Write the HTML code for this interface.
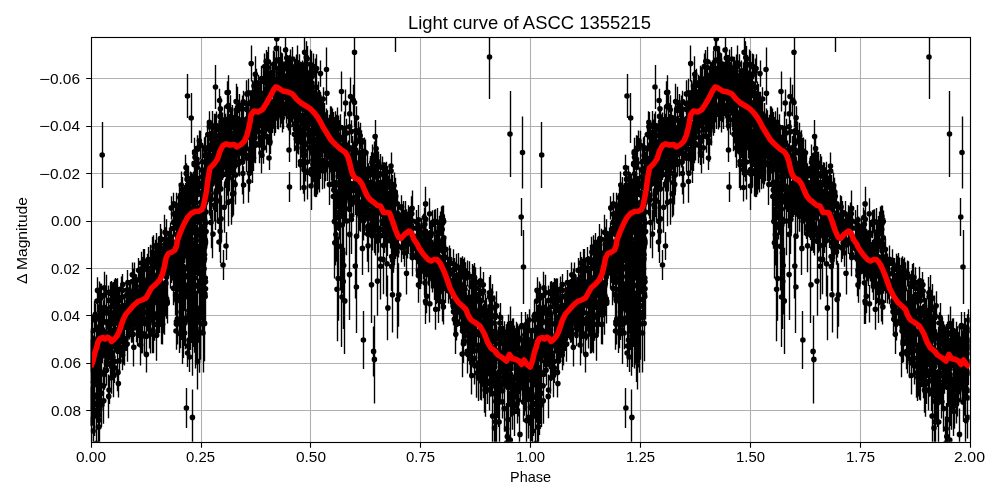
<!DOCTYPE html>
<html lang="en"><head><meta charset="utf-8"><title>Light curve of ASCC 1355215</title>
<style>
html,body{margin:0;padding:0;background:#fff;}
body{width:1000px;height:500px;overflow:hidden;font-family:"Liberation Sans",sans-serif;}
svg{display:block;}
text{font-family:"Liberation Sans",sans-serif;fill:#000;}
</style></head><body>
<svg width="1000" height="500" viewBox="0 0 1000 500">
<rect width="1000" height="500" fill="#fff"/>
<clipPath id="ax"><rect x="90.65" y="37.33" width="879.04" height="404.39"/></clipPath>
<!-- grid -->
<path d="M91.5 37.5V442.5M201.5 37.5V442.5M310.5 37.5V442.5M420.5 37.5V442.5M530.5 37.5V442.5M640.5 37.5V442.5M750.5 37.5V442.5M860.5 37.5V442.5M970.5 37.5V442.5M91.5 78.5H970.5M91.5 126.5H970.5M91.5 173.5H970.5M91.5 221.5H970.5M91.5 268.5H970.5M91.5 315.5H970.5M91.5 363.5H970.5M91.5 410.5H970.5" fill="none" stroke="#b0b0b0" stroke-width="1.11"/>
<g clip-path="url(#ax)">
<!-- error bars -->
<path d="M90.5 381.2v36.4M91.5 332.6v28M90.5 349.5v22.8M91.5 402.4v38.9M90.5 388.4v37.7M90.5 334.7v20.1M90.5 330.9v23.7M91.5 356.2v22.7M91.5 388.6v38.3M91.5 398.4v42.2M90.5 340.5v20.6M91.5 334.4v28.2M91.5 401.8v42.7M91.5 361.4v21.9M91.5 377.2v35.9M92.5 335.1v24.1M92.5 377.7v31.4M91.5 344.9v20.3M91.5 372v34.2M92.5 333.6v28.7M92.5 357.8v23.6M92.5 355.3v21.5M92.5 327.9v28.1M91.5 370v20.9M93.5 362.3v23.5M92.5 316v29.2M92.5 329.8v29.5M92.5 384.7v39.1M92.5 329.8v24M92.5 357v29.2M93.5 366.1v28.1M92.5 351.5v24.7M93.5 347.9v20.6M93.5 335.6v27.3M92.5 362.2v28.8M92.5 351.1v20.3M92.5 366.9v22.6M93.5 405.6v50.8M93.5 378.8v36.8M94.5 301.2v29.6M94.5 364.6v32.6M94.5 383.5v41.8M94.5 368.6v32.4M93.5 347.3v27.2M94.5 395.6v40.5M94.5 340v29.4M93.5 339.9v26.6M94.5 342.4v26.6M94.5 327.4v27.5M95.5 309.7v20.8M94.5 361.2v24.9M94.5 341.2v24.3M95.5 356.5v21.1M94.5 333.9v26.7M96.5 364.6v28.3M96.5 387.4v48.3M96.5 335.6v28.4M95.5 337.8v28.4M96.5 315.9v27.2M96.5 335.5v23.9M96.5 363v27M95.5 303.7v21.2M96.5 344.8v21.8M96.5 389.3v42.2M95.5 349.2v20.7M96.5 414.3v57.8M97.5 290v22.3M97.5 326v26.7M97.5 338v25.2M97.5 347.9v28.5M97.5 382.9v39.8M97.5 326v29.7M97.5 277.2v26.4M98.5 305v21.7M98.5 323.2v29.2M97.5 344.8v29.9M98.5 354.7v25.9M97.5 372.2v44M98.5 386.7v51.5M97.5 364.3v35M97.5 359.6v37.4M98.5 332.3v29.6M98.5 362.1v35.2M97.5 344.4v25.6M98.5 351.6v30.7M97.5 329.9v22.2M98.5 396.7v60.8M99.5 329.7v24M99.5 343.8v25.5M99.5 330v23.4M99.5 335.7v28.4M98.5 315v24.2M99.5 369.1v39M99.5 337.8v23.7M99.5 327.1v23.8M98.5 304.2v26.9M99.5 353.7v30.3M99.5 387.6v53.9M99.5 305.2v22M99.5 394.2v51.6M98.5 395.7v62.6M99.5 318.3v29.6M99.5 334.5v22.6M99.5 306.1v27.7M99.5 335.6v24.4M99.5 322.3v26.4M99.5 335.6v22.8M99.5 335.2v21.7M99.5 318.6v21.6M100.5 320.6v26.2M99.5 335.9v21.6M100.5 367.3v34.1M99.5 334.9v22.1M100.5 283.6v23.2M99.5 281.6v31.3M99.5 383.9v51.2M100.5 305v20.8M101.5 379.6v44.5M101.5 357.5v31.8M101.5 283.7v28.5M100.5 310.5v29.4M100.5 321.3v28.2M100.5 355.1v33.8M101.5 340.1v28.2M101.5 330.5v24.5M101.5 325.7v26.4M101.5 373v40.5M101.5 317.8v24.5M101.5 314.9v20.8M101.5 332v27.4M101.5 305.9v25.1M101.5 383.2v43.7M103.5 335v22.6M102.5 342.3v20.8M103.5 300.3v26.5M102.5 331.4v25.9M102.5 336.2v25.8M103.5 308.4v28.2M104.5 293.2v28.2M103.5 367.3v36.8M103.5 316.5v29.1M103.5 377.9v45.8M104.5 284.6v21.4M104.5 359.3v30.4M103.5 338.5v20.1M104.5 297.3v24.6M104.5 327.4v20.3M105.5 339.8v24M104.5 271.8v32.3M106.5 295.1v27.1M106.5 344.2v25M106.5 308.7v26.1M106.5 348.7v30.5M106.5 344.8v23M106.5 329.3v28.9M106.5 274.8v35.2M106.5 276.2v32.6M106.5 321.7v22.8M106.5 354.8v30.8M107.5 342.5v28.9M106.5 311.7v20.3M106.5 350.4v28.7M106.5 299.2v27.1M108.5 285.5v29.9M108.5 341.7v20.4M108.5 321.3v23.3M108.5 312.4v24.4M108.5 338.7v22.5M108.5 316.6v20.9M109.5 327.8v28M109.5 317.5v21M108.5 330.5v28.2M109.5 323.3v28.9M108.5 374.6v43.6M110.5 281.7v23.1M110.5 342v24.4M110.5 346.6v21.9M110.5 303.1v25.1M110.5 318v29.5M110.5 347.3v31.9M110.5 330.8v22.1M110.5 301v21.9M110.5 314.5v20.6M111.5 295.6v23M111.5 339.8v26M110.5 317.2v25.4M111.5 361.7v32.1M111.5 330.1v29.6M111.5 346.2v22.2M110.5 329.2v28.8M110.5 327.8v25.2M110.5 333v28M111.5 307.9v22.6M111.5 352.5v28.6M111.5 336.8v21.4M111.5 319.9v29.6M111.5 281.1v20.9M111.5 341.6v21.1M111.5 329.2v21.4M111.5 324v28.6M111.5 342.4v25.6M111.5 331.3v29.9M112.5 349.2v28.1M113.5 312.2v23.2M113.5 282.1v29.4M112.5 282.4v25.5M112.5 343.9v26.9M113.5 288.7v25.7M112.5 333.6v21.2M114.5 311.2v25.1M114.5 279.4v28.6M114.5 352.3v30.8M113.5 353.8v43.4M114.5 346.8v29.4M114.5 332v23.6M116.5 298.9v23.8M116.5 279v23.4M115.5 292.8v27.1M115.5 322.5v29.6M115.5 277.9v29.1M117.5 286.8v28.9M117.5 307.8v25M117.5 327.9v25.1M117.5 316.7v25.6M117.5 278.2v22.1M117.5 332.2v29M117.5 283v20M117.5 328v20.6M117.5 334.7v27.2M117.5 353.6v37.6M117.5 287.3v23.6M117.5 278.6v29.2M118.5 323.7v28.9M118.5 320.7v25M117.5 337.6v27.4M117.5 280.5v29.5M119.5 347.3v27M119.5 290.6v20.2M118.5 321.1v24.6M119.5 303.2v29.9M118.5 295.4v22.4M119.5 324.5v28.4M118.5 302.5v29M119.5 321.5v26.5M119.5 320.2v26.7M120.5 336v22M119.5 321.5v26.7M120.5 338.4v25.4M119.5 305.8v23.6M120.5 318.1v29.2M119.5 318.9v22.6M121.5 315.8v26.8M121.5 276.6v24.6M120.5 332.9v29.1M120.5 308.1v26.2M121.5 300v23.6M122.5 293.4v25.8M122.5 282.9v28.2M122.5 323.2v26.2M122.5 316.9v20.2M122.5 315.3v22.3M122.5 300.5v21.9M122.5 279.8v20.9M122.5 334.4v35.1M122.5 339.9v30.4M122.5 326.9v29.4M122.5 297.9v25.2M122.5 300v25.1M122.5 320.7v29.5M122.5 323.2v30M122.5 307.8v24.4M123.5 311v22.3M122.5 320.7v28.5M122.5 274.1v21.1M123.5 329.7v34.7M123.5 303v26.5M123.5 329v26.3M123.5 331.6v30.7M124.5 293.7v23.9M124.5 301.4v27.7M124.5 331.5v33.9M124.5 297.2v21.8M124.5 310.1v29.9M124.5 312.1v28M126.5 326.7v24.4M126.5 294.2v26.6M126.5 292.5v26.9M125.5 305.4v24.7M126.5 284.6v22.4M127.5 306.2v21M126.5 311v28.6M127.5 292.2v28.9M127.5 326.5v35.2M127.5 279.5v28.3M127.5 309.1v20M127.5 278.2v23.2M128.5 315.3v22.3M128.5 299v25.6M127.5 270v25.1M127.5 292.8v23.3M127.5 290.1v22.9M128.5 311.9v26.2M129.5 283.5v21.6M128.5 292.5v22.6M129.5 316.8v21.2M128.5 305.2v27.8M129.5 287.7v22.7M129.5 303.6v23.4M130.5 280.1v29.5M129.5 307.9v23.6M130.5 292.3v24.5M129.5 315.4v24.1M130.5 308.2v29M131.5 309.5v22.3M131.5 316.2v26.6M130.5 281.7v20.2M131.5 299.8v24.2M131.5 301.9v22M132.5 262.5v24.6M132.5 285.3v24.1M132.5 316.7v25.7M132.5 268.9v25.3M133.5 319.2v30M133.5 304.3v20.7M133.5 288v28.9M133.5 303.3v29.4M133.5 290.2v20.3M132.5 281.2v20.1M133.5 280.6v25M133.5 328v38.5M134.5 304v20.9M134.5 277.8v22.3M133.5 268.5v29.2M133.5 293.8v24.6M134.5 281.8v28.2M134.5 302.1v21.4M135.5 278.9v29M134.5 270.3v29.5M135.5 295.6v27.3M134.5 296.6v27.1M134.5 271.8v22.1M134.5 262.5v27.8M134.5 296.1v22.9M136.5 281.6v24.7M136.5 277.1v27.5M136.5 288.5v29.4M136.5 297.8v24.3M136.5 311.4v22.8M136.5 312.2v25.8M136.5 289.8v24.1M136.5 286.1v23.3M136.5 313.5v28.8M136.5 302.9v22.7M137.5 290.2v27.6M137.5 311.4v23.6M136.5 292.6v26.4M137.5 309.3v37M138.5 258v24.7M138.5 311.4v26.6M138.5 289.5v26.5M138.5 290.2v27.5M137.5 278.4v29M138.5 300.6v21.7M139.5 315.3v28.6M138.5 288.9v22.3M139.5 294.6v24.7M139.5 292.5v28.9M139.5 277.9v28M139.5 295.1v26M140.5 299.6v23M139.5 267.6v23.8M141.5 275.6v26.9M140.5 309.8v23.6M141.5 255.5v26.3M140.5 277.7v26M140.5 285.3v24.8M141.5 302.4v20.1M141.5 282.8v22.1M141.5 304.4v20.4M140.5 274.4v23.6M141.5 273.2v28.5M141.5 266.7v20.2M140.5 324.5v40.9M141.5 251.7v22.7M141.5 317.9v35.5M142.5 307.3v23.9M141.5 298.2v20.4M141.5 296.2v27.3M141.5 316.9v34.6M141.5 296.4v20.2M143.5 297.6v25M142.5 259.4v25M142.5 280.1v26.6M142.5 310.6v25.7M142.5 273.9v24.4M142.5 318.9v34.4M142.5 257v26.3M142.5 280.7v27M143.5 266.3v27.5M142.5 306.7v30.5M142.5 292.1v23.9M144.5 249v29.6M143.5 249v24.9M144.5 292.5v26.3M144.5 254.4v29.4M144.5 301.9v21.5M144.5 285.7v28.4M144.5 313v41.5M144.5 274.1v22.4M145.5 279v20.5M144.5 279.7v28.5M145.5 277.5v21.7M146.5 283.9v25.4M146.5 270.4v23.5M146.5 290.3v27.3M146.5 306.8v25.6M146.5 318.4v35.5M147.5 284.6v29.8M147.5 306.4v24.5M147.5 253.8v28.5M146.5 307.9v32.5M148.5 295.4v20.8M148.5 246.9v25.3M148.5 256.1v29.8M148.5 285.1v24.2M148.5 309.7v28.2M149.5 271.5v23.3M148.5 299.3v29.1M148.5 290.5v20.8M148.5 284.4v29.2M149.5 287.4v27.6M149.5 309.5v39M149.5 271.7v20.1M150.5 269.2v23.9M149.5 279.5v20.3M149.5 286.1v22.6M149.5 270.6v21.4M149.5 281.4v20.7M149.5 276.8v23M149.5 291.8v28.7M150.5 275.1v21.9M150.5 287.9v24.4M150.5 302.1v27.6M150.5 314.4v39M151.5 291.8v22.6M151.5 250.5v23.9M150.5 244.7v29.2M150.5 273.1v25.7M151.5 289.7v22.6M150.5 272.8v21.7M152.5 291.4v30.1M152.5 297.2v24.7M151.5 284.7v21.7M152.5 291.1v28.9M152.5 268.8v24.8M152.5 292v24.1M152.5 280.6v24M152.5 275.3v22.5M152.5 313.2v40M151.5 256.3v24.2M151.5 281.4v24.3M152.5 293.7v24.4M151.5 275.8v26.6M151.5 292.5v30.6M152.5 236.7v30.5M152.5 311.6v41.4M153.5 310.6v41.1M153.5 273.7v27.1M153.5 276.6v20.6M153.5 298.4v29.4M153.5 281.9v20.7M153.5 287.8v22.6M153.5 316.2v37.1M153.5 235.2v23.1M153.5 297.6v32.9M153.5 269.3v26.1M153.5 289.8v26.5M153.5 280.3v28.2M153.5 300.1v36.5M153.5 250.9v26.6M154.5 297.4v36.1M155.5 239.7v27.6M154.5 268.4v29M154.5 280.5v22.2M154.5 307.7v33M154.5 269.3v20.5M154.5 299.3v35.2M156.5 251.7v22.2M156.5 272.2v23.2M156.5 260.6v29.6M156.5 239.9v27.1M156.5 244.6v29.1M156.5 233.1v24.1M156.5 243v29.7M157.5 297v36.5M156.5 284.1v21.2M156.5 256.7v21.2M156.5 266.5v20.8M156.5 276.8v27.1M156.5 241.3v27.4M156.5 276.5v21.9M156.5 281.8v28.3M156.5 287v29.8M156.5 309.8v50.9M158.5 248.8v29.1M158.5 247.8v23.4M157.5 302.2v30.7M157.5 250.5v20.5M158.5 239.1v26.8M158.5 244.6v26.9M158.5 255.2v22.4M159.5 272.3v24.9M158.5 256.2v27.3M158.5 296.5v37.2M159.5 236.6v29.4M158.5 299.7v30.6M158.5 283.8v20.2M159.5 296.3v36.7M159.5 239v20M158.5 279.2v20.8M158.5 248.8v22.7M160.5 295.1v31.4M160.5 282.7v24.3M160.5 234.1v21.1M160.5 295.2v31.2M160.5 282.6v27.7M159.5 276.2v29.5M160.5 273.6v24.5M159.5 258.9v20.6M160.5 246.2v24.2M159.5 283.3v24M160.5 274.7v24.9M160.5 224.1v28.8M161.5 275.4v27M160.5 246v27M161.5 304.9v39.3M161.5 253.8v26.8M161.5 289.8v34.7M161.5 282.9v30M161.5 228.8v20.9M162.5 285.7v30M162.5 277.5v27.3M162.5 275.8v30.5M162.5 257.6v28.3M162.5 246.2v23M162.5 291.8v40.9M163.5 295.7v37.9M162.5 304v40.5M164.5 280.8v34.4M163.5 247.5v24.8M164.5 239.4v28.9M163.5 241.4v23.2M165.5 271.1v29.8M165.5 280.6v35.4M165.5 280.5v30.9M164.5 214.8v34.9M164.5 290.3v44.4M165.5 266.6v34.1M165.5 268.9v27.4M165.5 259.6v24.2M165.5 227.3v24.3M166.5 239.6v27.8M165.5 281.6v32.7M166.5 233v24.3M167.5 258.3v26.5M167.5 243.7v22.8M167.5 239.4v22.3M166.5 263.6v27.1M166.5 219.2v28.4M167.5 252.2v29M167.5 284.3v37.8M166.5 279.2v39.5M166.5 256.1v26.3M166.5 246.4v21.8M167.5 278.6v45M168.5 230.9v20M168.5 237.9v22.8M168.5 250.7v23.5M167.5 250.8v28M167.5 246.1v22.2M168.5 252.2v20.8M169.5 237.5v28.8M169.5 231v28.7M170.5 224.9v28.9M170.5 255.8v23.2M170.5 241.2v22.3M169.5 227.6v22.2M169.5 241.2v24.2M170.5 248.7v23M170.5 255.7v29.9M171.5 239.2v22.4M170.5 257.2v31.3M170.5 233.4v27.7M171.5 246.9v29.7M170.5 222.5v28.2M170.5 256.6v27.3M171.5 246.9v27.6M171.5 226.1v28.7M171.5 256.1v27M171.5 254.1v26.3M171.5 255.5v20.1M171.5 196.3v23.3M173.5 262.5v29.7M173.5 192.8v22M173.5 218.5v20.1M173.5 241.3v24M173.5 200.4v27.3M173.5 263.7v28M173.5 237.2v28.1M173.5 207v29.4M173.5 271.2v34M173.5 249.8v21.8M173.5 212v20.9M173.5 253.5v29.3M173.5 247.2v21.7M173.5 239.9v21.1M173.5 249.3v29.6M173.5 250.7v27.6M173.5 260v24.8M174.5 259.5v26.4M173.5 228.7v28.7M173.5 256.3v21.6M175.5 257.9v34M175.5 273.2v42M175.5 256.4v27.4M175.5 240.1v24.6M174.5 210.8v25.2M174.5 210.7v25.2M176.5 272.9v44.5M175.5 208.3v22M176.5 234.2v20.7M176.5 234.8v27.5M176.5 264.1v33.2M176.5 254.4v30.3M175.5 240.4v27.7M176.5 263.3v38.4M175.5 277.4v35.7M175.5 259.2v35.7M176.5 223v23.8M177.5 269.8v39.4M176.5 298.5v46.7M176.5 241v26M176.5 243.9v21.5M176.5 278.9v43.9M176.5 212.8v22.7M176.5 235v23.4M177.5 220.1v28.7M177.5 242v29.7M176.5 204.3v28.5M176.5 192.8v26.6M176.5 279.1v40.3M177.5 246.2v20.9M177.5 239.6v29.5M176.5 298.1v51.6M177.5 230.7v20.3M177.5 207.6v25.3M177.5 225.9v23.2M177.5 208.2v23.5M177.5 244.9v22.2M177.5 246.6v22.2M177.5 242.7v20.8M177.5 210.5v25.9M177.5 276.1v39.4M177.5 232.7v29.9M177.5 250.1v24.3M177.5 262.6v31.1M177.5 293.6v50.8M179.5 295.7v53.9M179.5 214.1v26.2M179.5 243.8v34.3M179.5 273.9v48.2M179.5 295.6v56M179.5 250.7v29M179.5 219.3v21.5M179.5 233.9v20.8M179.5 214.7v23.6M178.5 193.2v24.2M179.5 237.5v22.6M179.5 228.4v29M179.5 218.4v22M179.5 222.8v23.4M179.5 221v22.8M179.5 237.8v26.7M179.5 242.1v32.2M179.5 233.8v21M178.5 253.3v36.7M179.5 230.3v29.9M179.5 243.1v25.2M179.5 253.3v33.5M178.5 229.1v25.9M179.5 291.8v61.1M179.5 212.8v23M179.5 212.5v29.2M179.5 183.1v29.1M179.5 201.1v20.9M179.5 195.1v27.5M179.5 231.1v23.7M179.5 237.5v24.2M179.5 239.6v31.5M179.5 239.8v27.7M179.5 249.1v31.9M180.5 234.9v27.2M181.5 200.9v21.7M181.5 284v55.9M181.5 171.6v26.7M180.5 249v27.3M180.5 193.4v24.2M180.5 268v45.2M181.5 268v44.4M180.5 207.5v24.7M180.5 207.2v23.3M180.5 191.6v21.8M180.5 218.1v26.7M180.5 199.7v24.8M181.5 205.6v22.2M181.5 245.3v33.9M180.5 239.2v23.6M180.5 274.5v46.3M180.5 255.4v32.1M180.5 290.3v58M181.5 186v21.8M181.5 228.9v22M181.5 200.9v26M182.5 203.1v28.6M181.5 256.8v36.1M181.5 200.8v22.6M181.5 204.2v22M181.5 226.7v24.7M182.5 214.2v25.1M181.5 222.5v25.7M181.5 257.3v32.9M181.5 260.7v37M182.5 241.2v24.8M181.5 276.1v48.1M183.5 188v27M183.5 250.3v32.4M182.5 177v25M182.5 224.6v26.4M183.5 194.9v23.5M182.5 224.8v22.8M183.5 267.2v41.9M182.5 238.7v25.1M182.5 270.6v51.9M182.5 243.4v35.5M182.5 283.1v51.2M182.5 283.3v50.9M183.5 291.3v66.7M182.5 296v68M183.5 206.4v29.3M183.5 260.6v46.4M183.5 265.8v42M184.5 193.2v23.9M184.5 264v47M183.5 209.1v29.8M183.5 188.4v22M184.5 220v27.7M183.5 205.1v26M183.5 234.5v34.8M184.5 228.1v20.1M183.5 251.2v35.7M183.5 229.5v31.2M185.5 287.7v61.6M185.5 191.8v25.7M184.5 235.1v28.2M185.5 193.1v23M185.5 183.1v22.7M184.5 185v21.1M184.5 210.2v23.7M184.5 218.4v26.5M185.5 188.9v22.5M185.5 267.5v45.2M186.5 181.1v23M186.5 194.8v25.5M186.5 213.7v26.2M185.5 211.8v30M186.5 163.2v20.7M185.5 210.2v26.9M185.5 212v22.6M185.5 154.8v25.7M186.5 239.6v31.8M187.5 168.4v22M187.5 255.9v41.4M186.5 222v22.5M187.5 187.6v22M187.5 228.7v30.1M187.5 233v36.7M187.5 217.7v23.4M187.5 217.3v22M187.5 176.1v20.3M187.5 240.2v32.6M187.5 270.7v51.8M187.5 228.2v23.6M188.5 165.8v26.3M187.5 259.5v51.7M188.5 280.8v60M188.5 203.4v23.6M188.5 187.6v28.9M188.5 241.3v33.8M188.5 206.7v23.8M188.5 251.4v47.7M188.5 287.2v60.6M188.5 215.3v22.7M189.5 284.2v60.6M189.5 200.7v22.5M189.5 190.5v27M188.5 232.8v28.7M188.5 194.4v24.7M189.5 229.9v31M189.5 228v28.5M188.5 267.8v50M189.5 236.4v31.6M188.5 264.5v45.7M190.5 225.8v25.4M190.5 171.5v25.6M189.5 180.6v22.6M190.5 205v20.7M189.5 217v29.9M189.5 181.4v21.2M190.5 204.6v29.2M189.5 236.6v40.5M189.5 197.2v21.4M189.5 200.8v24.3M189.5 237.1v33.4M190.5 227.7v26.5M190.5 262.2v46.9M190.5 223.4v34.7M190.5 259.5v52.9M189.5 255v40.1M190.5 275.3v58.5M190.5 286.5v63.5M190.5 222.7v34.2M190.5 198.8v20.3M191.5 207.1v28.9M191.5 172.3v29.5M190.5 243.2v42.1M190.5 236.6v42M191.5 283.5v59.6M190.5 273.8v58.1M192.5 173.7v23.1M192.5 277.2v56.8M192.5 210.4v20.7M192.5 215.5v26.5M192.5 219.4v26.7M192.5 181.8v25.7M191.5 233.3v32.8M192.5 256v42.2M192.5 291.4v67M192.5 229.2v38.3M192.5 248.7v38.3M193.5 247.5v40.9M192.5 212v22.9M192.5 206.1v22.3M192.5 230.9v31.8M192.5 187.5v29.3M192.5 188.8v20.1M192.5 211.2v28.3M192.5 247v37.5M192.5 238.7v44.3M192.5 256v52.5M192.5 267.1v59.3M192.5 254.7v46M192.5 249.4v43.1M192.5 292.9v74.2M192.5 291.4v61.7M192.5 295.8v79.9M194.5 277.3v60.5M194.5 288.3v64.4M194.5 266.7v52.9M193.5 280.1v66.9M194.5 149.2v28.2M194.5 139v27.8M194.5 198.6v28.4M194.5 242.3v39M194.5 137.8v28.1M193.5 175.6v26.9M193.5 188.3v22.5M194.5 153.8v21.7M194.5 250.1v44.4M194.5 249.8v47.2M193.5 277.7v65.3M194.5 171.6v24.6M195.5 188.7v27.7M195.5 170.8v28.8M195.5 187.5v21.7M194.5 248.3v39.1M194.5 231.4v29.3M194.5 144.6v25.3M194.5 165.8v29.6M195.5 237.4v32.6M194.5 254.9v46.2M195.5 236.1v43.7M194.5 228.1v30.9M194.5 272.8v52.4M195.5 171.1v28.2M195.5 266.5v60.3M195.5 196.8v23M195.5 204.5v27.5M195.5 175v20M195.5 231v36.1M195.5 171.9v25.9M195.5 160.2v27.1M195.5 204.1v27.9M195.5 199.4v26.4M195.5 260.7v49.4M195.5 240.6v46.1M196.5 224.9v28.3M195.5 237v43.1M195.5 295.6v72.8M196.5 292.3v72.1M197.5 146v26.5M197.5 199.1v21.1M196.5 163.7v29.1M197.5 172.4v28.4M197.5 286.7v69.7M197.5 220v25.6M197.5 278.7v67.1M197.5 241.9v38.3M197.5 249.3v45.7M197.5 206.1v25M197.5 231.2v30.5M197.5 149.4v27.7M196.5 178.3v27M196.5 234.1v33.8M197.5 242.4v38.1M197.5 278.3v59.3M197.5 135.2v26.4M197.5 298.5v83.4M197.5 285.5v63.6M197.5 155.6v23.4M197.5 135.8v26.7M197.5 203.8v27.7M197.5 209.9v24.1M197.5 183v20.6M197.5 233.7v38.4M197.5 262v47.9M197.5 235v41.6M199.5 233.7v33.7M199.5 206v29.2M198.5 176.4v20.6M199.5 215.7v30.3M199.5 259.3v49.6M199.5 243.6v39.4M199.5 202.4v27.2M199.5 169.9v26.3M199.5 219.8v30M199.5 130.6v20.4M199.5 217.6v31.6M199.5 248.9v47M199.5 248v39.4M199.5 249.8v47.4M199.5 258.1v53.1M199.5 296.9v70.7M199.5 291.5v81.2M200.5 242.4v40.5M200.5 262.6v54M200.5 195.6v26.3M200.5 227.5v27.9M200.5 192.3v28.6M200.5 201.3v22.8M200.5 256.5v48.6M200.5 262v58.7M200.5 232.9v31.6M200.5 282.6v68.8M200.5 287.2v61.6M200.5 130.8v28.6M200.5 259.9v49.1M201.5 260.8v53M201.5 238.7v45.4M200.5 287.7v72M201.5 194v25.1M200.5 217.5v22.4M201.5 189.6v27.9M200.5 190.3v24.1M201.5 159v21.8M202.5 169.6v28.3M202.5 181.5v28.2M201.5 193.4v20.4M202.5 162.7v28.5M202.5 223.4v26.6M201.5 225.5v28.7M202.5 193.6v26.9M201.5 208.2v23.5M201.5 181.7v24.7M202.5 150v24M202.5 238.7v44.9M201.5 231.7v38.6M202.5 194.3v24.2M201.5 231.2v41.1M202.5 261.3v55M202.5 239.2v43.8M202.5 228.1v28.9M202.5 277.5v56.7M203.5 205.3v20.6M203.5 228.6v37.7M203.5 213.2v34.6M203.5 168v27.2M203.5 270.7v57.2M203.5 234.3v38M203.5 259.8v59.8M203.5 282.2v60.5M203.5 293.4v79.2M204.5 232.5v44.5M204.5 144.6v21.7M204.5 229.7v36.4M204.5 237.7v42.1M203.5 263.9v52.5M203.5 217.6v34.8M204.5 165.6v22.9M204.5 137.3v23.6M204.5 211.3v29.6M204.5 211v33.2M204.5 230.4v42.1M204.5 197.1v22.5M204.5 170.8v24M204.5 191v29.6M203.5 219.9v36.3M204.5 240.9v39.7M204.5 224.7v43.3M204.5 260v60.2M204.5 221.6v33.3M203.5 233.6v40.1M204.5 246.1v45.3M204.5 285.5v75.8M204.5 220.6v35.1M204.5 175.9v24.1M204.5 216.2v33M204.5 217.2v29.4M204.5 203.9v29.1M204.5 180.9v24.3M204.5 188.7v21.4M205.5 140.4v28.3M204.5 204.3v32M204.5 263.1v61.7M205.5 267.3v58.5M204.5 226.8v41.5M205.5 223.5v40.7M206.5 187.1v25.7M205.5 192.4v20.5M205.5 185.9v27.9M205.5 209.8v25.9M205.5 161v20.3M206.5 196.3v31.4M206.5 215.7v31.9M205.5 182.1v25.6M205.5 136.1v23.1M205.5 161.9v27.5M205.5 251.9v59.9M205.5 224.2v37.3M205.5 258v61.5M205.5 253.1v49.9M205.5 220.2v39.4M205.5 223v36.5M206.5 148.2v20.5M206.5 149.3v25.7M206.5 166.2v26.5M206.5 181v25.5M206.5 164.8v21.2M208.5 137.7v21.4M207.5 151.9v24.6M207.5 123.1v22.8M207.5 159v24.1M207.5 167.7v26.8M207.5 151.2v26.3M209.5 182.7v32.8M208.5 164.8v23.2M208.5 176.1v21.1M210.5 151.4v22.4M209.5 156.3v23.7M209.5 115v23.5M209.5 151.9v28.5M209.5 112.1v29.1M210.5 151.4v21.1M210.5 162v22.5M209.5 148.5v20.3M209.5 111.2v22.3M210.5 134.3v30M210.5 181.5v37.3M210.5 149.3v20.1M210.5 162.3v28.6M210.5 180v30.5M211.5 123.7v27.7M210.5 130.9v28.3M210.5 132.8v24.6M211.5 196.5v51.8M212.5 123.9v21.3M212.5 169.8v28.2M212.5 111v29.6M212.5 162.4v29.3M212.5 150.8v20M212.5 160.7v26.2M211.5 163.5v29.1M212.5 159.2v25.9M212.5 167.7v30.1M212.5 141.5v27.3M212.5 151.9v24.3M212.5 158.6v23.4M212.5 130v27.2M212.5 152.3v28.9M212.5 156.3v22.1M212.5 149.2v26.5M212.5 130.8v23.8M212.5 152.4v20.8M212.5 210v48.2M214.5 119.5v28.4M214.5 155.7v22.3M214.5 188.5v33M213.5 134.5v29.7M214.5 137v23.3M213.5 153.6v26.8M214.5 142.4v25.4M214.5 114.6v26.7M215.5 123.6v27.7M214.5 113.7v25M215.5 137.3v23.9M215.5 163.8v25.4M215.5 155.2v27.9M214.5 125.7v24.8M215.5 134.9v22M215.5 185.4v44.5M215.5 153.9v26.4M216.5 111.4v28.5M215.5 158.5v24.2M215.5 181.4v35.5M215.5 153.9v20M215.5 113.8v28M216.5 123.8v23.9M216.5 116.7v26.7M215.5 174.4v37.4M215.5 116.5v24.7M216.5 173.3v38.8M216.5 129.7v23.9M216.5 166.6v26.8M216.5 152.3v27M216.5 148.6v25.1M216.5 144.5v20.5M217.5 181.7v38.5M217.5 148v26.1M217.5 159.4v28.8M217.5 149.9v25.1M217.5 160.2v26.8M217.5 151.3v21.5M218.5 167v26.1M219.5 166.2v35.6M219.5 166.7v30.8M218.5 138v25.3M219.5 160v28.9M218.5 131.2v29.3M219.5 149.1v27.9M219.5 144.9v25.7M219.5 192.3v58.1M219.5 160.8v24.6M220.5 143.2v27.6M220.5 139.8v26.6M219.5 140v26.6M219.5 117.2v26.3M219.5 105.7v21.3M219.5 157.5v30.1M219.5 152.4v24.7M220.5 135.2v25.7M219.5 149.3v21.2M219.5 120.8v28.6M220.5 145.6v23M219.5 152.9v20.8M219.5 88.8v23.4M220.5 199.9v63M220.5 96.2v25.1M220.5 123.4v24M220.5 122.9v22.3M220.5 115v21.1M220.5 168.7v40.3M220.5 132.8v23.1M221.5 108.4v26.9M220.5 132.5v25.7M221.5 195.4v46.7M221.5 151.9v27.5M221.5 151.7v30.1M221.5 118.8v21.4M221.5 140.1v24M221.5 126.1v27.5M221.5 115.4v25.6M221.5 155.1v33.4M221.5 141.1v23.3M221.5 124.1v28.1M222.5 154.6v23.4M221.5 161.1v29.3M223.5 136.1v23.8M222.5 123.7v21.6M223.5 149.4v23.9M223.5 137.2v29.5M222.5 154.6v25.3M222.5 112.5v22.7M223.5 146.3v27.1M224.5 120.2v29M224.5 130.6v20.8M224.5 181.9v50.8M224.5 139.2v29.9M224.5 140.2v27.8M224.5 117v28.4M225.5 142.6v27.7M225.5 131.2v25.8M224.5 145.2v24.6M224.5 105.4v28.9M225.5 113.9v28.1M226.5 140.7v23.1M226.5 119.1v27.5M226.5 116.7v29.7M225.5 150.9v22.9M225.5 113.8v30M226.5 157.6v33.9M226.5 164.2v42.2M227.5 134.4v26.9M227.5 92.2v28.6M227.5 165.5v30.3M227.5 123.1v28.1M227.5 109.5v21.7M227.5 156.2v32.7M227.5 137.4v22.4M227.5 81.3v22.4M226.5 161.2v41.6M228.5 145.4v23.1M228.5 94.4v22.5M227.5 136.4v24.1M227.5 140.8v27.3M227.5 158.8v31.1M228.5 131.3v29.5M228.5 124.4v20M228.5 144.1v23.3M228.5 117v26.1M228.5 75.3v34.1M228.5 178.3v47.9M229.5 163v28.4M228.5 106.7v26.9M229.5 155.4v27.4M229.5 136.7v26.1M228.5 118.3v22M229.5 141.4v22.9M229.5 117.7v25.6M229.5 157.3v33.1M229.5 123.5v25.6M230.5 137.7v25M229.5 134.8v29.7M229.5 113.9v29.3M229.5 150.3v31.2M230.5 130.6v29.7M230.5 107.1v27.7M230.5 95.3v28.9M230.5 150.8v25.3M230.5 107.7v29.1M230.5 131.9v27.5M231.5 137.6v27M231.5 120.1v27.4M232.5 135v23.4M231.5 112.6v26.4M231.5 150.7v24.2M231.5 132.5v22M231.5 146.2v26.9M231.5 108.4v29.1M232.5 137v20.8M231.5 177.1v47.7M232.5 141.6v27.1M232.5 146.5v29.2M232.5 146.4v23.3M232.5 105.1v24.9M232.5 135.9v28M233.5 129.5v29.6M232.5 170.7v46.6M233.5 129.7v26.7M233.5 127.2v26.6M233.5 122.6v29.2M234.5 120.4v25.3M234.5 127.5v27.8M233.5 159.7v45.7M233.5 171.2v44.4M235.5 137.1v20.6M234.5 126.9v21.5M235.5 109.6v21.8M235.5 153.8v22.5M234.5 148.1v21M234.5 135.2v23.8M234.5 116.8v22.6M235.5 132.1v28.8M234.5 108.1v25M234.5 148.1v26.5M235.5 164.4v40M235.5 105.4v26.6M235.5 120.2v28.1M235.5 132.9v28.8M236.5 139.5v21.2M236.5 137.9v21.9M236.5 121.8v27.6M236.5 131.1v25.8M236.5 119.3v23.9M236.5 129.5v29.3M236.5 143v25.6M236.5 83.8v35.6M235.5 157.9v34.1M237.5 91.7v33.2M237.5 86.8v31.1M237.5 98.4v24.1M238.5 152.8v22.7M238.5 126.8v26.8M239.5 127.6v20.8M238.5 115.9v22.5M239.5 115.8v22.9M239.5 135.2v22.3M238.5 124.5v22.5M238.5 125v23.1M239.5 123.6v21.4M239.5 131.2v26.4M239.5 118.7v26.2M239.5 146.6v29.9M239.5 94v23M239.5 141v23.7M240.5 122.5v21.7M241.5 116.7v29.9M241.5 109.8v26.3M242.5 95.6v26.2M241.5 131.2v29M242.5 129.9v27.7M242.5 134.8v27.1M242.5 139.7v27.7M241.5 117.9v28.9M241.5 105v29.5M243.5 90.7v22.5M242.5 135.4v20.1M243.5 111.7v25.8M242.5 120.6v28.4M243.5 108.2v23.1M243.5 115.1v28.7M242.5 145.7v32.9M242.5 152.5v42M244.5 128.5v25.8M244.5 129.5v25.5M243.5 121.3v24.2M243.5 126v20.3M243.5 110.8v26.8M243.5 143.1v20.7M243.5 166.3v37.5M245.5 136v23.2M246.5 89.9v28.2M246.5 112.8v24.7M246.5 96.1v26.1M247.5 105.3v26.5M246.5 80.3v27.2M246.5 124.8v25.8M246.5 144.3v27.6M247.5 124.4v21.6M248.5 105.9v24.5M247.5 107.7v26.2M247.5 116.4v27.8M247.5 119.5v21.1M249.5 134.9v28.8M248.5 97.8v29.5M249.5 139.8v29.7M248.5 108.3v21M249.5 116.3v29.6M249.5 113.9v21.1M248.5 78.8v27.9M248.5 116.8v20.6M248.5 160.3v42.4M249.5 113.6v20.3M249.5 143.3v29.7M250.5 90.4v23.7M249.5 154.7v37M251.5 123.9v28.3M251.5 118v30.4M251.5 92.9v22.3M250.5 100.8v29.5M250.5 135.2v37.7M251.5 90.3v23.6M250.5 120.5v31.9M251.5 118.1v23.1M251.5 110.6v26M251.5 99.4v26.9M251.5 120.8v26.5M252.5 80.2v28.1M251.5 134.3v38.9M252.5 90.8v25.1M252.5 87v27M252.5 105.4v23.2M252.5 97.5v22.1M252.5 127.1v28.6M252.5 84.6v20.7M252.5 87v29.6M252.5 131.6v39M252.5 137.8v45.2M254.5 113v29.5M254.5 83v20.8M253.5 112.8v25.6M253.5 121.1v31.3M254.5 73v26.1M254.5 127v31.4M254.5 92.8v24.1M254.5 103.2v22M253.5 90v25.5M255.5 127.7v35.6M255.5 95.6v20.1M255.5 103.3v22.9M255.5 56.3v35.9M255.5 126.6v33.9M256.5 98.6v25M255.5 76.2v29.8M255.5 117.3v27.4M256.5 105.2v27M255.5 108.9v29.1M256.5 81.5v24.5M255.5 69.9v25.9M256.5 68.8v29M256.5 81v29.7M256.5 70v25.4M256.5 116.1v24.5M257.5 80.8v22.4M256.5 94.5v23.5M256.5 111.1v29.4M256.5 99.6v20.9M256.5 108.8v26.3M258.5 74.7v21.2M258.5 119.1v25.5M258.5 99.8v21.1M257.5 95.5v28.5M258.5 104.2v23.1M258.5 99.9v23.2M257.5 97.4v21.6M259.5 103.4v25.3M259.5 126.5v36.7M259.5 105.8v26.1M258.5 101.5v23.8M259.5 110.6v23.3M260.5 83v29.2M259.5 121v32.8M259.5 109.1v20.1M259.5 84.4v21.2M261.5 83.7v22.6M261.5 103.8v20.6M260.5 89.6v21.4M260.5 92.2v26.5M261.5 110v25.8M261.5 65.7v25.5M261.5 137.2v36.1M262.5 106.9v25.4M261.5 89.4v23.3M261.5 113.2v25.6M262.5 111.1v27.2M262.5 123.8v34.2M261.5 67.1v28.3M263.5 67.5v25.9M263.5 98.3v26.3M263.5 81.4v25.7M263.5 109.8v20.6M263.5 89.1v22.2M263.5 131.8v31.9M263.5 80.2v26.1M263.5 106.5v21.1M263.5 104.2v20.8M263.5 93.3v27.1M263.5 81.7v27.1M263.5 97.1v29.7M264.5 91.7v24.4M264.5 91.3v23.9M264.5 93.4v26.5M263.5 118.4v35M264.5 103.6v27.3M264.5 53.4v26.3M264.5 95.5v27.8M264.5 93.2v27.6M264.5 114v32.3M265.5 69.3v20.7M266.5 120v32.8M266.5 96v25.6M265.5 89.2v25.1M266.5 76.2v24.9M265.5 87.3v22M265.5 107.3v31M265.5 108.7v25.6M266.5 75.2v29.7M266.5 70.3v23.8M266.5 72v22.8M266.5 98.8v27.6M266.5 69.6v29.6M266.5 90.9v29.3M266.5 99.6v29.4M266.5 103.4v30M266.5 103v28.8M266.5 115.6v25.9M266.5 62.3v31.6M266.5 50.1v22.4M268.5 106.8v25M268.5 97v29.1M268.5 96.2v28.1M268.5 84.5v24.7M268.5 97.7v23.8M268.5 72.8v28.4M268.5 104v21.8M267.5 101.6v27M267.5 51.9v31.3M268.5 46.7v30.2M269.5 70.3v28.2M269.5 79.3v25.1M269.5 110.7v28.2M269.5 122.7v39.4M269.5 82.6v22.5M269.5 107.3v28.7M269.5 119.8v41.9M270.5 94.7v21.4M270.5 67.3v29.2M270.5 88.4v27.4M270.5 74.4v26.5M270.5 94.4v23.4M270.5 77.3v23M270.5 73.6v20.9M270.5 70.6v22.8M270.5 61.4v28M270.5 91.1v20.7M270.5 115.5v30.5M270.5 102v33.2M270.5 99.6v22M270.5 68.5v26.6M270.5 81.7v22.7M270.5 89.5v27.1M270.5 92.9v24M270.5 73.7v20.1M271.5 107.9v29.4M271.5 108v37.5M272.5 99.8v21.9M271.5 80v26.9M271.5 71.6v20.3M272.5 103.8v29.3M272.5 105.8v26.2M273.5 61.8v26.8M273.5 92.7v28.8M273.5 60.3v23.5M273.5 93.2v31.8M273.5 70.3v22.9M273.5 70.6v25M274.5 69.1v28.1M273.5 50.6v27.6M274.5 74.8v21.3M273.5 66.2v25.6M274.5 90.6v22.2M274.5 99.9v35.8M273.5 50.6v27.6M274.5 51.5v33.1M275.5 88.7v29.9M275.5 80.1v26.7M275.5 97.6v35.5M275.5 80.9v27.8M275.5 78.9v26.2M275.5 93.3v29.3M276.5 78.5v26.3M276.5 90.5v30.2M276.5 70.8v27.6M276.5 76.7v24.2M276.5 42.6v35.1M277.5 97.1v32M278.5 49.4v23.2M278.5 94.2v28.9M278.5 64.9v27M278.5 54.2v29M278.5 69.5v21.1M278.5 77.8v25M279.5 70.7v21.3M278.5 101.7v24.9M279.5 72.6v23.9M278.5 96v33.4M279.5 82.2v23.9M278.5 45.7v28.2M279.5 59.4v27.8M280.5 101.8v25.7M279.5 86.5v20.9M280.5 46.5v26.6M279.5 61.5v22.8M280.5 68.8v22M279.5 80v21.1M281.5 52.5v21.7M281.5 60v27.7M280.5 91.2v29.6M282.5 53.3v26.8M281.5 100.5v23.3M281.5 55.6v23.9M282.5 75.9v21.9M281.5 87.9v22.1M281.5 85v24.4M282.5 59v21.4M281.5 89.8v20.2M282.5 84.8v21.6M281.5 78.7v25.4M283.5 92.7v21.9M282.5 94.5v27.8M282.5 103.6v29M282.5 79.2v20.3M282.5 78.4v28.7M283.5 97.9v31M284.5 61.4v28.7M283.5 65.1v22.6M284.5 62.4v29.2M285.5 78.2v22.2M285.5 84.3v20.8M286.5 96v27.7M286.5 65.5v24.4M286.5 80.8v24.4M286.5 66v25.4M286.5 56.5v24.4M286.5 79.8v29M286.5 68.5v29.2M287.5 84v26.4M286.5 85.2v25.4M287.5 68.6v20.1M287.5 94.4v23.2M286.5 53.6v21.9M286.5 70.5v20.7M286.5 46.9v22.2M287.5 54.9v21.9M288.5 102.6v27.8M288.5 98.3v25M288.5 90.1v29.5M288.5 62.8v29.7M288.5 58.7v23.6M288.5 66.1v28.5M288.5 87.7v23.1M288.5 69.4v29M288.5 96.2v23.7M289.5 111.4v28.7M288.5 91.7v24.6M289.5 54.9v23.9M290.5 71v25.9M290.5 49.5v30.9M290.5 85v22M290.5 104.7v30.1M290.5 75.8v26.6M291.5 62.1v29M291.5 98.7v20.5M291.5 82.9v23.7M292.5 98.9v28.3M291.5 60.2v22.8M292.5 95.2v30.6M292.5 79.4v25.2M292.5 94v20M292.5 65.2v25.7M292.5 47v24.1M293.5 64.2v23.9M294.5 59.5v25.9M294.5 56.8v25.2M294.5 92.1v24M294.5 117.1v34.1M293.5 98.7v20.3M295.5 58.8v25.4M295.5 77.6v27.2M294.5 56.7v25M295.5 75.2v26M295.5 86.4v27.1M295.5 102.4v29.4M295.5 114.5v29M294.5 108.1v31.7M296.5 105.4v33.1M296.5 72.8v26.1M296.5 100.3v20.4M296.5 120.8v36.4M296.5 111.6v33.7M295.5 101.7v31M296.5 84.6v27.8M296.5 117.1v32.1M295.5 78.7v25.5M297.5 56.2v20.3M297.5 75.8v27.6M296.5 89.4v28.4M296.5 72.8v24.4M296.5 54.4v33.3M296.5 127.8v40.3M297.5 116v37.6M297.5 77.7v20.8M297.5 90.1v29.5M297.5 88.7v29.9M297.5 85.3v20.7M297.5 45.4v35.1M298.5 116.1v29M298.5 123.2v31.2M299.5 77.2v28.6M298.5 67.8v26.4M298.5 110.3v33.7M298.5 104.9v26.9M299.5 54.3v20.1M299.5 81.7v22.2M300.5 115.6v33M300.5 73.2v28.6M300.5 109.4v21.7M299.5 91.8v25.4M300.5 91.7v24M300.5 116.7v37.2M300.5 73.7v29.3M300.5 135.2v52.8M300.5 139.2v51.1M300.5 64v22.9M300.5 125.9v31.5M300.5 121.9v40M300.5 125.6v31.3M300.5 65.7v26.7M300.5 91v29.2M302.5 60.5v20.5M302.5 132.3v37.9M302.5 93.9v23.3M302.5 104.7v21.4M302.5 119.6v38.4M301.5 75.9v28.9M301.5 63.5v24.1M302.5 116.5v33.1M302.5 108.4v30M302.5 77.1v25M302.5 88.6v20.7M302.5 70.6v24.8M301.5 87.2v24.1M303.5 130.2v36.9M302.5 126.3v34.8M303.5 136v39.2M302.5 95.2v27.1M302.5 105.5v27.3M303.5 89v22.6M302.5 123.2v40.1M302.5 87.4v20.6M303.5 114.7v30.4M304.5 135.6v41M303.5 62.2v28.8M304.5 65.5v23.8M304.5 130.2v41.3M304.5 132.6v44.3M304.5 67v27.2M304.5 94.3v25.1M304.5 76.8v28.6M304.5 81.7v29.7M304.5 115.5v26.8M303.5 145.6v48.2M305.5 143.3v38.3M305.5 80.7v22.2M304.5 120.2v28.4M305.5 97.8v25.5M305.5 58.6v27.8M306.5 79.4v25.6M305.5 125.8v37.1M305.5 84.3v26M305.5 108.1v24.4M306.5 41.2v32.4M307.5 64.5v29M307.5 63.4v23.7M307.5 76.4v26.4M307.5 81.1v23.7M307.5 60.8v24.9M307.5 86.2v22.8M307.5 139.1v45.8M307.5 99.4v28.3M307.5 92.9v25M307.5 78.9v21.4M307.5 110.6v28.8M307.5 61.8v26.2M307.5 113.9v24.1M307.5 58.9v27.8M307.5 46v25.4M307.5 145.1v54.3M308.5 90.2v27.8M308.5 105v26.3M308.5 111.5v26.4M308.5 77.2v21.5M308.5 100v23.5M309.5 82.2v22M309.5 110.6v20.5M309.5 116.6v27.4M309.5 89.2v25M309.5 132v31.6M309.5 88.6v22.4M309.5 79.8v26M309.5 125.2v33.2M309.5 67.9v23.7M310.5 49.5v29.4M310.5 99.9v25.2M309.5 85.1v21.9M309.5 123.6v28.3M309.5 81.1v22.7M311.5 82.6v26M311.5 71.3v26.1M311.5 132.8v37.7M311.5 77.9v23.8M311.5 88.5v28.1M311.5 120.8v26.3M311.5 153v42.3M311.5 92.3v23.9M311.5 147.3v44.6M311.5 149.7v43.7M311.5 96.7v23.4M311.5 108.8v29.4M312.5 71.9v27.9M311.5 109.1v29.1M311.5 71.4v23.5M311.5 51v29.8M312.5 62.8v25.1M312.5 101.2v21.4M312.5 143.1v42.1M312.5 77.6v28.7M313.5 53.4v25.9M312.5 101.8v25.9M313.5 128.6v32.5M312.5 137.9v32.3M312.5 123.4v25.6M313.5 138.4v43.5M314.5 93.9v27.7M314.5 105.4v23.8M313.5 54.2v25M313.5 93.3v28.7M314.5 102.3v26.6M313.5 108.4v24.2M314.5 132.2v34.6M314.5 149.6v46.9M314.5 126.3v26.6M314.5 112.4v21.4M314.5 106.3v26.1M314.5 117.4v27.1M314.5 127v28.6M314.5 99.3v29.5M315.5 96.9v24.3M314.5 139.8v34.6M315.5 81.5v23M315.5 101.5v27.4M315.5 93.7v22.4M315.5 84.4v21.7M316.5 98v20.1M315.5 58.5v25.2M316.5 137.5v33.9M315.5 97.5v24.4M315.5 87.8v29M315.5 104.4v23.9M315.5 148.2v47.9M315.5 143.8v53.5M316.5 137.7v40.9M316.5 123.9v30.5M316.5 124.4v31.7M316.5 75.8v23.2M316.5 54.2v28.6M316.5 149.4v47.7M316.5 108.1v22.5M316.5 100.4v20.3M316.5 131.4v30.4M316.5 121.3v24.8M316.5 140.6v37M316.5 141.6v34.7M316.5 133.7v30.6M317.5 93.9v21.1M316.5 112.6v28.9M318.5 118.5v23.3M317.5 143.3v44.2M318.5 120.1v20.6M318.5 82.5v29.9M317.5 101.4v29.7M318.5 101.9v26.6M318.5 81.4v29M317.5 133.3v26.4M317.5 150.5v44M318.5 149.6v39.8M319.5 111.9v23.3M319.5 90v27.8M318.5 100.4v20.6M318.5 97.8v23.4M318.5 84v24.6M318.5 115.1v28.8M318.5 125.1v22.2M319.5 138.8v33.2M318.5 94.7v24.9M318.5 108.4v21.2M318.5 122v22.6M318.5 113.2v28.6M320.5 127v30.7M320.5 97.2v20.5M319.5 104.8v21.3M320.5 115.9v29.1M320.5 118.9v27.9M320.5 115.6v20.4M320.5 143v33.8M320.5 91.8v22.4M320.5 60.5v26.3M319.5 143.4v49.2M320.5 113.7v29.7M320.5 109v21.8M320.5 144.6v34.3M320.5 92.9v23.7M320.5 134v30.3M320.5 118.6v28.9M320.5 91.8v24.7M320.5 125.7v24.3M320.5 131.7v31.7M320.5 102.8v21.1M320.5 131v32.9M321.5 126v28.3M322.5 134.2v33.6M322.5 103.7v20.7M321.5 105.8v23.8M322.5 151.9v37.3M323.5 99.8v28.5M323.5 111.3v21.5M322.5 148.3v35.1M322.5 125.4v20.1M323.5 128.7v22.5M323.5 87.3v23.4M322.5 124.9v24.4M324.5 112v29.6M324.5 113.6v25.1M324.5 115.9v29.9M324.5 121.7v28.2M324.5 153.5v35M324.5 134.5v26.9M324.5 146.6v28.1M324.5 147v33.4M324.5 146.9v37.6M324.5 102.9v26.5M325.5 147.1v34.1M326.5 140.1v32M325.5 122.9v27.5M326.5 142v27.9M326.5 143.3v24.4M325.5 122.2v23.9M325.5 124.1v26.2M327.5 115.1v24.3M326.5 108.5v26.2M326.5 136.7v21.7M326.5 81.7v23.1M327.5 146.3v34.6M327.5 125.5v24.2M327.5 110.3v26.2M328.5 126v24.2M329.5 134.5v29.5M328.5 137.1v22.5M329.5 142.7v28.3M329.5 123.9v21M329.5 119.4v21.8M329.5 137.7v27.7M329.5 114.8v29.2M329.5 147.7v34.1M329.5 128.6v22.4M329.5 135.1v29.6M329.5 130.3v24.4M329.5 163.8v41.1M331.5 107.8v25.8M331.5 154.4v26.1M330.5 108.6v22.6M331.5 148.7v24.9M330.5 120.1v20.4M330.5 106.3v27.4M331.5 129.5v21.5M330.5 134.9v23.8M332.5 132.2v22M332.5 126.5v28.3M332.5 152.6v35.8M332.5 124.6v20.5M331.5 131.7v26.4M332.5 154.4v32.4M331.5 106.4v24.7M332.5 108.5v21.6M333.5 144.8v21.2M332.5 133.8v28.1M333.5 170.5v51.9M333.5 152.3v23.5M333.5 169.3v41.6M333.5 112v25.7M334.5 146.2v27.6M333.5 164.7v41M334.5 146.6v26.6M334.5 162.9v38.5M333.5 122.8v24.6M333.5 127v21.3M334.5 129.7v29.8M334.5 194.5v54.3M335.5 111.3v23.9M335.5 117.1v23.4M335.5 137.7v21.1M335.5 146.1v22.7M335.5 122.5v28M334.5 206.9v71.6M335.5 203.8v61.7M336.5 130.1v25.7M335.5 191.8v52.3M335.5 187.2v50.6M336.5 177v43.3M335.5 183.9v39.7M336.5 136.9v24.4M335.5 138.7v25.1M336.5 152.9v32.5M336.5 171.7v40.3M336.5 169.2v31.5M336.5 187.9v51.7M336.5 166.4v32.9M336.5 149.4v31.9M336.5 114.8v29M335.5 180.1v42.2M336.5 186.2v75.5M336.5 200.4v53.9M336.5 120.4v29.6M336.5 139.5v27.7M336.5 146.4v30.3M336.5 178.6v36.9M337.5 131v21.2M336.5 178.9v47.6M336.5 173.9v43.9M337.5 237v104.3M338.5 142.9v21.6M338.5 123.2v22.9M338.5 131.5v28M337.5 145.9v28.4M338.5 131.9v23.9M338.5 161.3v30.2M338.5 115.4v27.5M337.5 118v20.6M337.5 107.4v30M338.5 236.2v84.6M339.5 194.5v45.1M339.5 179v41M338.5 182.4v48.6M338.5 128.8v29.5M338.5 179.5v48M338.5 134v21.6M339.5 152.7v26.4M338.5 126.9v25.6M340.5 187.5v47.4M340.5 116.3v22.2M340.5 114.2v25.9M340.5 142.2v21.7M340.5 139.4v24.1M340.5 154.3v23.2M340.5 180.2v47.5M340.5 173.4v36.9M340.5 167.7v32.7M341.5 168.5v40.3M340.5 156.1v29.7M341.5 147.8v29.5M341.5 155.6v27M340.5 126.9v25.3M341.5 170.3v35.7M341.5 171.8v31.1M340.5 201.8v88.8M342.5 200.1v49.8M342.5 187.7v42.6M341.5 174.1v42.4M342.5 139.5v20.9M342.5 164.4v31.4M342.5 170.6v31.8M341.5 247.2v99.7M343.5 147.7v28.3M342.5 157.5v21.9M343.5 175.9v44M342.5 125v24.6M342.5 213.2v80M343.5 233.9v95.2M343.5 155.2v30.6M343.5 143.2v20.5M343.5 157.2v33.4M343.5 147v29.7M344.5 164.3v27M343.5 147.6v26.6M343.5 131.1v27.4M343.5 216.7v97.7M345.5 177.9v43.1M344.5 162.2v27.6M344.5 157v32.8M344.5 179.4v44.6M344.5 143.9v20.9M344.5 140.7v29.6M344.5 111.6v33.2M344.5 247.8v106.1M345.5 171v38.4M345.5 144.6v23.6M345.5 160.4v30.5M345.5 133.7v21.8M345.5 89.6v26.8M346.5 157.7v31.4M346.5 137.7v26.5M346.5 118.7v28.6M346.5 159.9v20.9M346.5 153.1v22.4M346.5 171.3v29.9M346.5 154.5v24.1M346.5 186.6v68.7M347.5 161v23.8M348.5 174.4v37.5M348.5 140.6v21.1M349.5 189.3v39M349.5 143.5v25.3M349.5 143.3v29.7M349.5 101.5v24.5M349.5 229.1v91M349.5 205.3v58.3M349.5 133.6v28.5M349.5 176.9v29M349.5 180.8v31.7M349.5 146.5v23.9M350.5 181.6v30.8M350.5 176.9v26.3M350.5 174.1v34.7M349.5 110.3v32.9M351.5 120.3v22.6M350.5 153.3v24.4M350.5 164.7v22.3M350.5 174.4v26.2M351.5 181.1v34.3M351.5 187.2v33.4M351.5 186v30.3M351.5 156.6v20.3M351.5 198.5v34.5M351.5 149v27.6M351.5 185.1v68.9M352.5 135.9v24.8M353.5 184.8v32.2M353.5 188v27.6M353.5 149.5v20.2M353.5 170.1v27.4M353.5 176.4v27.9M353.5 157.3v21.2M353.5 84.7v31.5M354.5 138.2v25.6M354.5 132.8v28.5M354.5 144.2v25.9M353.5 142.3v25.6M354.5 156.4v23.5M355.5 188v27.1M355.5 149.9v28.7M355.5 136.5v27.3M355.5 158.6v21.5M355.5 161.1v26.9M355.5 152.8v22.7M355.5 138.6v29.3M355.5 132.8v21.8M355.5 168.1v21.1M355.5 149.1v28.3M355.5 233.6v65M356.5 128.7v25M356.5 167.5v29.1M356.5 156.3v26M356.5 148.9v27.8M356.5 181.3v31.2M355.5 120.2v20.7M356.5 240.9v92.2M356.5 201v70.6M356.5 175.9v20.8M357.5 163.5v24M356.5 188.8v27.9M357.5 187.4v28.3M356.5 169.6v24.1M356.5 178.8v25.5M356.5 157.3v24.9M356.5 106.3v22.7M358.5 185.2v21.2M358.5 155.5v20.6M358.5 171.2v29.7M358.5 160.1v20.5M358.5 121.5v22.2M358.5 187.4v31.5M357.5 162.3v20.1M358.5 183.1v54.5M359.5 180.2v25.7M359.5 166.4v28.5M358.5 172.8v20.9M360.5 199.5v30.3M359.5 127.3v23.7M360.5 200.8v31M359.5 172v22.6M359.5 193.4v26.2M359.5 163.1v26.4M359.5 142.5v20.9M359.5 196.8v34M359.5 150.4v27.1M360.5 122.8v26.1M359.5 167.2v21.6M361.5 188.8v28.4M361.5 163.5v25.7M360.5 152.2v29.9M361.5 132.2v21.1M360.5 158.1v25M361.5 165.5v22.5M360.5 160.2v26.5M361.5 144.8v22.1M360.5 160.3v23.3M361.5 187.8v29.2M362.5 163.9v23.7M362.5 140.2v23.4M362.5 151.3v25.2M361.5 130.3v20.6M362.5 150.8v21.6M362.5 185.1v60.6M362.5 177.6v26.6M362.5 177.1v24.1M362.5 144.7v25.3M362.5 166.1v22.1M362.5 193.9v32.4M362.5 221.9v53.1M363.5 193.7v46.9M364.5 188.4v28M364.5 137.5v27.6M363.5 186.6v22.6M363.5 175.8v27.7M363.5 160v28.4M364.5 159.7v28.8M363.5 201.5v39M364.5 154.5v28.7M364.5 171.6v21.3M365.5 183.7v27.9M364.5 168.2v24.3M365.5 193.8v21.5M365.5 168.5v21.9M364.5 164.4v26.9M364.5 180.3v55M365.5 197.5v23.9M365.5 177.1v26.5M365.5 180.5v27.9M365.5 171.7v28.4M365.5 160.1v29.4M365.5 139.5v26.3M367.5 204.6v27.1M367.5 174.8v27.2M367.5 155v29.7M367.5 210.9v31.6M367.5 172.7v23.6M367.5 206.5v55.2M367.5 184v55.1M367.5 199.1v24.8M368.5 177.2v25.2M367.5 171.3v21.4M368.5 187.4v26.2M367.5 192.7v23.9M368.5 202.9v31.3M368.5 205.1v25.6M367.5 209.7v39.9M368.5 219.4v52.8M368.5 175.5v27.8M368.5 198.5v23M368.5 197v26M368.5 163.2v25.7M368.5 170.2v28.7M368.5 204.3v23.9M368.5 192.5v20.4M368.5 181.9v29.2M368.5 211.8v28.3M370.5 171.1v29.6M370.5 190.9v24M370.5 200.8v22.5M370.5 179.5v28.7M370.5 178.4v24M370.5 156.1v25M371.5 209v31.1M370.5 168.2v29.2M370.5 190.4v24M370.5 160.2v28.2M371.5 181v24.2M371.5 246.5v76.6M372.5 215.2v27.2M371.5 220.7v30.2M372.5 148.8v27.5M371.5 152.2v20.3M372.5 180.6v29.6M371.5 214.4v35.8M371.5 192.2v20.3M372.5 192.4v27.5M372.5 218.4v32.1M371.5 212.3v27.4M372.5 144.4v29.6M372.5 180.2v25.6M372.5 159.4v26.8M372.5 203v23.8M373.5 161.9v23.3M372.5 205v21.6M372.5 187.8v29.9M372.5 210.2v32.7M373.5 170v26.5M373.5 196.9v23.5M373.5 194.7v24M372.5 174.9v23.8M373.5 211.5v23.6M372.5 190.2v26.2M372.5 198.6v29.2M372.5 170.8v22.6M372.5 174.4v24.4M374.5 204.3v25.7M374.5 188.3v28.1M374.5 216.8v36.2M374.5 209.6v27.7M374.5 188.7v26M374.5 151.8v29.5M374.5 210.5v29.3M374.5 210.5v27.7M374.5 204.1v27.9M374.5 163.8v26.5M374.5 141.5v27.1M375.5 120v33.3M375.5 203.6v51.8M376.5 178.8v24.1M376.5 184.3v27M376.5 145.7v23.4M376.5 185v21.3M376.5 155.1v27.6M376.5 201.5v23.3M376.5 134.2v28.8M377.5 195.6v27.8M376.5 201.9v21.3M376.5 171.6v25.5M377.5 189.2v26.1M377.5 213.6v30.5M377.5 148.1v26M376.5 188.6v21.4M376.5 175.7v24.5M376.5 203v20.7M377.5 226.5v29.3M377.5 161.5v23.2M376.5 183.5v29.1M377.5 200.1v25.7M377.5 246.5v69.3M378.5 212.7v31.3M377.5 188.9v20.1M378.5 179.6v27.2M378.5 224.6v28.1M377.5 151.4v27.1M378.5 151.4v27.8M378.5 164.7v21.8M378.5 177.5v21.4M378.5 186.1v29.2M378.5 218.2v25.2M378.5 197v23.7M378.5 174v25.4M378.5 151.8v22.8M378.5 182.4v22.5M380.5 220.8v30.4M380.5 201.9v22.4M380.5 188.4v27.3M380.5 168.9v27.4M380.5 200.8v21.9M380.5 232.9v66.7M381.5 181.4v27.9M380.5 219.6v31.7M380.5 178.8v26.7M380.5 159.6v29.1M380.5 154v26.1M380.5 224.7v68.6M382.5 207v28M382.5 188.9v24.8M382.5 203.5v22.3M382.5 202.2v22.9M382.5 208.8v28.3M382.5 168.2v29.8M382.5 183.1v25.9M382.5 182.5v23.7M382.5 170.9v28.2M382.5 196.8v29.2M382.5 183.3v27M382.5 192.8v22.9M382.5 183.1v28.6M383.5 186.9v29.9M382.5 210.7v26.3M382.5 177.9v26.7M382.5 156.4v22.4M383.5 224.5v69.7M384.5 162.3v22.8M383.5 162.3v22.1M383.5 217.5v24.6M383.5 214.8v28.5M383.5 212.8v20.4M383.5 188.6v24.9M383.5 210.4v22.5M383.5 231.1v28.6M384.5 197.9v27.5M385.5 182.7v29.1M384.5 219.4v33.5M385.5 215.9v27.7M384.5 183.3v20M385.5 211v25.4M385.5 162.7v26.4M385.5 215.5v20.7M385.5 166.8v28.6M385.5 213.2v22.5M386.5 167.2v27.3M386.5 197.4v26.8M386.5 192.3v26.3M386.5 203.6v28.4M386.5 203.5v25M386.5 222.5v24.3M386.5 211.9v23.7M386.5 204v29.9M386.5 161.8v20.8M387.5 166v24M387.5 225.2v30.9M387.5 176.5v21.3M386.5 198.9v23.8M387.5 217.3v28.7M387.5 222.3v25.8M387.5 185.5v26.7M387.5 197.2v28.3M386.5 168v27.5M386.5 178.8v28.4M387.5 183.6v29.2M386.5 231v65.4M387.5 189v25.6M387.5 217.1v23.9M387.5 203.8v23.5M387.5 171.4v28.1M387.5 275.5v64.7M389.5 167.1v29M388.5 210v24M389.5 200.1v22M389.5 180.7v29.4M390.5 218.2v29.7M389.5 213v27.3M390.5 184.6v27.2M390.5 190.2v29.2M389.5 195.2v23.3M389.5 220.1v23.4M389.5 171.9v22.6M390.5 204.4v21.8M389.5 183.8v28.3M391.5 171.5v24.8M391.5 177v22.6M391.5 179.4v27.5M390.5 191.8v24.2M391.5 191.3v26.8M391.5 152.5v27.1M391.5 159.7v22.9M391.5 231.7v49.8M391.5 242.1v48.9M392.5 190.3v20.5M392.5 194.6v23.3M392.5 223.5v22.8M391.5 217.8v28.1M392.5 210.8v20.5M391.5 195.3v21.3M392.5 175v29.5M392.5 222.3v28.7M392.5 234.1v52.4M392.5 256.8v75.8M393.5 234.3v26.6M393.5 219.9v23.1M393.5 229.7v23.6M393.5 204.7v22.8M392.5 219.2v25.6M393.5 204.8v26.9M393.5 219v21.7M393.5 214.6v58.2M393.5 183.2v29.5M394.5 218.1v26.9M394.5 172.6v25.7M394.5 233.6v31.7M393.5 224.5v22.6M394.5 187v27.4M395.5 180.6v28.2M394.5 212.5v24.1M394.5 228.1v20.2M394.5 206.1v29.2M395.5 177.8v29.6M395.5 177.8v28.5M394.5 207.8v23.8M395.5 229.7v29.2M394.5 212.7v21.4M395.5 229.3v22.2M395.5 207.6v20.6M395.5 233.2v24.5M395.5 213.2v22.8M395.5 183.5v25.3M396.5 234.4v22.1M397.5 222.5v23.5M397.5 225v21.8M396.5 221.9v27.1M397.5 239.2v25.5M396.5 216.6v25.2M397.5 193.4v20.6M397.5 219.4v24.3M397.5 235.1v24.6M397.5 202.5v25.2M397.5 223.8v23.4M397.5 214.9v21.8M397.5 235v20.5M397.5 215.5v29M397.5 200.4v25.2M397.5 260.7v77.8M398.5 220v23.3M398.5 234.5v23.1M398.5 224v22.9M398.5 203.8v25.6M398.5 210.6v25.1M398.5 263.2v63.5M400.5 213.1v24.8M401.5 196.3v21.1M400.5 216.3v21.4M400.5 212.5v27.8M402.5 213.3v26M401.5 218.6v28.5M401.5 206.3v26.3M401.5 233v29.3M401.5 202v28.6M401.5 195.2v25.2M403.5 227.1v24M403.5 223.5v25.1M403.5 227.2v20.1M403.5 201.1v23M403.5 236.9v22.2M403.5 232.5v21.3M404.5 212.9v20.5M404.5 218.1v29.5M404.5 223.8v22.9M404.5 239v27.7M405.5 222.7v20.4M404.5 228.1v22.3M405.5 210.4v27.2M405.5 201v25.8M406.5 209.3v23.4M406.5 252.3v42.1M406.5 227v28.5M407.5 230.9v27.7M406.5 219.7v22.7M408.5 205.3v23.9M408.5 226.2v27.8M408.5 212v29.4M408.5 210v29.3M409.5 207.1v27.5M409.5 207v22.5M409.5 222.4v21.3M410.5 214.9v27.9M410.5 220.3v22.5M411.5 212.7v27.3M410.5 231.9v20.6M411.5 211.3v28.3M411.5 224.9v20.2M411.5 214.2v29.1M411.5 223.8v29.4M411.5 202.6v20M412.5 230.2v25M412.5 220.9v28.3M412.5 241v27.3M412.5 218.1v20.4M412.5 190.6v35.5M411.5 196.2v35M412.5 238.9v37.3M413.5 224v25.1M412.5 224.5v23.6M413.5 230.2v29.4M412.5 206.5v28.9M415.5 233.7v22.4M416.5 210.1v23.3M415.5 234v22M416.5 214.1v28.1M416.5 228.5v20.4M416.5 236v25.6M416.5 245.4v24M416.5 236.1v22.5M416.5 228.9v21.3M416.5 236.3v21.6M416.5 229.8v28.3M416.5 225.2v27M418.5 211.7v26.7M418.5 205v29.6M417.5 240.3v23.9M417.5 226.5v24.9M418.5 267.1v35.6M418.5 260v25.1M418.5 213.4v26.1M418.5 231.8v27.5M418.5 225.3v26.8M418.5 255.8v29M418.5 216.6v24.6M418.5 254.9v41.4M420.5 232.8v28.4M420.5 233.5v29.1M419.5 239.1v21.4M419.5 246.7v25.4M419.5 241v26.5M419.5 224.4v21.8M419.5 228v21.9M420.5 254.8v34.2M419.5 253.9v35.4M421.5 254v30M420.5 244.7v27.6M421.5 251v26.4M421.5 224.2v20.7M421.5 230.2v27.3M421.5 218.3v28.8M421.5 221.5v26M421.5 248.3v20.7M421.5 230.3v27.6M423.5 222.3v23.6M423.5 213.8v25.9M423.5 258.6v21M423.5 239v21.3M423.5 229.4v24.9M424.5 207.4v20.2M423.5 252.9v25.3M423.5 248.8v28.8M424.5 239.2v29.7M424.5 257.5v28M423.5 230.9v23.9M424.5 237.1v23.4M424.5 210.3v28.1M425.5 228v20.8M424.5 270.2v25.2M425.5 206.1v26.4M425.5 227.7v24.4M425.5 242.4v22.5M425.5 243.8v20.5M425.5 238.5v24.1M425.5 220v29.9M424.5 255.7v22.1M425.5 219v24.1M425.5 221.4v28.8M425.5 241.6v22.7M426.5 236.5v24.4M426.5 232.6v27.5M425.5 231.8v26.3M426.5 239.8v26.8M425.5 186.8v34.2M425.5 278.4v45.5M425.5 282v42.1M426.5 263.4v22.4M426.5 232.8v22.3M426.5 279.2v34.1M428.5 237.8v25.9M427.5 248.7v21.4M428.5 260.7v20.8M428.5 236.6v22.6M428.5 251.7v25.3M428.5 239.7v29.7M428.5 255.7v30M429.5 257.3v28.6M429.5 238.1v26M428.5 243.2v26.6M429.5 230.2v29.2M429.5 238.9v22.9M430.5 231.2v28.4M430.5 237.6v29.7M430.5 237.9v26.1M429.5 246.2v29.9M430.5 220.5v25M429.5 198.3v30.8M429.5 285.1v37.3M431.5 251.9v28.6M431.5 242v27.7M430.5 223.7v22.6M431.5 219.9v26.6M431.5 262.7v25.7M432.5 210.2v28M431.5 247.5v26.7M432.5 248.9v26.2M432.5 265.8v22.8M432.5 239.7v28.3M432.5 254.5v29.1M432.5 264.8v20.9M432.5 266.6v25.8M432.5 262.1v23M432.5 240.3v29.6M433.5 259v20.6M433.5 259v26.7M434.5 209.7v23M434.5 249.5v26.6M434.5 246.9v29.7M434.5 271.2v28.8M434.5 229.1v29.4M434.5 242.1v22.8M434.5 234.2v20.2M434.5 248.8v22.1M434.5 263.8v21.2M435.5 236.8v25.7M435.5 251.1v24.1M435.5 259.2v21.2M435.5 235.6v25.7M435.5 258.7v28M435.5 234.9v21.6M435.5 209.2v24.9M435.5 288.9v40.8M436.5 236.8v29.7M436.5 240.4v24.6M436.5 270.2v34M436.5 229.5v21.9M436.5 233.8v26.3M437.5 269.7v32.4M437.5 243.3v25.1M436.5 254v26M437.5 224.2v26.9M437.5 208.1v28.2M437.5 265.2v20.9M437.5 242.9v28.5M438.5 250.5v24.1M437.5 223.6v20.6M439.5 263.8v23.8M439.5 271.8v23.7M438.5 230v23.7M439.5 273.7v37.6M438.5 277.5v45.6M439.5 221.4v23.4M439.5 276.4v28.8M439.5 216.1v23.3M439.5 251.5v25.8M439.5 234.1v21.7M439.5 258.8v21.4M439.5 244.5v24.6M440.5 262.9v29.2M440.5 262.8v27.8M440.5 261.7v21.7M441.5 255v23.6M440.5 211.4v21.9M441.5 206.5v29.7M440.5 273.5v26M440.5 255.9v21.2M440.5 256.5v22M442.5 229.6v23.5M442.5 261.3v24.1M442.5 215.8v27.2M442.5 205.6v21.4M442.5 257.7v24.5M442.5 243.3v28.5M442.5 259.4v28.1M441.5 257.4v27.7M442.5 261.1v27.4M442.5 235.1v24.9M442.5 227.4v26.6M442.5 250.8v21.5M442.5 282.4v39M442.5 254.3v25.2M443.5 263.8v29.9M442.5 236.4v22.4M443.5 258.2v22.5M443.5 231.4v24.7M442.5 238.9v24.1M442.5 209.4v27.8M443.5 205.6v28.5M442.5 285.4v33.4M443.5 225.6v24.4M443.5 266.4v21.7M443.5 267.5v20.4M444.5 237.2v24.6M443.5 233.8v25.9M443.5 272v21.8M443.5 210.4v22.5M443.5 289.4v35M445.5 243.4v27.7M445.5 259.7v21.1M445.5 254.2v26.6M445.5 273.7v29.4M445.5 238.8v21.2M447.5 251.7v26.3M446.5 265.7v25.1M448.5 268.2v28.5M447.5 253.5v29M448.5 267v25.9M448.5 273.9v25.7M448.5 278.6v24.9M449.5 260.7v26.3M449.5 267.9v23.8M448.5 277.3v21.1M449.5 275.8v23.4M449.5 276.7v22.5M450.5 280.8v23.5M450.5 248.2v29.8M450.5 262.8v22.1M449.5 245.6v27.4M452.5 277.3v28.8M453.5 290.7v22M452.5 269.3v24.3M453.5 298.4v26.8M453.5 268.8v28.2M453.5 290.9v29.9M453.5 249.3v28.8M453.5 287.5v26.3M454.5 292.6v23.5M454.5 305.6v27M453.5 296.4v22.3M454.5 274.2v21.7M453.5 257.7v23M454.5 272.1v29.1M453.5 297.3v20M454.5 278.3v22.1M454.5 272v29.7M454.5 293.1v27.2M454.5 279.8v22.8M454.5 282.3v21.3M454.5 258v22.7M454.5 281.7v23.9M455.5 292.8v20.8M456.5 308.3v32.1M456.5 290.6v28.8M455.5 286.9v28M455.5 273.1v27.4M456.5 253.8v24.9M455.5 295.9v27.7M455.5 286.9v27.2M456.5 292.5v23.7M455.5 280.9v24.1M456.5 288.5v24.5M456.5 304.5v33.7M455.5 314.6v39.5M456.5 274.8v25.2M457.5 298.4v28.2M457.5 273.8v23.6M456.5 286.3v29.7M457.5 276.5v20.4M458.5 263.4v24.1M458.5 255.7v23M457.5 284.6v20.7M458.5 253.1v28.3M459.5 298.5v25.9M458.5 261.2v26.7M458.5 289v23M459.5 267v23M459.5 291.5v23.3M460.5 257.4v22.2M460.5 285.7v29.9M459.5 285.8v23.2M460.5 270.5v26.6M459.5 297.1v28.8M459.5 274.7v20.3M459.5 274.1v27.7M459.5 294.3v21.6M459.5 281.4v24.1M461.5 302.5v28.4M461.5 257.7v28M461.5 276v24M461.5 285.9v23.8M461.5 298.4v24.6M462.5 311.6v31.2M462.5 282.4v25.1M462.5 288.5v24.2M462.5 256.2v22.4M462.5 315.6v30.5M462.5 313v21.9M462.5 330.9v46.4M463.5 258.9v26.1M463.5 288.5v27.7M463.5 312.6v30.9M462.5 306.7v20.3M463.5 291.1v21.5M463.5 308.5v23.6M463.5 284.6v22.4M463.5 325.7v31M463.5 324.2v38.9M463.5 265.8v22.3M463.5 324v38.2M463.5 282.6v23.5M463.5 280.3v23M463.5 291.5v23.8M465.5 278.9v20.6M464.5 311.5v27.2M464.5 295.2v27M465.5 298.4v22.4M464.5 257.4v25.8M464.5 273.7v26.5M465.5 263.4v29M466.5 308.5v20.8M466.5 292.2v29.2M465.5 302.4v21.9M465.5 262.3v26.2M465.5 315.5v30.3M467.5 333.4v35.9M467.5 295.1v29.7M467.5 303.6v26.8M467.5 260.6v26M467.5 334.9v38.7M468.5 309.6v27.7M468.5 323.1v26M467.5 317.6v21.7M468.5 289.8v26.7M469.5 319.5v29.1M469.5 306v21M468.5 325.8v29.6M469.5 317.9v29.6M468.5 314.6v24.9M468.5 324v33M469.5 291.5v22.7M468.5 298.2v29.3M469.5 316v29.4M469.5 310.7v27.5M468.5 292.4v27.5M468.5 303.3v20.4M469.5 261.3v31.3M469.5 320.8v25.9M469.5 326.5v23.9M470.5 323.8v24.3M469.5 296.6v25.8M469.5 301.1v23.1M469.5 325.3v25.8M469.5 308.1v28M469.5 289.2v25.6M470.5 339.7v38.6M471.5 276.4v20.2M470.5 302.4v22.8M470.5 324.1v31.4M470.5 314.9v23.9M471.5 293.5v29.7M471.5 290.5v20.1M471.5 321.6v29.5M472.5 270.4v23.7M472.5 264.1v25M472.5 319v27.6M471.5 356.3v38.2M471.5 329.7v32.5M471.5 344.5v36.9M472.5 324.9v28.8M472.5 281.9v29.6M472.5 317v29.8M472.5 332.1v32.9M472.5 330.6v35.3M472.5 337.5v28M472.5 326.7v22.1M472.5 324.2v24.7M472.5 301.9v23.8M472.5 314.1v26.8M474.5 284v29.6M473.5 305v23.4M473.5 301.8v24.4M474.5 304.5v22M474.5 299.5v27M473.5 290.1v29.6M473.5 265.6v27.6M474.5 332.9v34.9M474.5 308v23M475.5 292.1v20.1M474.5 273.1v26.4M474.5 308.5v20.2M474.5 328.6v31.8M475.5 297.5v26.4M474.5 346.8v37.6M474.5 263.1v28.4M474.5 323.5v22.2M474.5 308.7v27.9M475.5 322.3v23.6M474.5 313.3v23.4M474.5 341.6v33.4M475.5 298.8v24.4M476.5 309.6v28.1M475.5 300.4v23.6M475.5 285.2v29.1M476.5 303v29.5M476.5 300.9v23.5M475.5 318.5v23.9M475.5 267.3v30.3M476.5 298.2v28.4M476.5 280.9v27.2M476.5 322.4v24.4M476.5 314.8v20.5M476.5 334.7v30.7M476.5 276.7v23.2M476.5 348.5v49.3M478.5 349.2v37.5M478.5 297.9v25.6M478.5 284.6v28.2M478.5 344.7v36.6M478.5 354.6v35.8M478.5 359.6v36.9M478.5 336.8v24.9M478.5 353.6v47.5M478.5 334.1v22.7M478.5 353.3v37M479.5 308.6v25.2M479.5 309.1v26.8M479.5 287.7v26M478.5 353.9v41.9M480.5 306v23M480.5 273v21M480.5 272.8v24.4M480.5 286.9v27.1M480.5 331.2v29.3M480.5 346.9v31.4M480.5 317v22.9M480.5 293.6v29.6M480.5 337.5v31.5M480.5 341.9v30.8M480.5 358.8v41M480.5 318.8v26M480.5 346.9v37M480.5 266.7v28.1M481.5 301v25M480.5 278.5v26.5M481.5 320.1v28.7M481.5 324v22.8M482.5 283.2v20.2M481.5 316.5v22.7M482.5 282.6v20.9M481.5 321.7v20.8M481.5 362.1v38.4M482.5 347.7v39.6M481.5 314.7v21.1M483.5 326.6v29.6M483.5 324.4v26.4M483.5 333.4v22.4M483.5 358.5v39.8M483.5 328.5v26.4M483.5 271.9v25.8M483.5 335v21.6M483.5 332.6v28.7M483.5 336.8v25.4M483.5 352.8v33.1M483.5 307.6v29.4M484.5 311.1v28.3M483.5 322.9v20.7M483.5 279.6v22.9M483.5 342v24.4M484.5 365.9v38.8M484.5 351.5v29.9M484.5 318.5v22.3M484.5 300.3v21.4M485.5 293.6v25.4M484.5 313.6v21.4M485.5 343.7v23.5M484.5 309.4v24M484.5 367.4v45.3M484.5 301.5v29M484.5 303.7v21.1M484.5 335.8v24.8M484.5 323.5v26.8M486.5 352v27.6M485.5 333v21M485.5 331.7v26.6M486.5 297.9v27.6M485.5 366.1v50.7M486.5 298.3v23.6M486.5 327.6v27.2M487.5 317.8v20.9M487.5 339.4v26M486.5 341.1v26.8M487.5 349.6v23.4M486.5 355v33.9M487.5 362.9v41M487.5 326.9v26.6M488.5 313.5v23.4M488.5 310v26.8M488.5 325v23.5M488.5 315.8v21.2M488.5 345.6v24.4M488.5 347.2v29.1M488.5 304.3v28.3M487.5 349.6v23.8M488.5 312.9v22.9M488.5 336.8v25.3M488.5 318.4v21.4M487.5 319.6v23.3M488.5 319.4v29.1M487.5 329.6v27.3M487.5 346.9v31.1M489.5 312v28.3M489.5 286.8v20.3M489.5 303.1v27.9M489.5 369v41.5M488.5 306.9v29.3M489.5 298.6v28.1M489.5 356.1v34.6M488.5 339.5v22.1M489.5 314.9v26.4M489.5 339.4v23M489.5 325.3v28.4M489.5 324.4v23.4M489.5 356.1v29.8M489.5 277.1v31.4M490.5 365.3v31.5M490.5 319v29.1M490.5 322v20.9M489.5 341.4v26.2M490.5 353.4v22.4M490.5 346.6v20.8M490.5 275.1v34.4M491.5 320.6v26.8M491.5 303.2v27.9M491.5 328.8v27.5M491.5 352.2v25.1M490.5 304.3v27M491.5 288.5v23.4M491.5 323.2v20.6M492.5 332.8v29.3M492.5 321.2v28.1M492.5 336v27.9M492.5 325.4v29.6M492.5 357.9v29M491.5 366.1v28M491.5 345.9v23M492.5 387.6v57M492.5 293.7v28.2M492.5 345.5v25.2M492.5 317.7v28.5M492.5 349.8v26.8M492.5 345.1v24.2M492.5 355.4v27M492.5 351v24.4M492.5 359.8v23.8M492.5 376.2v34.7M492.5 336.2v27.5M492.5 325.3v23.6M492.5 283.9v28.5M494.5 319.6v29.3M494.5 348.5v20.8M494.5 328.5v22.5M494.5 340.1v21.7M494.5 310.3v25.4M494.5 366.6v31.6M494.5 400.9v54.3M495.5 359.6v29.1M494.5 351.9v30M495.5 317.5v27.9M494.5 371.2v29.4M494.5 341.3v21.3M494.5 295.5v23.3M495.5 360.3v32.8M495.5 337.7v24.5M495.5 303.8v25M494.5 350.5v25M494.5 338.2v27.1M495.5 373.2v39.9M495.5 301.5v27.6M495.5 364.4v34.6M496.5 324.4v26.1M495.5 344.8v21.5M495.5 368.2v32.9M495.5 338.8v24.7M495.5 394v55.7M496.5 379.8v41M495.5 397.8v48.3M495.5 372.8v42.5M495.5 378.7v45.5M496.5 393.2v57.6M496.5 291.3v28.8M496.5 373.8v46.1M498.5 343.7v29.4M498.5 337.3v28M498.5 326.4v24.5M497.5 376.2v41.8M498.5 378.4v48.6M498.5 356.8v30M499.5 322.3v24.8M499.5 364.7v32.9M499.5 366.6v29.2M499.5 343.1v29.3M499.5 342.2v23M499.5 365.5v23.9M499.5 360.7v23.9M499.5 396.8v50.3M499.5 330.4v26.8M499.5 339.6v27.5M499.5 312.2v21.7M499.5 341.5v21.7M500.5 367.9v34.1M499.5 347.1v23.1M500.5 349.9v23.9M500.5 343.6v26.6M500.5 329.3v22.6M500.5 332v22.5M500.5 353.5v25.3M500.5 373v30M500.5 342.7v24.2M500.5 303.1v28.4M501.5 353.3v20.2M502.5 372.2v37.3M502.5 317.7v24.5M502.5 385.3v33.1M502.5 319.6v26.2M503.5 348.3v28.3M502.5 323.1v20.7M502.5 317.6v22M502.5 328.5v25.7M502.5 323.8v29.5M502.5 326.3v20.8M504.5 331.7v28.2M504.5 328.5v28.8M504.5 358.3v20.3M504.5 335.2v27.6M504.5 324.4v23.3M504.5 329.4v24.2M504.5 330.9v27.5M504.5 385.4v46.4M504.5 321.3v20.9M504.5 343.2v23.5M504.5 333.5v24M504.5 360.9v30M504.5 361.7v21.3M505.5 342.6v26M504.5 342.2v28.7M504.5 322v25.3M504.5 367.7v34.2M504.5 368.3v25.5M504.5 345.3v20.9M504.5 347.8v27M506.5 356.5v25.3M506.5 340.3v27.9M506.5 354.4v23.7M506.5 345.8v22.9M506.5 347.6v21.4M506.5 326.5v26.6M506.5 402.9v51.7M506.5 416.5v53M507.5 369.3v36M507.5 321.8v27M506.5 358.1v22.8M506.5 362.2v23.6M506.5 364.1v22.4M507.5 342.3v22.5M506.5 324.2v28.3M507.5 405.3v62.6M508.5 346.7v26.2M508.5 329.8v29.8M507.5 369.5v29.5M507.5 372.1v25.7M507.5 341.9v29.1M508.5 394.6v50M508.5 314.5v23.6M508.5 360.4v31.3M508.5 341.3v27.4M508.5 369.3v25.3M509.5 322.9v20.8M508.5 343.9v28.3M508.5 339.1v27.2M508.5 372.2v30.5M510.5 356.5v25.7M510.5 311.3v29.2M510.5 365.9v32.4M510.5 351.7v25.4M510.5 355.1v21.2M510.5 348.9v28M510.5 362v31.9M510.5 373.8v44.5M510.5 412.6v55.2M510.5 356.5v20.1M511.5 326.6v29.8M510.5 338v23M510.5 330.5v20.7M510.5 360.4v28M510.5 382.8v32.5M510.5 306.4v34.4M510.5 382.5v43.5M511.5 384v32.8M512.5 342v20.1M511.5 379.5v32.8M511.5 328.8v22.7M511.5 341v27.2M512.5 335.4v21.5M511.5 376.4v32.8M512.5 381.2v48.6M512.5 318.6v28.6M513.5 378.7v32.7M512.5 328.1v22.3M512.5 335.7v28.6M512.5 319.8v23.6M513.5 318.3v24.3M513.5 378.2v37.2M513.5 327.3v26.9M513.5 327.5v28.2M514.5 370.1v35.5M513.5 374.4v37.4M514.5 335.1v27.5M514.5 325.4v28.5M513.5 341v23M514.5 343v29.4M514.5 337.8v26.2M514.5 368.2v31.7M514.5 363.2v31.6M514.5 383.2v45.6M514.5 387v49M514.5 333.6v28.9M514.5 375.6v28.9M515.5 347.5v29.3M514.5 330.3v23.7M514.5 337.5v22.1M514.5 344.8v28.1M516.5 330.4v28.1M516.5 379.5v34.4M516.5 373.1v28.5M516.5 354.4v29.8M516.5 321.7v29.3M516.5 329.4v25.6M517.5 323.6v21.5M516.5 355.8v20.8M516.5 344.9v28.9M517.5 384.4v39M518.5 359.9v25.4M518.5 343.8v20.9M518.5 336.6v22M518.5 344.5v25.8M518.5 326.2v22.6M518.5 348.1v23.5M517.5 362.4v29M518.5 328v21.8M518.5 366.8v33M518.5 348.5v29.7M518.5 337.1v23.6M518.5 335.1v25.7M518.5 359.5v26.7M518.5 358.1v29.4M519.5 344.9v21.6M518.5 362.6v28.2M518.5 342.4v27.1M518.5 384v32.5M518.5 347.4v25.1M519.5 365.6v28.9M519.5 367.8v21.3M519.5 341.6v27.2M519.5 324.9v28.5M519.5 408.6v51.6M520.5 368.1v24.6M520.5 374.2v26.7M520.5 366.4v28M520.5 357.6v20.3M520.5 366v27M521.5 342.4v22.1M521.5 312v29.6M521.5 358.6v24.7M521.5 349.2v28.8M521.5 339.1v20.4M521.5 347.6v22.7M521.5 313.8v23.6M522.5 346.1v24.1M522.5 357.2v22.4M522.5 370.3v26.4M522.5 353.6v21.1M522.5 352v23.9M523.5 330.5v22.1M522.5 363.7v23.3M523.5 355.2v26M523.5 335.2v22.7M524.5 331.2v28.7M523.5 351.2v20.9M523.5 363.7v31.2M523.5 351.1v29.6M523.5 361.9v26.3M523.5 329.4v20.8M523.5 348.8v28.7M524.5 353.6v24.3M523.5 382v39.8M525.5 364.6v31.5M524.5 322.2v25.4M524.5 331.5v21.6M525.5 377.7v33.6M525.5 311.9v29.8M525.5 330.3v25.1M524.5 375.9v30.4M524.5 380.8v34.9M526.5 353.5v22.5M525.5 358.1v27.4M525.5 318v23.6M526.5 353.1v23.1M526.5 371.1v31.1M526.5 395.4v50.3M526.5 362.3v27.6M526.5 363.9v21M526.5 319.4v21.9M527.5 331.1v29.9M526.5 342.7v28.5M527.5 359.7v20.8M527.5 338.1v23.5M527.5 341.7v23.9M528.5 376.7v28M528.5 380v35.9M527.5 377.3v24.9M528.5 333v26M527.5 328.6v27.9M527.5 314.2v27.9M527.5 326.6v25.2M528.5 328.8v24.3M528.5 350.1v23.4M528.5 318.4v24.4M528.5 335v26M528.5 334.6v24.8M529.5 309.2v21.6M528.5 360.9v24.2M528.5 396v42.6M102.5 122v66M489.5 15v84M510.5 91v86M522.5 116.5v72M521.5 198v38M523.5 230v74M187.5 74v44M191.5 93v50M215.5 65v44M186.5 388v40M192.5 389.4v56M289.5 172v30M276.5 26.8v24M276.5 36.4v24M285.5 34v32M251.5 45.6v36M289.5 138v24M270.5 130v24M269.5 146v24M261.5 141v24M253.5 145v26M304.5 173.5v28M311.5 162v48M354.5 22.3v60M354.5 77.5v50M326.5 47.5v44M304.5 34.3v36M341.5 71.5v40M350.5 77.5v38M395.5 8v44M373.5 326.4v50M374.5 315.4v88M363.5 311v58M176.5 318v26M180.5 320v28M185.5 311v24M184.5 320v26M189.5 326v28M188.5 333v26M187.5 339v28M189.5 342v30M197.5 324v26M199.5 318.4v28M197.5 333.4v56M146.5 336.4v36M109.5 376v28M118.5 369.6v28M219.5 232v20M226.5 232v28M223.5 250v30M530.5 381.2v36.4M530.5 332.6v28M530.5 349.5v22.8M531.5 402.4v38.9M530.5 388.4v37.7M530.5 334.7v20.1M530.5 330.9v23.7M530.5 356.2v22.7M530.5 388.6v38.3M530.5 398.4v42.2M530.5 340.5v20.6M530.5 334.4v28.2M530.5 401.8v42.7M531.5 361.4v21.9M531.5 377.2v35.9M531.5 335.1v24.1M531.5 377.7v31.4M531.5 344.9v20.3M531.5 372v34.2M531.5 333.6v28.7M531.5 357.8v23.6M531.5 355.3v21.5M531.5 327.9v28.1M531.5 370v20.9M532.5 362.3v23.5M532.5 316v29.2M532.5 329.8v29.5M532.5 384.7v39.1M531.5 329.8v24M532.5 357v29.2M532.5 366.1v28.1M531.5 351.5v24.7M532.5 347.9v20.6M532.5 335.6v27.3M531.5 362.2v28.8M531.5 351.1v20.3M532.5 366.9v22.6M532.5 405.6v50.8M533.5 378.8v36.8M534.5 301.2v29.6M533.5 364.6v32.6M533.5 383.5v41.8M533.5 368.6v32.4M533.5 347.3v27.2M533.5 395.6v40.5M533.5 340v29.4M533.5 339.9v26.6M533.5 342.4v26.6M534.5 327.4v27.5M534.5 309.7v20.8M533.5 361.2v24.9M534.5 341.2v24.3M534.5 356.5v21.1M534.5 333.9v26.7M535.5 364.6v28.3M535.5 387.4v48.3M535.5 335.6v28.4M535.5 337.8v28.4M535.5 315.9v27.2M535.5 335.5v23.9M535.5 363v27M534.5 303.7v21.2M535.5 344.8v21.8M535.5 389.3v42.2M535.5 349.2v20.7M535.5 414.3v57.8M536.5 290v22.3M536.5 326v26.7M536.5 338v25.2M536.5 347.9v28.5M536.5 382.9v39.8M536.5 326v29.7M537.5 277.2v26.4M537.5 305v21.7M537.5 323.2v29.2M537.5 344.8v29.9M537.5 354.7v25.9M537.5 372.2v44M537.5 386.7v51.5M537.5 364.3v35M537.5 359.6v37.4M537.5 332.3v29.6M537.5 362.1v35.2M537.5 344.4v25.6M537.5 351.6v30.7M537.5 329.9v22.2M537.5 396.7v60.8M538.5 329.7v24M538.5 343.8v25.5M538.5 330v23.4M538.5 335.7v28.4M538.5 315v24.2M538.5 369.1v39M539.5 337.8v23.7M538.5 327.1v23.8M538.5 304.2v26.9M538.5 353.7v30.3M538.5 387.6v53.9M538.5 305.2v22M538.5 394.2v51.6M538.5 395.7v62.6M539.5 318.3v29.6M538.5 334.5v22.6M539.5 306.1v27.7M539.5 335.6v24.4M538.5 322.3v26.4M538.5 335.6v22.8M539.5 335.2v21.7M538.5 318.6v21.6M539.5 320.6v26.2M539.5 335.9v21.6M539.5 367.3v34.1M538.5 334.9v22.1M539.5 283.6v23.2M539.5 281.6v31.3M539.5 383.9v51.2M540.5 305v20.8M540.5 379.6v44.5M541.5 357.5v31.8M540.5 283.7v28.5M540.5 310.5v29.4M540.5 321.3v28.2M540.5 355.1v33.8M540.5 340.1v28.2M541.5 330.5v24.5M540.5 325.7v26.4M541.5 373v40.5M540.5 317.8v24.5M540.5 314.9v20.8M541.5 332v27.4M541.5 305.9v25.1M541.5 383.2v43.7M542.5 335v22.6M542.5 342.3v20.8M542.5 300.3v26.5M542.5 331.4v25.9M542.5 336.2v25.8M542.5 308.4v28.2M543.5 293.2v28.2M543.5 367.3v36.8M542.5 316.5v29.1M543.5 377.9v45.8M543.5 284.6v21.4M543.5 359.3v30.4M543.5 338.5v20.1M543.5 297.3v24.6M543.5 327.4v20.3M544.5 339.8v24M543.5 271.8v32.3M545.5 295.1v27.1M546.5 344.2v25M545.5 308.7v26.1M546.5 348.7v30.5M545.5 344.8v23M545.5 329.3v28.9M545.5 274.8v35.2M545.5 276.2v32.6M546.5 321.7v22.8M546.5 354.8v30.8M546.5 342.5v28.9M546.5 311.7v20.3M546.5 350.4v28.7M546.5 299.2v27.1M548.5 285.5v29.9M547.5 341.7v20.4M548.5 321.3v23.3M547.5 312.4v24.4M548.5 338.7v22.5M547.5 316.6v20.9M548.5 327.8v28M549.5 317.5v21M548.5 330.5v28.2M548.5 323.3v28.9M548.5 374.6v43.6M550.5 281.7v23.1M549.5 342v24.4M549.5 346.6v21.9M550.5 303.1v25.1M549.5 318v29.5M550.5 347.3v31.9M550.5 330.8v22.1M550.5 301v21.9M549.5 314.5v20.6M550.5 295.6v23M550.5 339.8v26M550.5 317.2v25.4M550.5 361.7v32.1M550.5 330.1v29.6M550.5 346.2v22.2M550.5 329.2v28.8M550.5 327.8v25.2M550.5 333v28M550.5 307.9v22.6M551.5 352.5v28.6M551.5 336.8v21.4M550.5 319.9v29.6M551.5 281.1v20.9M551.5 341.6v21.1M551.5 329.2v21.4M550.5 324v28.6M550.5 342.4v25.6M551.5 331.3v29.9M552.5 349.2v28.1M552.5 312.2v23.2M553.5 282.1v29.4M552.5 282.4v25.5M552.5 343.9v26.9M553.5 288.7v25.7M552.5 333.6v21.2M554.5 311.2v25.1M554.5 279.4v28.6M554.5 352.3v30.8M553.5 353.8v43.4M554.5 346.8v29.4M554.5 332v23.6M555.5 298.9v23.8M555.5 279v23.4M555.5 292.8v27.1M555.5 322.5v29.6M554.5 277.9v29.1M556.5 286.8v28.9M556.5 307.8v25M556.5 327.9v25.1M556.5 316.7v25.6M556.5 278.2v22.1M556.5 332.2v29M557.5 283v20M557.5 328v20.6M556.5 334.7v27.2M557.5 353.6v37.6M557.5 287.3v23.6M557.5 278.6v29.2M557.5 323.7v28.9M557.5 320.7v25M557.5 337.6v27.4M557.5 280.5v29.5M558.5 347.3v27M558.5 290.6v20.2M558.5 321.1v24.6M558.5 303.2v29.9M558.5 295.4v22.4M558.5 324.5v28.4M558.5 302.5v29M558.5 321.5v26.5M558.5 320.2v26.7M559.5 336v22M559.5 321.5v26.7M559.5 338.4v25.4M559.5 305.8v23.6M559.5 318.1v29.2M559.5 318.9v22.6M560.5 315.8v26.8M560.5 276.6v24.6M560.5 332.9v29.1M560.5 308.1v26.2M560.5 300v23.6M561.5 293.4v25.8M562.5 282.9v28.2M561.5 323.2v26.2M562.5 316.9v20.2M561.5 315.3v22.3M561.5 300.5v21.9M562.5 279.8v20.9M562.5 334.4v35.1M562.5 339.9v30.4M562.5 326.9v29.4M561.5 297.9v25.2M562.5 300v25.1M562.5 320.7v29.5M562.5 323.2v30M562.5 307.8v24.4M562.5 311v22.3M562.5 320.7v28.5M562.5 274.1v21.1M562.5 329.7v34.7M563.5 303v26.5M563.5 329v26.3M563.5 331.6v30.7M564.5 293.7v23.9M564.5 301.4v27.7M563.5 331.5v33.9M564.5 297.2v21.8M564.5 310.1v29.9M564.5 312.1v28M565.5 326.7v24.4M566.5 294.2v26.6M566.5 292.5v26.9M565.5 305.4v24.7M565.5 284.6v22.4M566.5 306.2v21M565.5 311v28.6M566.5 292.2v28.9M566.5 326.5v35.2M567.5 279.5v28.3M567.5 309.1v20M567.5 278.2v23.2M567.5 315.3v22.3M567.5 299v25.6M567.5 270v25.1M567.5 292.8v23.3M567.5 290.1v22.9M567.5 311.9v26.2M568.5 283.5v21.6M568.5 292.5v22.6M568.5 316.8v21.2M568.5 305.2v27.8M568.5 287.7v22.7M568.5 303.6v23.4M569.5 280.1v29.5M569.5 307.9v23.6M570.5 292.3v24.5M569.5 315.4v24.1M569.5 308.2v29M570.5 309.5v22.3M570.5 316.2v26.6M570.5 281.7v20.2M571.5 299.8v24.2M571.5 301.9v22M571.5 262.5v24.6M571.5 285.3v24.1M571.5 316.7v25.7M571.5 268.9v25.3M572.5 319.2v30M572.5 304.3v20.7M573.5 288v28.9M572.5 303.3v29.4M573.5 290.2v20.3M572.5 281.2v20.1M573.5 280.6v25M573.5 328v38.5M574.5 304v20.9M573.5 277.8v22.3M573.5 268.5v29.2M573.5 293.8v24.6M573.5 281.8v28.2M573.5 302.1v21.4M574.5 278.9v29M573.5 270.3v29.5M574.5 295.6v27.3M574.5 296.6v27.1M574.5 271.8v22.1M574.5 262.5v27.8M574.5 296.1v22.9M576.5 281.6v24.7M575.5 277.1v27.5M576.5 288.5v29.4M575.5 297.8v24.3M576.5 311.4v22.8M575.5 312.2v25.8M575.5 289.8v24.1M575.5 286.1v23.3M576.5 313.5v28.8M576.5 302.9v22.7M576.5 290.2v27.6M576.5 311.4v23.6M576.5 292.6v26.4M576.5 309.3v37M578.5 258v24.7M577.5 311.4v26.6M577.5 289.5v26.5M578.5 290.2v27.5M577.5 278.4v29M577.5 300.6v21.7M579.5 315.3v28.6M578.5 288.9v22.3M579.5 294.6v24.7M578.5 292.5v28.9M579.5 277.9v28M578.5 295.1v26M579.5 299.6v23M578.5 267.6v23.8M580.5 275.6v26.9M580.5 309.8v23.6M580.5 255.5v26.3M580.5 277.7v26M580.5 285.3v24.8M580.5 302.4v20.1M580.5 282.8v22.1M580.5 304.4v20.4M580.5 274.4v23.6M580.5 273.2v28.5M580.5 266.7v20.2M580.5 324.5v40.9M580.5 251.7v22.7M580.5 317.9v35.5M581.5 307.3v23.9M580.5 298.2v20.4M580.5 296.2v27.3M581.5 316.9v34.6M580.5 296.4v20.2M582.5 297.6v25M581.5 259.4v25M581.5 280.1v26.6M582.5 310.6v25.7M582.5 273.9v24.4M581.5 318.9v34.4M581.5 257v26.3M581.5 280.7v27M582.5 266.3v27.5M582.5 306.7v30.5M582.5 292.1v23.9M584.5 249v29.6M583.5 249v24.9M583.5 292.5v26.3M584.5 254.4v29.4M583.5 301.9v21.5M583.5 285.7v28.4M583.5 313v41.5M583.5 274.1v22.4M584.5 279v20.5M584.5 279.7v28.5M584.5 277.5v21.7M586.5 283.9v25.4M585.5 270.4v23.5M586.5 290.3v27.3M586.5 306.8v25.6M585.5 318.4v35.5M586.5 284.6v29.8M586.5 306.4v24.5M587.5 253.8v28.5M586.5 307.9v32.5M588.5 295.4v20.8M587.5 246.9v25.3M588.5 256.1v29.8M588.5 285.1v24.2M588.5 309.7v28.2M588.5 271.5v23.3M588.5 299.3v29.1M588.5 290.5v20.8M588.5 284.4v29.2M588.5 287.4v27.6M588.5 309.5v39M589.5 271.7v20.1M589.5 269.2v23.9M588.5 279.5v20.3M589.5 286.1v22.6M589.5 270.6v21.4M589.5 281.4v20.7M588.5 276.8v23M589.5 291.8v28.7M589.5 275.1v21.9M589.5 287.9v24.4M589.5 302.1v27.6M590.5 314.4v39M590.5 291.8v22.6M590.5 250.5v23.9M590.5 244.7v29.2M590.5 273.1v25.7M590.5 289.7v22.6M590.5 272.8v21.7M591.5 291.4v30.1M591.5 297.2v24.7M591.5 284.7v21.7M591.5 291.1v28.9M591.5 268.8v24.8M591.5 292v24.1M591.5 280.6v24M592.5 275.3v22.5M591.5 313.2v40M591.5 256.3v24.2M591.5 281.4v24.3M591.5 293.7v24.4M591.5 275.8v26.6M591.5 292.5v30.6M591.5 236.7v30.5M591.5 311.6v41.4M592.5 310.6v41.1M593.5 273.7v27.1M592.5 276.6v20.6M592.5 298.4v29.4M592.5 281.9v20.7M593.5 287.8v22.6M593.5 316.2v37.1M593.5 235.2v23.1M592.5 297.6v32.9M593.5 269.3v26.1M593.5 289.8v26.5M593.5 280.3v28.2M592.5 300.1v36.5M593.5 250.9v26.6M594.5 297.4v36.1M594.5 239.7v27.6M594.5 268.4v29M593.5 280.5v22.2M594.5 307.7v33M594.5 269.3v20.5M594.5 299.3v35.2M595.5 251.7v22.2M595.5 272.2v23.2M595.5 260.6v29.6M596.5 239.9v27.1M595.5 244.6v29.1M595.5 233.1v24.1M596.5 243v29.7M596.5 297v36.5M595.5 284.1v21.2M596.5 256.7v21.2M596.5 266.5v20.8M596.5 276.8v27.1M596.5 241.3v27.4M596.5 276.5v21.9M595.5 281.8v28.3M596.5 287v29.8M596.5 309.8v50.9M597.5 248.8v29.1M597.5 247.8v23.4M597.5 302.2v30.7M597.5 250.5v20.5M597.5 239.1v26.8M597.5 244.6v26.9M597.5 255.2v22.4M598.5 272.3v24.9M598.5 256.2v27.3M598.5 296.5v37.2M598.5 236.6v29.4M598.5 299.7v30.6M598.5 283.8v20.2M598.5 296.3v36.7M598.5 239v20M598.5 279.2v20.8M598.5 248.8v22.7M599.5 295.1v31.4M599.5 282.7v24.3M599.5 234.1v21.1M599.5 295.2v31.2M600.5 282.6v27.7M599.5 276.2v29.5M599.5 273.6v24.5M599.5 258.9v20.6M599.5 246.2v24.2M599.5 283.3v24M599.5 274.7v24.9M599.5 224.1v28.8M600.5 275.4v27M600.5 246v27M601.5 304.9v39.3M601.5 253.8v26.8M601.5 289.8v34.7M601.5 282.9v30M601.5 228.8v20.9M601.5 285.7v30M601.5 277.5v27.3M602.5 275.8v30.5M602.5 257.6v28.3M601.5 246.2v23M602.5 291.8v40.9M602.5 295.7v37.9M602.5 304v40.5M603.5 280.8v34.4M603.5 247.5v24.8M604.5 239.4v28.9M603.5 241.4v23.2M604.5 271.1v29.8M605.5 280.6v35.4M605.5 280.5v30.9M604.5 214.8v34.9M604.5 290.3v44.4M605.5 266.6v34.1M605.5 268.9v27.4M604.5 259.6v24.2M605.5 227.3v24.3M605.5 239.6v27.8M604.5 281.6v32.7M606.5 233v24.3M606.5 258.3v26.5M607.5 243.7v22.8M606.5 239.4v22.3M606.5 263.6v27.1M606.5 219.2v28.4M607.5 252.2v29M606.5 284.3v37.8M606.5 279.2v39.5M606.5 256.1v26.3M606.5 246.4v21.8M606.5 278.6v45M607.5 230.9v20M608.5 237.9v22.8M608.5 250.7v23.5M607.5 250.8v28M607.5 246.1v22.2M608.5 252.2v20.8M608.5 237.5v28.8M609.5 231v28.7M610.5 224.9v28.9M610.5 255.8v23.2M610.5 241.2v22.3M609.5 227.6v22.2M609.5 241.2v24.2M610.5 248.7v23M610.5 255.7v29.9M610.5 239.2v22.4M610.5 257.2v31.3M609.5 233.4v27.7M610.5 246.9v29.7M610.5 222.5v28.2M610.5 256.6v27.3M610.5 246.9v27.6M611.5 226.1v28.7M611.5 256.1v27M610.5 254.1v26.3M610.5 255.5v20.1M610.5 196.3v23.3M613.5 262.5v29.7M613.5 192.8v22M612.5 218.5v20.1M613.5 241.3v24M613.5 200.4v27.3M612.5 263.7v28M612.5 237.2v28.1M613.5 207v29.4M612.5 271.2v34M612.5 249.8v21.8M612.5 212v20.9M612.5 253.5v29.3M612.5 247.2v21.7M613.5 239.9v21.1M613.5 249.3v29.6M613.5 250.7v27.6M613.5 260v24.8M613.5 259.5v26.4M612.5 228.7v28.7M613.5 256.3v21.6M615.5 257.9v34M615.5 273.2v42M614.5 256.4v27.4M614.5 240.1v24.6M614.5 210.8v25.2M614.5 210.7v25.2M616.5 272.9v44.5M615.5 208.3v22M615.5 234.2v20.7M615.5 234.8v27.5M615.5 264.1v33.2M615.5 254.4v30.3M615.5 240.4v27.7M615.5 263.3v38.4M615.5 277.4v35.7M615.5 259.2v35.7M616.5 223v23.8M616.5 269.8v39.4M615.5 298.5v46.7M616.5 241v26M616.5 243.9v21.5M616.5 278.9v43.9M615.5 212.8v22.7M615.5 235v23.4M616.5 220.1v28.7M616.5 242v29.7M615.5 204.3v28.5M616.5 192.8v26.6M616.5 279.1v40.3M616.5 246.2v20.9M616.5 239.6v29.5M615.5 298.1v51.6M616.5 230.7v20.3M616.5 207.6v25.3M617.5 225.9v23.2M617.5 208.2v23.5M616.5 244.9v22.2M616.5 246.6v22.2M617.5 242.7v20.8M617.5 210.5v25.9M616.5 276.1v39.4M617.5 232.7v29.9M616.5 250.1v24.3M616.5 262.6v31.1M616.5 293.6v50.8M618.5 295.7v53.9M619.5 214.1v26.2M618.5 243.8v34.3M619.5 273.9v48.2M618.5 295.6v56M619.5 250.7v29M619.5 219.3v21.5M619.5 233.9v20.8M618.5 214.7v23.6M618.5 193.2v24.2M619.5 237.5v22.6M619.5 228.4v29M619.5 218.4v22M618.5 222.8v23.4M618.5 221v22.8M619.5 237.8v26.7M619.5 242.1v32.2M618.5 233.8v21M618.5 253.3v36.7M618.5 230.3v29.9M618.5 243.1v25.2M619.5 253.3v33.5M618.5 229.1v25.9M618.5 291.8v61.1M618.5 212.8v23M618.5 212.5v29.2M619.5 183.1v29.1M619.5 201.1v20.9M619.5 195.1v27.5M619.5 231.1v23.7M618.5 237.5v24.2M619.5 239.6v31.5M618.5 239.8v27.7M619.5 249.1v31.9M619.5 234.9v27.2M620.5 200.9v21.7M620.5 284v55.9M620.5 171.6v26.7M620.5 249v27.3M619.5 193.4v24.2M620.5 268v45.2M620.5 268v44.4M619.5 207.5v24.7M620.5 207.2v23.3M620.5 191.6v21.8M620.5 218.1v26.7M620.5 199.7v24.8M620.5 205.6v22.2M620.5 245.3v33.9M620.5 239.2v23.6M620.5 274.5v46.3M619.5 255.4v32.1M619.5 290.3v58M621.5 186v21.8M621.5 228.9v22M621.5 200.9v26M621.5 203.1v28.6M621.5 256.8v36.1M620.5 200.8v22.6M621.5 204.2v22M621.5 226.7v24.7M621.5 214.2v25.1M620.5 222.5v25.7M620.5 257.3v32.9M621.5 260.7v37M621.5 241.2v24.8M621.5 276.1v48.1M622.5 188v27M622.5 250.3v32.4M622.5 177v25M622.5 224.6v26.4M622.5 194.9v23.5M622.5 224.8v22.8M622.5 267.2v41.9M622.5 238.7v25.1M622.5 270.6v51.9M621.5 243.4v35.5M622.5 283.1v51.2M622.5 283.3v50.9M622.5 291.3v66.7M622.5 296v68M623.5 206.4v29.3M623.5 260.6v46.4M622.5 265.8v42M623.5 193.2v23.9M623.5 264v47M623.5 209.1v29.8M622.5 188.4v22M623.5 220v27.7M623.5 205.1v26M623.5 234.5v34.8M623.5 228.1v20.1M623.5 251.2v35.7M623.5 229.5v31.2M624.5 287.7v61.6M624.5 191.8v25.7M624.5 235.1v28.2M624.5 193.1v23M624.5 183.1v22.7M623.5 185v21.1M623.5 210.2v23.7M624.5 218.4v26.5M624.5 188.9v22.5M625.5 267.5v45.2M625.5 181.1v23M625.5 194.8v25.5M625.5 213.7v26.2M625.5 211.8v30M625.5 163.2v20.7M625.5 210.2v26.9M625.5 212v22.6M625.5 154.8v25.7M625.5 239.6v31.8M626.5 168.4v22M626.5 255.9v41.4M626.5 222v22.5M627.5 187.6v22M626.5 228.7v30.1M626.5 233v36.7M627.5 217.7v23.4M627.5 217.3v22M626.5 176.1v20.3M626.5 240.2v32.6M626.5 270.7v51.8M627.5 228.2v23.6M628.5 165.8v26.3M627.5 259.5v51.7M628.5 280.8v60M627.5 203.4v23.6M627.5 187.6v28.9M627.5 241.3v33.8M627.5 206.7v23.8M627.5 251.4v47.7M627.5 287.2v60.6M628.5 215.3v22.7M628.5 284.2v60.6M628.5 200.7v22.5M628.5 190.5v27M628.5 232.8v28.7M628.5 194.4v24.7M628.5 229.9v31M628.5 228v28.5M628.5 267.8v50M628.5 236.4v31.6M628.5 264.5v45.7M630.5 225.8v25.4M629.5 171.5v25.6M629.5 180.6v22.6M630.5 205v20.7M629.5 217v29.9M629.5 181.4v21.2M629.5 204.6v29.2M629.5 236.6v40.5M629.5 197.2v21.4M629.5 200.8v24.3M629.5 237.1v33.4M630.5 227.7v26.5M630.5 262.2v46.9M629.5 223.4v34.7M629.5 259.5v52.9M629.5 255v40.1M629.5 275.3v58.5M630.5 286.5v63.5M630.5 222.7v34.2M630.5 198.8v20.3M630.5 207.1v28.9M630.5 172.3v29.5M630.5 243.2v42.1M630.5 236.6v42M630.5 283.5v59.6M630.5 273.8v58.1M631.5 173.7v23.1M631.5 277.2v56.8M631.5 210.4v20.7M632.5 215.5v26.5M631.5 219.4v26.7M632.5 181.8v25.7M631.5 233.3v32.8M632.5 256v42.2M632.5 291.4v67M631.5 229.2v38.3M632.5 248.7v38.3M632.5 247.5v40.9M632.5 212v22.9M631.5 206.1v22.3M632.5 230.9v31.8M631.5 187.5v29.3M632.5 188.8v20.1M632.5 211.2v28.3M632.5 247v37.5M632.5 238.7v44.3M632.5 256v52.5M632.5 267.1v59.3M632.5 254.7v46M632.5 249.4v43.1M632.5 292.9v74.2M631.5 291.4v61.7M631.5 295.8v79.9M634.5 277.3v60.5M634.5 288.3v64.4M634.5 266.7v52.9M633.5 280.1v66.9M633.5 149.2v28.2M634.5 139v27.8M633.5 198.6v28.4M634.5 242.3v39M634.5 137.8v28.1M633.5 175.6v26.9M633.5 188.3v22.5M633.5 153.8v21.7M633.5 250.1v44.4M633.5 249.8v47.2M633.5 277.7v65.3M634.5 171.6v24.6M635.5 188.7v27.7M634.5 170.8v28.8M634.5 187.5v21.7M634.5 248.3v39.1M634.5 231.4v29.3M634.5 144.6v25.3M634.5 165.8v29.6M635.5 237.4v32.6M634.5 254.9v46.2M634.5 236.1v43.7M634.5 228.1v30.9M634.5 272.8v52.4M634.5 171.1v28.2M634.5 266.5v60.3M635.5 196.8v23M634.5 204.5v27.5M635.5 175v20M635.5 231v36.1M634.5 171.9v25.9M634.5 160.2v27.1M635.5 204.1v27.9M634.5 199.4v26.4M634.5 260.7v49.4M634.5 240.6v46.1M635.5 224.9v28.3M635.5 237v43.1M634.5 295.6v72.8M635.5 292.3v72.1M636.5 146v26.5M637.5 199.1v21.1M636.5 163.7v29.1M636.5 172.4v28.4M636.5 286.7v69.7M637.5 220v25.6M636.5 278.7v67.1M636.5 241.9v38.3M637.5 249.3v45.7M637.5 206.1v25M636.5 231.2v30.5M636.5 149.4v27.7M636.5 178.3v27M636.5 234.1v33.8M637.5 242.4v38.1M636.5 278.3v59.3M636.5 135.2v26.4M636.5 298.5v83.4M637.5 285.5v63.6M636.5 155.6v23.4M637.5 135.8v26.7M636.5 203.8v27.7M637.5 209.9v24.1M637.5 183v20.6M637.5 233.7v38.4M637.5 262v47.9M637.5 235v41.6M638.5 233.7v33.7M638.5 206v29.2M638.5 176.4v20.6M639.5 215.7v30.3M638.5 259.3v49.6M638.5 243.6v39.4M639.5 202.4v27.2M639.5 169.9v26.3M638.5 219.8v30M638.5 130.6v20.4M638.5 217.6v31.6M638.5 248.9v47M639.5 248v39.4M639.5 249.8v47.4M638.5 258.1v53.1M638.5 296.9v70.7M639.5 291.5v81.2M639.5 242.4v40.5M640.5 262.6v54M640.5 195.6v26.3M640.5 227.5v27.9M640.5 192.3v28.6M639.5 201.3v22.8M639.5 256.5v48.6M640.5 262v58.7M640.5 232.9v31.6M639.5 282.6v68.8M640.5 287.2v61.6M640.5 130.8v28.6M640.5 259.9v49.1M640.5 260.8v53M640.5 238.7v45.4M640.5 287.7v72M640.5 194v25.1M640.5 217.5v22.4M641.5 189.6v27.9M640.5 190.3v24.1M641.5 159v21.8M641.5 169.6v28.3M641.5 181.5v28.2M641.5 193.4v20.4M641.5 162.7v28.5M642.5 223.4v26.6M641.5 225.5v28.7M642.5 193.6v26.9M641.5 208.2v23.5M641.5 181.7v24.7M642.5 150v24M641.5 238.7v44.9M641.5 231.7v38.6M641.5 194.3v24.2M641.5 231.2v41.1M642.5 261.3v55M641.5 239.2v43.8M641.5 228.1v28.9M642.5 277.5v56.7M643.5 205.3v20.6M642.5 228.6v37.7M643.5 213.2v34.6M643.5 168v27.2M642.5 270.7v57.2M643.5 234.3v38M642.5 259.8v59.8M642.5 282.2v60.5M642.5 293.4v79.2M644.5 232.5v44.5M644.5 144.6v21.7M644.5 229.7v36.4M643.5 237.7v42.1M643.5 263.9v52.5M643.5 217.6v34.8M643.5 165.6v22.9M643.5 137.3v23.6M644.5 211.3v29.6M643.5 211v33.2M643.5 230.4v42.1M643.5 197.1v22.5M643.5 170.8v24M643.5 191v29.6M643.5 219.9v36.3M643.5 240.9v39.7M644.5 224.7v43.3M643.5 260v60.2M643.5 221.6v33.3M643.5 233.6v40.1M643.5 246.1v45.3M644.5 285.5v75.8M644.5 220.6v35.1M643.5 175.9v24.1M644.5 216.2v33M644.5 217.2v29.4M643.5 203.9v29.1M644.5 180.9v24.3M644.5 188.7v21.4M644.5 140.4v28.3M644.5 204.3v32M644.5 263.1v61.7M644.5 267.3v58.5M644.5 226.8v41.5M644.5 223.5v40.7M645.5 187.1v25.7M645.5 192.4v20.5M645.5 185.9v27.9M645.5 209.8v25.9M644.5 161v20.3M645.5 196.3v31.4M645.5 215.7v31.9M644.5 182.1v25.6M644.5 136.1v23.1M645.5 161.9v27.5M645.5 251.9v59.9M645.5 224.2v37.3M645.5 258v61.5M644.5 253.1v49.9M644.5 220.2v39.4M645.5 223v36.5M646.5 148.2v20.5M646.5 149.3v25.7M645.5 166.2v26.5M645.5 181v25.5M645.5 164.8v21.2M647.5 137.7v21.4M647.5 151.9v24.6M647.5 123.1v22.8M647.5 159v24.1M647.5 167.7v26.8M647.5 151.2v26.3M648.5 182.7v32.8M647.5 164.8v23.2M647.5 176.1v21.1M649.5 151.4v22.4M649.5 156.3v23.7M648.5 115v23.5M649.5 151.9v28.5M649.5 112.1v29.1M649.5 151.4v21.1M649.5 162v22.5M649.5 148.5v20.3M648.5 111.2v22.3M650.5 134.3v30M649.5 181.5v37.3M650.5 149.3v20.1M650.5 162.3v28.6M649.5 180v30.5M650.5 123.7v27.7M649.5 130.9v28.3M650.5 132.8v24.6M650.5 196.5v51.8M652.5 123.9v21.3M651.5 169.8v28.2M652.5 111v29.6M651.5 162.4v29.3M651.5 150.8v20M651.5 160.7v26.2M651.5 163.5v29.1M651.5 159.2v25.9M651.5 167.7v30.1M651.5 141.5v27.3M652.5 151.9v24.3M651.5 158.6v23.4M651.5 130v27.2M652.5 152.3v28.9M651.5 156.3v22.1M652.5 149.2v26.5M651.5 130.8v23.8M651.5 152.4v20.8M652.5 210v48.2M653.5 119.5v28.4M653.5 155.7v22.3M653.5 188.5v33M653.5 134.5v29.7M653.5 137v23.3M653.5 153.6v26.8M653.5 142.4v25.4M654.5 114.6v26.7M654.5 123.6v27.7M654.5 113.7v25M654.5 137.3v23.9M654.5 163.8v25.4M654.5 155.2v27.9M654.5 125.7v24.8M654.5 134.9v22M654.5 185.4v44.5M655.5 153.9v26.4M655.5 111.4v28.5M655.5 158.5v24.2M655.5 181.4v35.5M655.5 153.9v20M655.5 113.8v28M655.5 123.8v23.9M655.5 116.7v26.7M655.5 174.4v37.4M655.5 116.5v24.7M655.5 173.3v38.8M656.5 129.7v23.9M656.5 166.6v26.8M655.5 152.3v27M655.5 148.6v25.1M656.5 144.5v20.5M656.5 181.7v38.5M657.5 148v26.1M657.5 159.4v28.8M657.5 149.9v25.1M657.5 160.2v26.8M657.5 151.3v21.5M657.5 167v26.1M658.5 166.2v35.6M658.5 166.7v30.8M658.5 138v25.3M659.5 160v28.9M658.5 131.2v29.3M659.5 149.1v27.9M658.5 144.9v25.7M658.5 192.3v58.1M658.5 160.8v24.6M659.5 143.2v27.6M659.5 139.8v26.6M659.5 140v26.6M659.5 117.2v26.3M659.5 105.7v21.3M659.5 157.5v30.1M659.5 152.4v24.7M659.5 135.2v25.7M659.5 149.3v21.2M659.5 120.8v28.6M659.5 145.6v23M659.5 152.9v20.8M659.5 88.8v23.4M659.5 199.9v63M659.5 96.2v25.1M660.5 123.4v24M660.5 122.9v22.3M659.5 115v21.1M660.5 168.7v40.3M659.5 132.8v23.1M660.5 108.4v26.9M660.5 132.5v25.7M660.5 195.4v46.7M661.5 151.9v27.5M660.5 151.7v30.1M660.5 118.8v21.4M660.5 140.1v24M661.5 126.1v27.5M661.5 115.4v25.6M661.5 155.1v33.4M661.5 141.1v23.3M661.5 124.1v28.1M661.5 154.6v23.4M661.5 161.1v29.3M663.5 136.1v23.8M662.5 123.7v21.6M662.5 149.4v23.9M662.5 137.2v29.5M662.5 154.6v25.3M662.5 112.5v22.7M663.5 146.3v27.1M663.5 120.2v29M663.5 130.6v20.8M663.5 181.9v50.8M664.5 139.2v29.9M664.5 140.2v27.8M664.5 117v28.4M664.5 142.6v27.7M664.5 131.2v25.8M664.5 145.2v24.6M664.5 105.4v28.9M664.5 113.9v28.1M665.5 140.7v23.1M665.5 119.1v27.5M666.5 116.7v29.7M665.5 150.9v22.9M665.5 113.8v30M665.5 157.6v33.9M666.5 164.2v42.2M667.5 134.4v26.9M666.5 92.2v28.6M667.5 165.5v30.3M666.5 123.1v28.1M666.5 109.5v21.7M667.5 156.2v32.7M667.5 137.4v22.4M666.5 81.3v22.4M666.5 161.2v41.6M667.5 145.4v23.1M668.5 94.4v22.5M667.5 136.4v24.1M667.5 140.8v27.3M667.5 158.8v31.1M667.5 131.3v29.5M667.5 124.4v20M667.5 144.1v23.3M667.5 117v26.1M667.5 75.3v34.1M667.5 178.3v47.9M668.5 163v28.4M668.5 106.7v26.9M668.5 155.4v27.4M668.5 136.7v26.1M668.5 118.3v22M669.5 141.4v22.9M669.5 117.7v25.6M668.5 157.3v33.1M669.5 123.5v25.6M669.5 137.7v25M669.5 134.8v29.7M669.5 113.9v29.3M668.5 150.3v31.2M669.5 130.6v29.7M670.5 107.1v27.7M670.5 95.3v28.9M670.5 150.8v25.3M670.5 107.7v29.1M670.5 131.9v27.5M671.5 137.6v27M671.5 120.1v27.4M671.5 135v23.4M671.5 112.6v26.4M671.5 150.7v24.2M670.5 132.5v22M671.5 146.2v26.9M671.5 108.4v29.1M671.5 137v20.8M670.5 177.1v47.7M671.5 141.6v27.1M671.5 146.5v29.2M672.5 146.4v23.3M671.5 105.1v24.9M672.5 135.9v28M672.5 129.5v29.6M672.5 170.7v46.6M673.5 129.7v26.7M673.5 127.2v26.6M673.5 122.6v29.2M673.5 120.4v25.3M673.5 127.5v27.8M673.5 159.7v45.7M673.5 171.2v44.4M674.5 137.1v20.6M674.5 126.9v21.5M674.5 109.6v21.8M674.5 153.8v22.5M674.5 148.1v21M674.5 135.2v23.8M674.5 116.8v22.6M674.5 132.1v28.8M674.5 108.1v25M674.5 148.1v26.5M674.5 164.4v40M675.5 105.4v26.6M675.5 120.2v28.1M675.5 132.9v28.8M675.5 139.5v21.2M675.5 137.9v21.9M675.5 121.8v27.6M675.5 131.1v25.8M675.5 119.3v23.9M675.5 129.5v29.3M675.5 143v25.6M675.5 83.8v35.6M675.5 157.9v34.1M677.5 91.7v33.2M677.5 86.8v31.1M677.5 98.4v24.1M677.5 152.8v22.7M678.5 126.8v26.8M678.5 127.6v20.8M678.5 115.9v22.5M678.5 115.8v22.9M678.5 135.2v22.3M678.5 124.5v22.5M678.5 125v23.1M678.5 123.6v21.4M679.5 131.2v26.4M678.5 118.7v26.2M679.5 146.6v29.9M679.5 94v23M679.5 141v23.7M679.5 122.5v21.7M680.5 116.7v29.9M680.5 109.8v26.3M681.5 95.6v26.2M681.5 131.2v29M682.5 129.9v27.7M682.5 134.8v27.1M681.5 139.7v27.7M681.5 117.9v28.9M681.5 105v29.5M682.5 90.7v22.5M682.5 135.4v20.1M682.5 111.7v25.8M682.5 120.6v28.4M682.5 108.2v23.1M682.5 115.1v28.7M682.5 145.7v32.9M682.5 152.5v42M683.5 128.5v25.8M683.5 129.5v25.5M683.5 121.3v24.2M682.5 126v20.3M683.5 110.8v26.8M683.5 143.1v20.7M683.5 166.3v37.5M685.5 136v23.2M686.5 89.9v28.2M686.5 112.8v24.7M686.5 96.1v26.1M686.5 105.3v26.5M686.5 80.3v27.2M686.5 124.8v25.8M686.5 144.3v27.6M687.5 124.4v21.6M687.5 105.9v24.5M686.5 107.7v26.2M687.5 116.4v27.8M687.5 119.5v21.1M688.5 134.9v28.8M688.5 97.8v29.5M688.5 139.8v29.7M688.5 108.3v21M689.5 116.3v29.6M689.5 113.9v21.1M688.5 78.8v27.9M688.5 116.8v20.6M688.5 160.3v42.4M689.5 113.6v20.3M688.5 143.3v29.7M689.5 90.4v23.7M688.5 154.7v37M691.5 123.9v28.3M690.5 118v30.4M690.5 92.9v22.3M690.5 100.8v29.5M690.5 135.2v37.7M690.5 90.3v23.6M690.5 120.5v31.9M690.5 118.1v23.1M691.5 110.6v26M691.5 99.4v26.9M690.5 120.8v26.5M691.5 80.2v28.1M690.5 134.3v38.9M691.5 90.8v25.1M692.5 87v27M691.5 105.4v23.2M691.5 97.5v22.1M691.5 127.1v28.6M691.5 84.6v20.7M691.5 87v29.6M691.5 131.6v39M692.5 137.8v45.2M693.5 113v29.5M693.5 83v20.8M693.5 112.8v25.6M693.5 121.1v31.3M693.5 73v26.1M693.5 127v31.4M693.5 92.8v24.1M693.5 103.2v22M693.5 90v25.5M694.5 127.7v35.6M694.5 95.6v20.1M694.5 103.3v22.9M694.5 56.3v35.9M695.5 126.6v33.9M695.5 98.6v25M695.5 76.2v29.8M695.5 117.3v27.4M695.5 105.2v27M695.5 108.9v29.1M695.5 81.5v24.5M695.5 69.9v25.9M696.5 68.8v29M696.5 81v29.7M696.5 70v25.4M696.5 116.1v24.5M696.5 80.8v22.4M695.5 94.5v23.5M696.5 111.1v29.4M696.5 99.6v20.9M696.5 108.8v26.3M698.5 74.7v21.2M698.5 119.1v25.5M697.5 99.8v21.1M697.5 95.5v28.5M698.5 104.2v23.1M698.5 99.9v23.2M697.5 97.4v21.6M698.5 103.4v25.3M698.5 126.5v36.7M698.5 105.8v26.1M698.5 101.5v23.8M698.5 110.6v23.3M699.5 83v29.2M699.5 121v32.8M699.5 109.1v20.1M699.5 84.4v21.2M700.5 83.7v22.6M700.5 103.8v20.6M700.5 89.6v21.4M700.5 92.2v26.5M701.5 110v25.8M700.5 65.7v25.5M701.5 137.2v36.1M701.5 106.9v25.4M701.5 89.4v23.3M701.5 113.2v25.6M701.5 111.1v27.2M701.5 123.8v34.2M701.5 67.1v28.3M702.5 67.5v25.9M702.5 98.3v26.3M703.5 81.4v25.7M702.5 109.8v20.6M702.5 89.1v22.2M703.5 131.8v31.9M703.5 80.2v26.1M702.5 106.5v21.1M703.5 104.2v20.8M702.5 93.3v27.1M702.5 81.7v27.1M703.5 97.1v29.7M703.5 91.7v24.4M703.5 91.3v23.9M704.5 93.4v26.5M703.5 118.4v35M703.5 103.6v27.3M704.5 53.4v26.3M703.5 95.5v27.8M704.5 93.2v27.6M703.5 114v32.3M704.5 69.3v20.7M706.5 120v32.8M705.5 96v25.6M705.5 89.2v25.1M705.5 76.2v24.9M705.5 87.3v22M705.5 107.3v31M705.5 108.7v25.6M705.5 75.2v29.7M706.5 70.3v23.8M705.5 72v22.8M706.5 98.8v27.6M706.5 69.6v29.6M705.5 90.9v29.3M706.5 99.6v29.4M706.5 103.4v30M705.5 103v28.8M706.5 115.6v25.9M705.5 62.3v31.6M705.5 50.1v22.4M708.5 106.8v25M707.5 97v29.1M707.5 96.2v28.1M707.5 84.5v24.7M707.5 97.7v23.8M708.5 72.8v28.4M707.5 104v21.8M707.5 101.6v27M707.5 51.9v31.3M707.5 46.7v30.2M709.5 70.3v28.2M708.5 79.3v25.1M709.5 110.7v28.2M708.5 122.7v39.4M709.5 82.6v22.5M708.5 107.3v28.7M709.5 119.8v41.9M710.5 94.7v21.4M710.5 67.3v29.2M710.5 88.4v27.4M709.5 74.4v26.5M709.5 94.4v23.4M710.5 77.3v23M710.5 73.6v20.9M709.5 70.6v22.8M710.5 61.4v28M710.5 91.1v20.7M709.5 115.5v30.5M710.5 102v33.2M710.5 99.6v22M709.5 68.5v26.6M710.5 81.7v22.7M710.5 89.5v27.1M710.5 92.9v24M710.5 73.7v20.1M710.5 107.9v29.4M711.5 108v37.5M711.5 99.8v21.9M711.5 80v26.9M711.5 71.6v20.3M711.5 103.8v29.3M711.5 105.8v26.2M712.5 61.8v26.8M712.5 92.7v28.8M712.5 60.3v23.5M713.5 93.2v31.8M712.5 70.3v22.9M713.5 70.6v25M713.5 69.1v28.1M713.5 50.6v27.6M714.5 74.8v21.3M713.5 66.2v25.6M713.5 90.6v22.2M713.5 99.9v35.8M713.5 50.6v27.6M713.5 51.5v33.1M714.5 88.7v29.9M714.5 80.1v26.7M714.5 97.6v35.5M715.5 80.9v27.8M715.5 78.9v26.2M715.5 93.3v29.3M715.5 78.5v26.3M716.5 90.5v30.2M716.5 70.8v27.6M716.5 76.7v24.2M715.5 42.6v35.1M716.5 97.1v32M717.5 49.4v23.2M718.5 94.2v28.9M717.5 64.9v27M717.5 54.2v29M717.5 69.5v21.1M718.5 77.8v25M718.5 70.7v21.3M718.5 101.7v24.9M718.5 72.6v23.9M718.5 96v33.4M718.5 82.2v23.9M718.5 45.7v28.2M718.5 59.4v27.8M719.5 101.8v25.7M719.5 86.5v20.9M719.5 46.5v26.6M719.5 61.5v22.8M719.5 68.8v22M718.5 80v21.1M720.5 52.5v21.7M720.5 60v27.7M720.5 91.2v29.6M721.5 53.3v26.8M721.5 100.5v23.3M721.5 55.6v23.9M721.5 75.9v21.9M721.5 87.9v22.1M721.5 85v24.4M721.5 59v21.4M721.5 89.8v20.2M721.5 84.8v21.6M721.5 78.7v25.4M722.5 92.7v21.9M722.5 94.5v27.8M721.5 103.6v29M721.5 79.2v20.3M722.5 78.4v28.7M723.5 97.9v31M723.5 61.4v28.7M723.5 65.1v22.6M724.5 62.4v29.2M725.5 78.2v22.2M724.5 84.3v20.8M726.5 96v27.7M725.5 65.5v24.4M726.5 80.8v24.4M725.5 66v25.4M726.5 56.5v24.4M726.5 79.8v29M725.5 68.5v29.2M726.5 84v26.4M726.5 85.2v25.4M726.5 68.6v20.1M726.5 94.4v23.2M725.5 53.6v21.9M725.5 70.5v20.7M726.5 46.9v22.2M727.5 54.9v21.9M727.5 102.6v27.8M727.5 98.3v25M727.5 90.1v29.5M727.5 62.8v29.7M727.5 58.7v23.6M728.5 66.1v28.5M727.5 87.7v23.1M728.5 69.4v29M727.5 96.2v23.7M728.5 111.4v28.7M728.5 91.7v24.6M728.5 54.9v23.9M729.5 71v25.9M729.5 49.5v30.9M730.5 85v22M730.5 104.7v30.1M730.5 75.8v26.6M730.5 62.1v29M730.5 98.7v20.5M731.5 82.9v23.7M732.5 98.9v28.3M731.5 60.2v22.8M732.5 95.2v30.6M732.5 79.4v25.2M732.5 94v20M732.5 65.2v25.7M731.5 47v24.1M733.5 64.2v23.9M733.5 59.5v25.9M733.5 56.8v25.2M733.5 92.1v24M733.5 117.1v34.1M733.5 98.7v20.3M734.5 58.8v25.4M734.5 77.6v27.2M734.5 56.7v25M735.5 75.2v26M734.5 86.4v27.1M734.5 102.4v29.4M734.5 114.5v29M734.5 108.1v31.7M735.5 105.4v33.1M736.5 72.8v26.1M735.5 100.3v20.4M735.5 120.8v36.4M735.5 111.6v33.7M735.5 101.7v31M736.5 84.6v27.8M736.5 117.1v32.1M735.5 78.7v25.5M736.5 56.2v20.3M736.5 75.8v27.6M736.5 89.4v28.4M736.5 72.8v24.4M736.5 54.4v33.3M736.5 127.8v40.3M737.5 116v37.6M737.5 77.7v20.8M737.5 90.1v29.5M737.5 88.7v29.9M737.5 85.3v20.7M737.5 45.4v35.1M737.5 116.1v29M738.5 123.2v31.2M738.5 77.2v28.6M737.5 67.8v26.4M738.5 110.3v33.7M737.5 104.9v26.9M739.5 54.3v20.1M739.5 81.7v22.2M739.5 115.6v33M739.5 73.2v28.6M740.5 109.4v21.7M739.5 91.8v25.4M739.5 91.7v24M739.5 116.7v37.2M739.5 73.7v29.3M739.5 135.2v52.8M740.5 139.2v51.1M739.5 64v22.9M740.5 125.9v31.5M740.5 121.9v40M740.5 125.6v31.3M739.5 65.7v26.7M740.5 91v29.2M741.5 60.5v20.5M742.5 132.3v37.9M741.5 93.9v23.3M742.5 104.7v21.4M741.5 119.6v38.4M741.5 75.9v28.9M741.5 63.5v24.1M742.5 116.5v33.1M741.5 108.4v30M742.5 77.1v25M741.5 88.6v20.7M741.5 70.6v24.8M741.5 87.2v24.1M742.5 130.2v36.9M742.5 126.3v34.8M742.5 136v39.2M741.5 95.2v27.1M741.5 105.5v27.3M742.5 89v22.6M742.5 123.2v40.1M742.5 87.4v20.6M742.5 114.7v30.4M743.5 135.6v41M743.5 62.2v28.8M744.5 65.5v23.8M743.5 130.2v41.3M744.5 132.6v44.3M744.5 67v27.2M744.5 94.3v25.1M744.5 76.8v28.6M743.5 81.7v29.7M743.5 115.5v26.8M743.5 145.6v48.2M745.5 143.3v38.3M744.5 80.7v22.2M744.5 120.2v28.4M745.5 97.8v25.5M744.5 58.6v27.8M745.5 79.4v25.6M745.5 125.8v37.1M745.5 84.3v26M744.5 108.1v24.4M745.5 41.2v32.4M746.5 64.5v29M746.5 63.4v23.7M747.5 76.4v26.4M747.5 81.1v23.7M747.5 60.8v24.9M746.5 86.2v22.8M746.5 139.1v45.8M746.5 99.4v28.3M746.5 92.9v25M747.5 78.9v21.4M746.5 110.6v28.8M746.5 61.8v26.2M747.5 113.9v24.1M746.5 58.9v27.8M746.5 46v25.4M746.5 145.1v54.3M747.5 90.2v27.8M747.5 105v26.3M747.5 111.5v26.4M748.5 77.2v21.5M748.5 100v23.5M749.5 82.2v22M748.5 110.6v20.5M748.5 116.6v27.4M748.5 89.2v25M749.5 132v31.6M748.5 88.6v22.4M748.5 79.8v26M748.5 125.2v33.2M749.5 67.9v23.7M749.5 49.5v29.4M749.5 99.9v25.2M749.5 85.1v21.9M749.5 123.6v28.3M748.5 81.1v22.7M751.5 82.6v26M750.5 71.3v26.1M751.5 132.8v37.7M750.5 77.9v23.8M751.5 88.5v28.1M751.5 120.8v26.3M750.5 153v42.3M750.5 92.3v23.9M750.5 147.3v44.6M751.5 149.7v43.7M751.5 96.7v23.4M751.5 108.8v29.4M751.5 71.9v27.9M750.5 109.1v29.1M751.5 71.4v23.5M750.5 51v29.8M752.5 62.8v25.1M751.5 101.2v21.4M752.5 143.1v42.1M751.5 77.6v28.7M752.5 53.4v25.9M752.5 101.8v25.9M752.5 128.6v32.5M752.5 137.9v32.3M751.5 123.4v25.6M752.5 138.4v43.5M753.5 93.9v27.7M753.5 105.4v23.8M753.5 54.2v25M753.5 93.3v28.7M753.5 102.3v26.6M753.5 108.4v24.2M753.5 132.2v34.6M754.5 149.6v46.9M754.5 126.3v26.6M754.5 112.4v21.4M754.5 106.3v26.1M754.5 117.4v27.1M753.5 127v28.6M753.5 99.3v29.5M754.5 96.9v24.3M754.5 139.8v34.6M754.5 81.5v23M755.5 101.5v27.4M755.5 93.7v22.4M755.5 84.4v21.7M755.5 98v20.1M755.5 58.5v25.2M755.5 137.5v33.9M755.5 97.5v24.4M755.5 87.8v29M755.5 104.4v23.9M755.5 148.2v47.9M755.5 143.8v53.5M756.5 137.7v40.9M756.5 123.9v30.5M756.5 124.4v31.7M755.5 75.8v23.2M756.5 54.2v28.6M756.5 149.4v47.7M756.5 108.1v22.5M756.5 100.4v20.3M756.5 131.4v30.4M756.5 121.3v24.8M756.5 140.6v37M755.5 141.6v34.7M756.5 133.7v30.6M756.5 93.9v21.1M755.5 112.6v28.9M757.5 118.5v23.3M757.5 143.3v44.2M757.5 120.1v20.6M757.5 82.5v29.9M757.5 101.4v29.7M757.5 101.9v26.6M757.5 81.4v29M757.5 133.3v26.4M757.5 150.5v44M758.5 149.6v39.8M758.5 111.9v23.3M758.5 90v27.8M758.5 100.4v20.6M758.5 97.8v23.4M758.5 84v24.6M758.5 115.1v28.8M758.5 125.1v22.2M758.5 138.8v33.2M758.5 94.7v24.9M758.5 108.4v21.2M757.5 122v22.6M758.5 113.2v28.6M760.5 127v30.7M760.5 97.2v20.5M759.5 104.8v21.3M759.5 115.9v29.1M759.5 118.9v27.9M759.5 115.6v20.4M759.5 143v33.8M759.5 91.8v22.4M760.5 60.5v26.3M759.5 143.4v49.2M760.5 113.7v29.7M759.5 109v21.8M760.5 144.6v34.3M760.5 92.9v23.7M760.5 134v30.3M760.5 118.6v28.9M760.5 91.8v24.7M759.5 125.7v24.3M760.5 131.7v31.7M759.5 102.8v21.1M759.5 131v32.9M761.5 126v28.3M762.5 134.2v33.6M761.5 103.7v20.7M761.5 105.8v23.8M761.5 151.9v37.3M762.5 99.8v28.5M762.5 111.3v21.5M762.5 148.3v35.1M762.5 125.4v20.1M762.5 128.7v22.5M762.5 87.3v23.4M762.5 124.9v24.4M764.5 112v29.6M763.5 113.6v25.1M763.5 115.9v29.9M764.5 121.7v28.2M763.5 153.5v35M763.5 134.5v26.9M764.5 146.6v28.1M764.5 147v33.4M764.5 146.9v37.6M764.5 102.9v26.5M765.5 147.1v34.1M765.5 140.1v32M765.5 122.9v27.5M765.5 142v27.9M765.5 143.3v24.4M765.5 122.2v23.9M765.5 124.1v26.2M766.5 115.1v24.3M766.5 108.5v26.2M766.5 136.7v21.7M766.5 81.7v23.1M767.5 146.3v34.6M767.5 125.5v24.2M767.5 110.3v26.2M768.5 126v24.2M769.5 134.5v29.5M768.5 137.1v22.5M769.5 142.7v28.3M768.5 123.9v21M769.5 119.4v21.8M769.5 137.7v27.7M769.5 114.8v29.2M769.5 147.7v34.1M769.5 128.6v22.4M769.5 135.1v29.6M769.5 130.3v24.4M768.5 163.8v41.1M770.5 107.8v25.8M770.5 154.4v26.1M770.5 108.6v22.6M770.5 148.7v24.9M770.5 120.1v20.4M770.5 106.3v27.4M770.5 129.5v21.5M770.5 134.9v23.8M771.5 132.2v22M772.5 126.5v28.3M772.5 152.6v35.8M772.5 124.6v20.5M771.5 131.7v26.4M772.5 154.4v32.4M771.5 106.4v24.7M772.5 108.5v21.6M772.5 144.8v21.2M772.5 133.8v28.1M772.5 170.5v51.9M773.5 152.3v23.5M773.5 169.3v41.6M773.5 112v25.7M773.5 146.2v27.6M773.5 164.7v41M773.5 146.6v26.6M773.5 162.9v38.5M773.5 122.8v24.6M773.5 127v21.3M773.5 129.7v29.8M773.5 194.5v54.3M775.5 111.3v23.9M774.5 117.1v23.4M774.5 137.7v21.1M774.5 146.1v22.7M774.5 122.5v28M774.5 206.9v71.6M775.5 203.8v61.7M775.5 130.1v25.7M775.5 191.8v52.3M775.5 187.2v50.6M775.5 177v43.3M775.5 183.9v39.7M776.5 136.9v24.4M775.5 138.7v25.1M776.5 152.9v32.5M776.5 171.7v40.3M776.5 169.2v31.5M776.5 187.9v51.7M776.5 166.4v32.9M775.5 149.4v31.9M775.5 114.8v29M775.5 180.1v42.2M775.5 186.2v75.5M776.5 200.4v53.9M776.5 120.4v29.6M775.5 139.5v27.7M776.5 146.4v30.3M775.5 178.6v36.9M776.5 131v21.2M776.5 178.9v47.6M776.5 173.9v43.9M776.5 237v104.3M777.5 142.9v21.6M777.5 123.2v22.9M777.5 131.5v28M777.5 145.9v28.4M777.5 131.9v23.9M777.5 161.3v30.2M777.5 115.4v27.5M777.5 118v20.6M777.5 107.4v30M777.5 236.2v84.6M778.5 194.5v45.1M778.5 179v41M778.5 182.4v48.6M778.5 128.8v29.5M778.5 179.5v48M778.5 134v21.6M778.5 152.7v26.4M777.5 126.9v25.6M779.5 187.5v47.4M779.5 116.3v22.2M779.5 114.2v25.9M779.5 142.2v21.7M779.5 139.4v24.1M780.5 154.3v23.2M779.5 180.2v47.5M780.5 173.4v36.9M780.5 167.7v32.7M780.5 168.5v40.3M780.5 156.1v29.7M781.5 147.8v29.5M781.5 155.6v27M780.5 126.9v25.3M780.5 170.3v35.7M780.5 171.8v31.1M780.5 201.8v88.8M781.5 200.1v49.8M781.5 187.7v42.6M781.5 174.1v42.4M781.5 139.5v20.9M782.5 164.4v31.4M782.5 170.6v31.8M781.5 247.2v99.7M782.5 147.7v28.3M782.5 157.5v21.9M782.5 175.9v44M782.5 125v24.6M782.5 213.2v80M782.5 233.9v95.2M782.5 155.2v30.6M783.5 143.2v20.5M782.5 157.2v33.4M783.5 147v29.7M783.5 164.3v27M783.5 147.6v26.6M783.5 131.1v27.4M783.5 216.7v97.7M784.5 177.9v43.1M784.5 162.2v27.6M784.5 157v32.8M784.5 179.4v44.6M784.5 143.9v20.9M784.5 140.7v29.6M784.5 111.6v33.2M784.5 247.8v106.1M785.5 171v38.4M785.5 144.6v23.6M784.5 160.4v30.5M785.5 133.7v21.8M785.5 89.6v26.8M785.5 157.7v31.4M785.5 137.7v26.5M786.5 118.7v28.6M785.5 159.9v20.9M785.5 153.1v22.4M785.5 171.3v29.9M786.5 154.5v24.1M786.5 186.6v68.7M787.5 161v23.8M787.5 174.4v37.5M787.5 140.6v21.1M788.5 189.3v39M788.5 143.5v25.3M789.5 143.3v29.7M789.5 101.5v24.5M789.5 229.1v91M789.5 205.3v58.3M789.5 133.6v28.5M789.5 176.9v29M789.5 180.8v31.7M788.5 146.5v23.9M789.5 181.6v30.8M789.5 176.9v26.3M789.5 174.1v34.7M789.5 110.3v32.9M790.5 120.3v22.6M790.5 153.3v24.4M790.5 164.7v22.3M790.5 174.4v26.2M791.5 181.1v34.3M791.5 187.2v33.4M791.5 186v30.3M791.5 156.6v20.3M791.5 198.5v34.5M790.5 149v27.6M790.5 185.1v68.9M792.5 135.9v24.8M793.5 184.8v32.2M792.5 188v27.6M792.5 149.5v20.2M792.5 170.1v27.4M793.5 176.4v27.9M792.5 157.3v21.2M792.5 84.7v31.5M793.5 138.2v25.6M793.5 132.8v28.5M793.5 144.2v25.9M793.5 142.3v25.6M793.5 156.4v23.5M794.5 188v27.1M795.5 149.9v28.7M795.5 136.5v27.3M795.5 158.6v21.5M795.5 161.1v26.9M795.5 152.8v22.7M794.5 138.6v29.3M794.5 132.8v21.8M795.5 168.1v21.1M794.5 149.1v28.3M794.5 233.6v65M795.5 128.7v25M796.5 167.5v29.1M795.5 156.3v26M795.5 148.9v27.8M795.5 181.3v31.2M795.5 120.2v20.7M795.5 240.9v92.2M795.5 201v70.6M796.5 175.9v20.8M796.5 163.5v24M796.5 188.8v27.9M796.5 187.4v28.3M796.5 169.6v24.1M796.5 178.8v25.5M796.5 157.3v24.9M796.5 106.3v22.7M797.5 185.2v21.2M798.5 155.5v20.6M798.5 171.2v29.7M798.5 160.1v20.5M797.5 121.5v22.2M798.5 187.4v31.5M797.5 162.3v20.1M797.5 183.1v54.5M798.5 180.2v25.7M798.5 166.4v28.5M798.5 172.8v20.9M799.5 199.5v30.3M799.5 127.3v23.7M799.5 200.8v31M798.5 172v22.6M799.5 193.4v26.2M799.5 163.1v26.4M798.5 142.5v20.9M799.5 196.8v34M799.5 150.4v27.1M799.5 122.8v26.1M798.5 167.2v21.6M800.5 188.8v28.4M801.5 163.5v25.7M800.5 152.2v29.9M800.5 132.2v21.1M800.5 158.1v25M800.5 165.5v22.5M800.5 160.2v26.5M800.5 144.8v22.1M800.5 160.3v23.3M801.5 187.8v29.2M801.5 163.9v23.7M801.5 140.2v23.4M801.5 151.3v25.2M801.5 130.3v20.6M801.5 150.8v21.6M802.5 185.1v60.6M801.5 177.6v26.6M801.5 177.1v24.1M802.5 144.7v25.3M801.5 166.1v22.1M802.5 193.9v32.4M801.5 221.9v53.1M802.5 193.7v46.9M803.5 188.4v28M803.5 137.5v27.6M803.5 186.6v22.6M802.5 175.8v27.7M803.5 160v28.4M803.5 159.7v28.8M802.5 201.5v39M804.5 154.5v28.7M804.5 171.6v21.3M804.5 183.7v27.9M804.5 168.2v24.3M804.5 193.8v21.5M804.5 168.5v21.9M804.5 164.4v26.9M804.5 180.3v55M805.5 197.5v23.9M805.5 177.1v26.5M805.5 180.5v27.9M805.5 171.7v28.4M805.5 160.1v29.4M805.5 139.5v26.3M807.5 204.6v27.1M806.5 174.8v27.2M806.5 155v29.7M807.5 210.9v31.6M806.5 172.7v23.6M807.5 206.5v55.2M806.5 184v55.1M807.5 199.1v24.8M807.5 177.2v25.2M807.5 171.3v21.4M807.5 187.4v26.2M807.5 192.7v23.9M807.5 202.9v31.3M807.5 205.1v25.6M807.5 209.7v39.9M807.5 219.4v52.8M807.5 175.5v27.8M807.5 198.5v23M808.5 197v26M807.5 163.2v25.7M807.5 170.2v28.7M807.5 204.3v23.9M807.5 192.5v20.4M808.5 181.9v29.2M807.5 211.8v28.3M810.5 171.1v29.6M809.5 190.9v24M809.5 200.8v22.5M810.5 179.5v28.7M810.5 178.4v24M810.5 156.1v25M810.5 209v31.1M810.5 168.2v29.2M810.5 190.4v24M810.5 160.2v28.2M810.5 181v24.2M810.5 246.5v76.6M811.5 215.2v27.2M811.5 220.7v30.2M811.5 148.8v27.5M811.5 152.2v20.3M811.5 180.6v29.6M811.5 214.4v35.8M811.5 192.2v20.3M811.5 192.4v27.5M812.5 218.4v32.1M811.5 212.3v27.4M811.5 144.4v29.6M811.5 180.2v25.6M811.5 159.4v26.8M811.5 203v23.8M812.5 161.9v23.3M812.5 205v21.6M811.5 187.8v29.9M812.5 210.2v32.7M812.5 170v26.5M812.5 196.9v23.5M812.5 194.7v24M812.5 174.9v23.8M812.5 211.5v23.6M811.5 190.2v26.2M812.5 198.6v29.2M812.5 170.8v22.6M811.5 174.4v24.4M814.5 204.3v25.7M814.5 188.3v28.1M813.5 216.8v36.2M813.5 209.6v27.7M814.5 188.7v26M814.5 151.8v29.5M813.5 210.5v29.3M814.5 210.5v27.7M814.5 204.1v27.9M813.5 163.8v26.5M814.5 141.5v27.1M814.5 120v33.3M814.5 203.6v51.8M815.5 178.8v24.1M815.5 184.3v27M815.5 145.7v23.4M815.5 185v21.3M815.5 155.1v27.6M816.5 201.5v23.3M815.5 134.2v28.8M816.5 195.6v27.8M816.5 201.9v21.3M816.5 171.6v25.5M816.5 189.2v26.1M816.5 213.6v30.5M816.5 148.1v26M816.5 188.6v21.4M816.5 175.7v24.5M816.5 203v20.7M817.5 226.5v29.3M817.5 161.5v23.2M816.5 183.5v29.1M816.5 200.1v25.7M817.5 246.5v69.3M818.5 212.7v31.3M817.5 188.9v20.1M817.5 179.6v27.2M818.5 224.6v28.1M817.5 151.4v27.1M817.5 151.4v27.8M818.5 164.7v21.8M818.5 177.5v21.4M818.5 186.1v29.2M818.5 218.2v25.2M817.5 197v23.7M818.5 174v25.4M818.5 151.8v22.8M818.5 182.4v22.5M819.5 220.8v30.4M820.5 201.9v22.4M819.5 188.4v27.3M820.5 168.9v27.4M820.5 200.8v21.9M820.5 232.9v66.7M821.5 181.4v27.9M820.5 219.6v31.7M820.5 178.8v26.7M820.5 159.6v29.1M820.5 154v26.1M820.5 224.7v68.6M821.5 207v28M822.5 188.9v24.8M821.5 203.5v22.3M821.5 202.2v22.9M822.5 208.8v28.3M822.5 168.2v29.8M822.5 183.1v25.9M821.5 182.5v23.7M822.5 170.9v28.2M822.5 196.8v29.2M822.5 183.3v27M821.5 192.8v22.9M822.5 183.1v28.6M822.5 186.9v29.9M822.5 210.7v26.3M822.5 177.9v26.7M821.5 156.4v22.4M822.5 224.5v69.7M823.5 162.3v22.8M823.5 162.3v22.1M822.5 217.5v24.6M822.5 214.8v28.5M823.5 212.8v20.4M822.5 188.6v24.9M823.5 210.4v22.5M823.5 231.1v28.6M823.5 197.9v27.5M824.5 182.7v29.1M824.5 219.4v33.5M824.5 215.9v27.7M824.5 183.3v20M824.5 211v25.4M824.5 162.7v26.4M824.5 215.5v20.7M824.5 166.8v28.6M824.5 213.2v22.5M825.5 167.2v27.3M825.5 197.4v26.8M826.5 192.3v26.3M825.5 203.6v28.4M826.5 203.5v25M825.5 222.5v24.3M826.5 211.9v23.7M825.5 204v29.9M826.5 161.8v20.8M826.5 166v24M826.5 225.2v30.9M826.5 176.5v21.3M826.5 198.9v23.8M826.5 217.3v28.7M826.5 222.3v25.8M826.5 185.5v26.7M826.5 197.2v28.3M826.5 168v27.5M826.5 178.8v28.4M826.5 183.6v29.2M826.5 231v65.4M826.5 189v25.6M827.5 217.1v23.9M827.5 203.8v23.5M827.5 171.4v28.1M827.5 275.5v64.7M829.5 167.1v29M828.5 210v24M828.5 200.1v22M829.5 180.7v29.4M829.5 218.2v29.7M829.5 213v27.3M829.5 184.6v27.2M829.5 190.2v29.2M829.5 195.2v23.3M829.5 220.1v23.4M829.5 171.9v22.6M829.5 204.4v21.8M829.5 183.8v28.3M830.5 171.5v24.8M830.5 177v22.6M831.5 179.4v27.5M830.5 191.8v24.2M830.5 191.3v26.8M830.5 152.5v27.1M830.5 159.7v22.9M831.5 231.7v49.8M831.5 242.1v48.9M832.5 190.3v20.5M832.5 194.6v23.3M832.5 223.5v22.8M831.5 217.8v28.1M831.5 210.8v20.5M831.5 195.3v21.3M831.5 175v29.5M831.5 222.3v28.7M832.5 234.1v52.4M832.5 256.8v75.8M832.5 234.3v26.6M832.5 219.9v23.1M832.5 229.7v23.6M832.5 204.7v22.8M832.5 219.2v25.6M832.5 204.8v26.9M832.5 219v21.7M832.5 214.6v58.2M833.5 183.2v29.5M833.5 218.1v26.9M833.5 172.6v25.7M833.5 233.6v31.7M833.5 224.5v22.6M834.5 187v27.4M834.5 180.6v28.2M834.5 212.5v24.1M834.5 228.1v20.2M834.5 206.1v29.2M834.5 177.8v29.6M834.5 177.8v28.5M834.5 207.8v23.8M834.5 229.7v29.2M834.5 212.7v21.4M835.5 229.3v22.2M834.5 207.6v20.6M834.5 233.2v24.5M834.5 213.2v22.8M835.5 183.5v25.3M836.5 234.4v22.1M836.5 222.5v23.5M836.5 225v21.8M836.5 221.9v27.1M836.5 239.2v25.5M836.5 216.6v25.2M836.5 193.4v20.6M836.5 219.4v24.3M836.5 235.1v24.6M837.5 202.5v25.2M837.5 223.8v23.4M836.5 214.9v21.8M836.5 235v20.5M837.5 215.5v29M836.5 200.4v25.2M837.5 260.7v77.8M838.5 220v23.3M837.5 234.5v23.1M837.5 224v22.9M838.5 203.8v25.6M837.5 210.6v25.1M838.5 263.2v63.5M839.5 213.1v24.8M841.5 196.3v21.1M840.5 216.3v21.4M840.5 212.5v27.8M841.5 213.3v26M841.5 218.6v28.5M840.5 206.3v26.3M841.5 233v29.3M841.5 202v28.6M840.5 195.2v25.2M843.5 227.1v24M843.5 223.5v25.1M842.5 227.2v20.1M842.5 201.1v23M842.5 236.9v22.2M843.5 232.5v21.3M843.5 212.9v20.5M843.5 218.1v29.5M843.5 223.8v22.9M844.5 239v27.7M844.5 222.7v20.4M844.5 228.1v22.3M845.5 210.4v27.2M845.5 201v25.8M845.5 209.3v23.4M846.5 252.3v42.1M846.5 227v28.5M846.5 230.9v27.7M846.5 219.7v22.7M848.5 205.3v23.9M848.5 226.2v27.8M848.5 212v29.4M848.5 210v29.3M848.5 207.1v27.5M849.5 207v22.5M849.5 222.4v21.3M849.5 214.9v27.9M849.5 220.3v22.5M850.5 212.7v27.3M850.5 231.9v20.6M850.5 211.3v28.3M850.5 224.9v20.2M851.5 214.2v29.1M851.5 223.8v29.4M850.5 202.6v20M852.5 230.2v25M851.5 220.9v28.3M851.5 241v27.3M851.5 218.1v20.4M851.5 190.6v35.5M851.5 196.2v35M851.5 238.9v37.3M852.5 224v25.1M852.5 224.5v23.6M852.5 230.2v29.4M852.5 206.5v28.9M855.5 233.7v22.4M855.5 210.1v23.3M855.5 234v22M855.5 214.1v28.1M855.5 228.5v20.4M855.5 236v25.6M856.5 245.4v24M855.5 236.1v22.5M855.5 228.9v21.3M856.5 236.3v21.6M856.5 229.8v28.3M856.5 225.2v27M857.5 211.7v26.7M857.5 205v29.6M857.5 240.3v23.9M857.5 226.5v24.9M858.5 267.1v35.6M858.5 260v25.1M857.5 213.4v26.1M858.5 231.8v27.5M857.5 225.3v26.8M857.5 255.8v29M858.5 216.6v24.6M857.5 254.9v41.4M859.5 232.8v28.4M859.5 233.5v29.1M859.5 239.1v21.4M859.5 246.7v25.4M859.5 241v26.5M859.5 224.4v21.8M859.5 228v21.9M859.5 254.8v34.2M859.5 253.9v35.4M860.5 254v30M860.5 244.7v27.6M860.5 251v26.4M860.5 224.2v20.7M861.5 230.2v27.3M861.5 218.3v28.8M861.5 221.5v26M861.5 248.3v20.7M861.5 230.3v27.6M863.5 222.3v23.6M863.5 213.8v25.9M863.5 258.6v21M863.5 239v21.3M863.5 229.4v24.9M863.5 207.4v20.2M863.5 252.9v25.3M863.5 248.8v28.8M864.5 239.2v29.7M864.5 257.5v28M863.5 230.9v23.9M863.5 237.1v23.4M864.5 210.3v28.1M864.5 228v20.8M864.5 270.2v25.2M865.5 206.1v26.4M864.5 227.7v24.4M864.5 242.4v22.5M865.5 243.8v20.5M865.5 238.5v24.1M865.5 220v29.9M864.5 255.7v22.1M864.5 219v24.1M865.5 221.4v28.8M865.5 241.6v22.7M865.5 236.5v24.4M865.5 232.6v27.5M865.5 231.8v26.3M865.5 239.8v26.8M865.5 186.8v34.2M864.5 278.4v45.5M865.5 282v42.1M866.5 263.4v22.4M865.5 232.8v22.3M866.5 279.2v34.1M867.5 237.8v25.9M867.5 248.7v21.4M867.5 260.7v20.8M867.5 236.6v22.6M868.5 251.7v25.3M868.5 239.7v29.7M868.5 255.7v30M868.5 257.3v28.6M868.5 238.1v26M868.5 243.2v26.6M868.5 230.2v29.2M868.5 238.9v22.9M869.5 231.2v28.4M869.5 237.6v29.7M869.5 237.9v26.1M869.5 246.2v29.9M869.5 220.5v25M869.5 198.3v30.8M869.5 285.1v37.3M871.5 251.9v28.6M871.5 242v27.7M870.5 223.7v22.6M870.5 219.9v26.6M871.5 262.7v25.7M872.5 210.2v28M871.5 247.5v26.7M872.5 248.9v26.2M871.5 265.8v22.8M872.5 239.7v28.3M871.5 254.5v29.1M872.5 264.8v20.9M872.5 266.6v25.8M871.5 262.1v23M872.5 240.3v29.6M872.5 259v20.6M872.5 259v26.7M873.5 209.7v23M874.5 249.5v26.6M874.5 246.9v29.7M873.5 271.2v28.8M874.5 229.1v29.4M873.5 242.1v22.8M874.5 234.2v20.2M874.5 248.8v22.1M874.5 263.8v21.2M875.5 236.8v25.7M874.5 251.1v24.1M874.5 259.2v21.2M875.5 235.6v25.7M875.5 258.7v28M875.5 234.9v21.6M874.5 209.2v24.9M875.5 288.9v40.8M875.5 236.8v29.7M876.5 240.4v24.6M876.5 270.2v34M875.5 229.5v21.9M876.5 233.8v26.3M876.5 269.7v32.4M876.5 243.3v25.1M876.5 254v26M877.5 224.2v26.9M876.5 208.1v28.2M876.5 265.2v20.9M877.5 242.9v28.5M877.5 250.5v24.1M877.5 223.6v20.6M878.5 263.8v23.8M878.5 271.8v23.7M878.5 230v23.7M878.5 273.7v37.6M878.5 277.5v45.6M879.5 221.4v23.4M879.5 276.4v28.8M878.5 216.1v23.3M878.5 251.5v25.8M878.5 234.1v21.7M878.5 258.8v21.4M878.5 244.5v24.6M880.5 262.9v29.2M880.5 262.8v27.8M879.5 261.7v21.7M880.5 255v23.6M879.5 211.4v21.9M880.5 206.5v29.7M879.5 273.5v26M879.5 255.9v21.2M880.5 256.5v22M881.5 229.6v23.5M881.5 261.3v24.1M881.5 215.8v27.2M881.5 205.6v21.4M881.5 257.7v24.5M881.5 243.3v28.5M881.5 259.4v28.1M881.5 257.4v27.7M882.5 261.1v27.4M881.5 235.1v24.9M881.5 227.4v26.6M881.5 250.8v21.5M881.5 282.4v39M882.5 254.3v25.2M882.5 263.8v29.9M881.5 236.4v22.4M882.5 258.2v22.5M882.5 231.4v24.7M881.5 238.9v24.1M882.5 209.4v27.8M882.5 205.6v28.5M882.5 285.4v33.4M883.5 225.6v24.4M883.5 266.4v21.7M883.5 267.5v20.4M883.5 237.2v24.6M883.5 233.8v25.9M883.5 272v21.8M883.5 210.4v22.5M882.5 289.4v35M885.5 243.4v27.7M884.5 259.7v21.1M884.5 254.2v26.6M885.5 273.7v29.4M885.5 238.8v21.2M886.5 251.7v26.3M886.5 265.7v25.1M887.5 268.2v28.5M887.5 253.5v29M887.5 267v25.9M887.5 273.9v25.7M887.5 278.6v24.9M889.5 260.7v26.3M888.5 267.9v23.8M888.5 277.3v21.1M888.5 275.8v23.4M889.5 276.7v22.5M889.5 280.8v23.5M889.5 248.2v29.8M889.5 262.8v22.1M889.5 245.6v27.4M892.5 277.3v28.8M892.5 290.7v22M892.5 269.3v24.3M893.5 298.4v26.8M892.5 268.8v28.2M892.5 290.9v29.9M892.5 249.3v28.8M893.5 287.5v26.3M893.5 292.6v23.5M893.5 305.6v27M893.5 296.4v22.3M893.5 274.2v21.7M893.5 257.7v23M893.5 272.1v29.1M893.5 297.3v20M893.5 278.3v22.1M893.5 272v29.7M894.5 293.1v27.2M893.5 279.8v22.8M893.5 282.3v21.3M894.5 258v22.7M893.5 281.7v23.9M895.5 292.8v20.8M896.5 308.3v32.1M895.5 290.6v28.8M895.5 286.9v28M895.5 273.1v27.4M896.5 253.8v24.9M895.5 295.9v27.7M895.5 286.9v27.2M895.5 292.5v23.7M895.5 280.9v24.1M895.5 288.5v24.5M895.5 304.5v33.7M895.5 314.6v39.5M896.5 274.8v25.2M896.5 298.4v28.2M896.5 273.8v23.6M896.5 286.3v29.7M896.5 276.5v20.4M897.5 263.4v24.1M897.5 255.7v23M897.5 284.6v20.7M898.5 253.1v28.3M898.5 298.5v25.9M898.5 261.2v26.7M898.5 289v23M898.5 267v23M898.5 291.5v23.3M899.5 257.4v22.2M899.5 285.7v29.9M899.5 285.8v23.2M899.5 270.5v26.6M899.5 297.1v28.8M899.5 274.7v20.3M899.5 274.1v27.7M899.5 294.3v21.6M899.5 281.4v24.1M901.5 302.5v28.4M901.5 257.7v28M900.5 276v24M900.5 285.9v23.8M900.5 298.4v24.6M902.5 311.6v31.2M902.5 282.4v25.1M902.5 288.5v24.2M902.5 256.2v22.4M901.5 315.6v30.5M901.5 313v21.9M901.5 330.9v46.4M903.5 258.9v26.1M902.5 288.5v27.7M903.5 312.6v30.9M902.5 306.7v20.3M903.5 291.1v21.5M903.5 308.5v23.6M903.5 284.6v22.4M903.5 325.7v31M902.5 324.2v38.9M902.5 265.8v22.3M903.5 324v38.2M903.5 282.6v23.5M903.5 280.3v23M902.5 291.5v23.8M904.5 278.9v20.6M904.5 311.5v27.2M904.5 295.2v27M904.5 298.4v22.4M904.5 257.4v25.8M903.5 273.7v26.5M904.5 263.4v29M905.5 308.5v20.8M905.5 292.2v29.2M905.5 302.4v21.9M905.5 262.3v26.2M905.5 315.5v30.3M906.5 333.4v35.9M907.5 295.1v29.7M906.5 303.6v26.8M907.5 260.6v26M907.5 334.9v38.7M907.5 309.6v27.7M907.5 323.1v26M907.5 317.6v21.7M907.5 289.8v26.7M908.5 319.5v29.1M908.5 306v21M908.5 325.8v29.6M908.5 317.9v29.6M908.5 314.6v24.9M908.5 324v33M908.5 291.5v22.7M908.5 298.2v29.3M908.5 316v29.4M908.5 310.7v27.5M908.5 292.4v27.5M908.5 303.3v20.4M908.5 261.3v31.3M909.5 320.8v25.9M909.5 326.5v23.9M909.5 323.8v24.3M909.5 296.6v25.8M909.5 301.1v23.1M908.5 325.3v25.8M909.5 308.1v28M909.5 289.2v25.6M909.5 339.7v38.6M910.5 276.4v20.2M909.5 302.4v22.8M910.5 324.1v31.4M910.5 314.9v23.9M910.5 293.5v29.7M910.5 290.5v20.1M910.5 321.6v29.5M911.5 270.4v23.7M912.5 264.1v25M912.5 319v27.6M911.5 356.3v38.2M911.5 329.7v32.5M911.5 344.5v36.9M911.5 324.9v28.8M911.5 281.9v29.6M911.5 317v29.8M912.5 332.1v32.9M912.5 330.6v35.3M911.5 337.5v28M911.5 326.7v22.1M912.5 324.2v24.7M911.5 301.9v23.8M911.5 314.1v26.8M913.5 284v29.6M913.5 305v23.4M913.5 301.8v24.4M913.5 304.5v22M913.5 299.5v27M913.5 290.1v29.6M913.5 265.6v27.6M914.5 332.9v34.9M914.5 308v23M914.5 292.1v20.1M913.5 273.1v26.4M914.5 308.5v20.2M913.5 328.6v31.8M914.5 297.5v26.4M914.5 346.8v37.6M913.5 263.1v28.4M913.5 323.5v22.2M914.5 308.7v27.9M914.5 322.3v23.6M914.5 313.3v23.4M913.5 341.6v33.4M915.5 298.8v24.4M915.5 309.6v28.1M915.5 300.4v23.6M915.5 285.2v29.1M915.5 303v29.5M915.5 300.9v23.5M914.5 318.5v23.9M915.5 267.3v30.3M915.5 298.2v28.4M915.5 280.9v27.2M915.5 322.4v24.4M915.5 314.8v20.5M916.5 334.7v30.7M915.5 276.7v23.2M916.5 348.5v49.3M918.5 349.2v37.5M918.5 297.9v25.6M917.5 284.6v28.2M917.5 344.7v36.6M918.5 354.6v35.8M918.5 359.6v36.9M918.5 336.8v24.9M917.5 353.6v47.5M918.5 334.1v22.7M918.5 353.3v37M918.5 308.6v25.2M918.5 309.1v26.8M918.5 287.7v26M918.5 353.9v41.9M919.5 306v23M919.5 273v21M919.5 272.8v24.4M920.5 286.9v27.1M920.5 331.2v29.3M920.5 346.9v31.4M920.5 317v22.9M920.5 293.6v29.6M919.5 337.5v31.5M919.5 341.9v30.8M919.5 358.8v41M919.5 318.8v26M920.5 346.9v37M919.5 266.7v28.1M920.5 301v25M920.5 278.5v26.5M920.5 320.1v28.7M920.5 324v22.8M921.5 283.2v20.2M921.5 316.5v22.7M921.5 282.6v20.9M920.5 321.7v20.8M920.5 362.1v38.4M921.5 347.7v39.6M921.5 314.7v21.1M923.5 326.6v29.6M923.5 324.4v26.4M922.5 333.4v22.4M923.5 358.5v39.8M923.5 328.5v26.4M922.5 271.9v25.8M923.5 335v21.6M923.5 332.6v28.7M922.5 336.8v25.4M922.5 352.8v33.1M923.5 307.6v29.4M923.5 311.1v28.3M923.5 322.9v20.7M923.5 279.6v22.9M923.5 342v24.4M924.5 365.9v38.8M924.5 351.5v29.9M924.5 318.5v22.3M924.5 300.3v21.4M924.5 293.6v25.4M924.5 313.6v21.4M924.5 343.7v23.5M924.5 309.4v24M924.5 367.4v45.3M924.5 301.5v29M924.5 303.7v21.1M923.5 335.8v24.8M924.5 323.5v26.8M925.5 352v27.6M925.5 333v21M925.5 331.7v26.6M925.5 297.9v27.6M925.5 366.1v50.7M926.5 298.3v23.6M926.5 327.6v27.2M926.5 317.8v20.9M926.5 339.4v26M926.5 341.1v26.8M926.5 349.6v23.4M926.5 355v33.9M926.5 362.9v41M926.5 326.9v26.6M927.5 313.5v23.4M927.5 310v26.8M928.5 325v23.5M927.5 315.8v21.2M927.5 345.6v24.4M927.5 347.2v29.1M928.5 304.3v28.3M927.5 349.6v23.8M928.5 312.9v22.9M927.5 336.8v25.3M928.5 318.4v21.4M927.5 319.6v23.3M928.5 319.4v29.1M927.5 329.6v27.3M927.5 346.9v31.1M928.5 312v28.3M929.5 286.8v20.3M929.5 303.1v27.9M928.5 369v41.5M928.5 306.9v29.3M928.5 298.6v28.1M929.5 356.1v34.6M928.5 339.5v22.1M929.5 314.9v26.4M928.5 339.4v23M929.5 325.3v28.4M929.5 324.4v23.4M929.5 356.1v29.8M928.5 277.1v31.4M929.5 365.3v31.5M930.5 319v29.1M930.5 322v20.9M929.5 341.4v26.2M929.5 353.4v22.4M930.5 346.6v20.8M930.5 275.1v34.4M930.5 320.6v26.8M931.5 303.2v27.9M930.5 328.8v27.5M930.5 352.2v25.1M930.5 304.3v27M930.5 288.5v23.4M930.5 323.2v20.6M931.5 332.8v29.3M931.5 321.2v28.1M931.5 336v27.9M931.5 325.4v29.6M932.5 357.9v29M931.5 366.1v28M931.5 345.9v23M932.5 387.6v57M931.5 293.7v28.2M932.5 345.5v25.2M932.5 317.7v28.5M931.5 349.8v26.8M931.5 345.1v24.2M932.5 355.4v27M932.5 351v24.4M931.5 359.8v23.8M931.5 376.2v34.7M932.5 336.2v27.5M932.5 325.3v23.6M932.5 283.9v28.5M934.5 319.6v29.3M933.5 348.5v20.8M934.5 328.5v22.5M934.5 340.1v21.7M933.5 310.3v25.4M933.5 366.6v31.6M934.5 400.9v54.3M935.5 359.6v29.1M934.5 351.9v30M934.5 317.5v27.9M934.5 371.2v29.4M934.5 341.3v21.3M934.5 295.5v23.3M935.5 360.3v32.8M934.5 337.7v24.5M935.5 303.8v25M934.5 350.5v25M934.5 338.2v27.1M935.5 373.2v39.9M934.5 301.5v27.6M934.5 364.4v34.6M935.5 324.4v26.1M935.5 344.8v21.5M935.5 368.2v32.9M934.5 338.8v24.7M935.5 394v55.7M935.5 379.8v41M935.5 397.8v48.3M935.5 372.8v42.5M935.5 378.7v45.5M935.5 393.2v57.6M936.5 291.3v28.8M936.5 373.8v46.1M938.5 343.7v29.4M937.5 337.3v28M938.5 326.4v24.5M937.5 376.2v41.8M937.5 378.4v48.6M938.5 356.8v30M939.5 322.3v24.8M938.5 364.7v32.9M938.5 366.6v29.2M938.5 343.1v29.3M939.5 342.2v23M938.5 365.5v23.9M939.5 360.7v23.9M938.5 396.8v50.3M938.5 330.4v26.8M939.5 339.6v27.5M939.5 312.2v21.7M939.5 341.5v21.7M939.5 367.9v34.1M939.5 347.1v23.1M940.5 349.9v23.9M940.5 343.6v26.6M940.5 329.3v22.6M940.5 332v22.5M940.5 353.5v25.3M940.5 373v30M940.5 342.7v24.2M940.5 303.1v28.4M940.5 353.3v20.2M942.5 372.2v37.3M941.5 317.7v24.5M941.5 385.3v33.1M941.5 319.6v26.2M942.5 348.3v28.3M941.5 323.1v20.7M942.5 317.6v22M942.5 328.5v25.7M942.5 323.8v29.5M942.5 326.3v20.8M943.5 331.7v28.2M943.5 328.5v28.8M943.5 358.3v20.3M943.5 335.2v27.6M944.5 324.4v23.3M943.5 329.4v24.2M943.5 330.9v27.5M943.5 385.4v46.4M943.5 321.3v20.9M944.5 343.2v23.5M944.5 333.5v24M943.5 360.9v30M943.5 361.7v21.3M944.5 342.6v26M944.5 342.2v28.7M943.5 322v25.3M943.5 367.7v34.2M944.5 368.3v25.5M943.5 345.3v20.9M943.5 347.8v27M945.5 356.5v25.3M945.5 340.3v27.9M945.5 354.4v23.7M945.5 345.8v22.9M946.5 347.6v21.4M945.5 326.5v26.6M946.5 402.9v51.7M945.5 416.5v53M947.5 369.3v36M947.5 321.8v27M946.5 358.1v22.8M946.5 362.2v23.6M946.5 364.1v22.4M946.5 342.3v22.5M946.5 324.2v28.3M946.5 405.3v62.6M947.5 346.7v26.2M947.5 329.8v29.8M947.5 369.5v29.5M947.5 372.1v25.7M947.5 341.9v29.1M947.5 394.6v50M948.5 314.5v23.6M948.5 360.4v31.3M948.5 341.3v27.4M948.5 369.3v25.3M948.5 322.9v20.8M948.5 343.9v28.3M948.5 339.1v27.2M948.5 372.2v30.5M949.5 356.5v25.7M950.5 311.3v29.2M949.5 365.9v32.4M950.5 351.7v25.4M950.5 355.1v21.2M949.5 348.9v28M949.5 362v31.9M949.5 373.8v44.5M949.5 412.6v55.2M950.5 356.5v20.1M950.5 326.6v29.8M950.5 338v23M950.5 330.5v20.7M950.5 360.4v28M950.5 382.8v32.5M950.5 306.4v34.4M950.5 382.5v43.5M951.5 384v32.8M951.5 342v20.1M951.5 379.5v32.8M951.5 328.8v22.7M950.5 341v27.2M951.5 335.4v21.5M951.5 376.4v32.8M951.5 381.2v48.6M952.5 318.6v28.6M952.5 378.7v32.7M952.5 328.1v22.3M951.5 335.7v28.6M952.5 319.8v23.6M953.5 318.3v24.3M953.5 378.2v37.2M953.5 327.3v26.9M953.5 327.5v28.2M953.5 370.1v35.5M953.5 374.4v37.4M953.5 335.1v27.5M953.5 325.4v28.5M953.5 341v23M954.5 343v29.4M953.5 337.8v26.2M953.5 368.2v31.7M953.5 363.2v31.6M954.5 383.2v45.6M953.5 387v49M954.5 333.6v28.9M954.5 375.6v28.9M954.5 347.5v29.3M954.5 330.3v23.7M954.5 337.5v22.1M954.5 344.8v28.1M956.5 330.4v28.1M956.5 379.5v34.4M956.5 373.1v28.5M955.5 354.4v29.8M956.5 321.7v29.3M956.5 329.4v25.6M956.5 323.6v21.5M956.5 355.8v20.8M956.5 344.9v28.9M956.5 384.4v39M957.5 359.9v25.4M958.5 343.8v20.9M957.5 336.6v22M957.5 344.5v25.8M957.5 326.2v22.6M958.5 348.1v23.5M957.5 362.4v29M957.5 328v21.8M958.5 366.8v33M958.5 348.5v29.7M958.5 337.1v23.6M957.5 335.1v25.7M958.5 359.5v26.7M958.5 358.1v29.4M958.5 344.9v21.6M957.5 362.6v28.2M958.5 342.4v27.1M957.5 384v32.5M958.5 347.4v25.1M959.5 365.6v28.9M959.5 367.8v21.3M958.5 341.6v27.2M959.5 324.9v28.5M959.5 408.6v51.6M959.5 368.1v24.6M960.5 374.2v26.7M959.5 366.4v28M959.5 357.6v20.3M960.5 366v27M961.5 342.4v22.1M961.5 312v29.6M961.5 358.6v24.7M960.5 349.2v28.8M960.5 339.1v20.4M961.5 347.6v22.7M961.5 313.8v23.6M962.5 346.1v24.1M962.5 357.2v22.4M962.5 370.3v26.4M961.5 353.6v21.1M962.5 352v23.9M962.5 330.5v22.1M961.5 363.7v23.3M963.5 355.2v26M963.5 335.2v22.7M963.5 331.2v28.7M963.5 351.2v20.9M962.5 363.7v31.2M963.5 351.1v29.6M962.5 361.9v26.3M963.5 329.4v20.8M963.5 348.8v28.7M963.5 353.6v24.3M963.5 382v39.8M964.5 364.6v31.5M964.5 322.2v25.4M964.5 331.5v21.6M964.5 377.7v33.6M964.5 311.9v29.8M964.5 330.3v25.1M964.5 375.9v30.4M964.5 380.8v34.9M965.5 353.5v22.5M965.5 358.1v27.4M965.5 318v23.6M965.5 353.1v23.1M965.5 371.1v31.1M965.5 395.4v50.3M966.5 362.3v27.6M966.5 363.9v21M965.5 319.4v21.9M966.5 331.1v29.9M966.5 342.7v28.5M966.5 359.7v20.8M967.5 338.1v23.5M967.5 341.7v23.9M967.5 376.7v28M967.5 380v35.9M967.5 377.3v24.9M967.5 333v26M967.5 328.6v27.9M967.5 314.2v27.9M967.5 326.6v25.2M968.5 328.8v24.3M968.5 350.1v23.4M968.5 318.4v24.4M967.5 335v26M968.5 334.6v24.8M968.5 309.2v21.6M968.5 360.9v24.2M967.5 396v42.6M541.5 122v66M929.5 15v84M949.5 91v86M962.5 116.5v72M960.5 198v38M963.5 230v74M627.5 74v44M630.5 93v50M655.5 65v44M625.5 388v40M631.5 389.4v56M729.5 172v30M716.5 26.8v24M715.5 36.4v24M725.5 34v32M690.5 45.6v36M728.5 138v24M709.5 130v24M708.5 146v24M700.5 141v24M693.5 145v26M743.5 173.5v28M750.5 162v48M794.5 22.3v60M794.5 77.5v50M766.5 47.5v44M744.5 34.3v36M781.5 71.5v40M790.5 77.5v38M835.5 8v44M813.5 326.4v50M813.5 315.4v88M802.5 311v58M615.5 318v26M619.5 320v28M624.5 311v24M624.5 320v26M628.5 326v28M627.5 333v26M627.5 339v28M629.5 342v30M636.5 324v26M639.5 318.4v28M637.5 333.4v56M585.5 336.4v36M548.5 376v28M557.5 369.6v28M658.5 232v20M665.5 232v28M662.5 250v30" fill="none" stroke="#000" stroke-width="1.39"/>
<!-- markers -->
<path d="M90.6 399.5h0M91.1 346.6h0M90.9 360.9h0M91.5 421.8h0M90.9 407.3h0M90.8 344.8h0M90.8 342.8h0M91.5 367.5h0M91.2 407.7h0M91.2 419.5h0M90.8 350.8h0M91.2 348.4h0M91.1 423.1h0M91.6 372.3h0M91.8 395.1h0M92.3 347.2h0M92.2 393.4h0M91.5 355h0M91.9 389.1h0M92.1 347.9h0M92.3 369.6h0M92.2 366h0M92.2 342h0M91.9 380.4h0M93.1 374.1h0M92.7 330.6h0M92.9 344.6h0M92.5 404.2h0M92.4 341.8h0M92.7 371.6h0M93.2 380.2h0M92.4 363.8h0M93 358.2h0M93 349.2h0M92.2 376.6h0M92.4 361.2h0M92.8 378.2h0M93.1 431h0M93.9 397.2h0M94.7 316h0M94.4 380.9h0M94.5 404.4h0M94.1 384.8h0M94 361h0M94.4 415.9h0M94.3 354.8h0M93.9 353.1h0M94.2 355.7h0M94.8 341.2h0M95 320.1h0M94.4 373.7h0M95 353.4h0M95.1 367h0M94.8 347.3h0M96.1 378.8h0M96.3 411.5h0M96 349.8h0M95.8 352h0M96.2 329.5h0M96.3 347.4h0M96.2 376.5h0M95.4 314.3h0M96 355.7h0M96 410.4h0M95.6 359.5h0M96.3 443.3h0M97 301.1h0M97.2 339.4h0M97.3 350.5h0M97.1 362.1h0M97.1 402.7h0M97.4 340.9h0M97.5 290.4h0M98.2 315.9h0M98.1 337.8h0M97.6 359.8h0M98.4 367.6h0M97.7 394.2h0M98.1 412.5h0M97.9 381.8h0M97.8 378.3h0M98.2 347.1h0M98 379.7h0M97.9 357.2h0M98.1 367h0M97.7 341h0M98.3 427.1h0M99.4 341.7h0M99.4 356.5h0M99.4 341.7h0M99.4 350h0M98.9 327.1h0M99.1 388.6h0M99.5 349.6h0M99.1 338.9h0M98.8 317.6h0M99.1 368.9h0M99.2 414.6h0M99.4 316.2h0M99.3 420h0M99 427h0M99.5 333.1h0M99.3 345.7h0M100 320h0M99.7 347.8h0M99.4 335.5h0M99.4 347h0M99.7 346h0M99.4 329.4h0M100.1 333.7h0M99.9 346.7h0M100 384.4h0M99.4 345.9h0M100.2 295.2h0M99.9 297.3h0M99.8 409.5h0M100.9 315.4h0M101.2 401.9h0M101.6 373.4h0M101.1 298h0M100.9 325.2h0M100.8 335.4h0M101 372.1h0M101.4 354.2h0M101.5 342.8h0M101.4 338.9h0M101.5 393.3h0M101.3 330h0M101.2 325.3h0M101.6 345.7h0M101.8 318.4h0M101.9 405h0M103.2 346.4h0M102.9 352.7h0M103.1 313.6h0M102.6 344.4h0M103 349.1h0M103.1 322.5h0M104.3 307.3h0M103.5 385.7h0M103.4 331h0M103.8 400.8h0M104.1 295.3h0M104.2 374.5h0M103.8 348.6h0M104.4 309.6h0M104.4 337.6h0M105.1 351.8h0M104.4 287.9h0M106.1 308.7h0M106.5 356.7h0M106.1 321.8h0M106.6 363.9h0M106.4 356.3h0M106.1 343.8h0M106 292.4h0M106.1 292.5h0M106.8 333.1h0M106.5 370.2h0M107.1 356.9h0M106.7 321.9h0M106.6 364.7h0M106.6 312.7h0M108.9 300.4h0M108.2 351.9h0M108.9 333h0M108 324.6h0M108.6 350h0M108.2 327.1h0M109.3 341.8h0M109.6 328h0M108.6 344.6h0M109.3 337.8h0M108.7 396.4h0M110.5 293.3h0M110.2 354.2h0M110 357.6h0M110.9 315.6h0M110.4 332.7h0M110.6 363.3h0M110.7 341.9h0M110.5 312h0M110 324.8h0M111.2 307h0M111.3 352.8h0M110.6 329.9h0M111.2 377.8h0M111.3 345h0M111.4 357.4h0M110.7 343.6h0M110.7 340.4h0M110.6 347h0M111.1 319.2h0M111.7 366.8h0M111.5 347.5h0M111.4 334.7h0M111.5 291.5h0M111.8 352.2h0M111.6 339.9h0M111.3 338.3h0M111.5 355.2h0M111.6 346.3h0M112.9 363.3h0M113.3 323.7h0M113.6 296.8h0M112.9 295.1h0M113 357.3h0M113.6 301.6h0M112.9 344.2h0M114.6 323.8h0M114.9 293.7h0M114.8 367.7h0M114 375.5h0M114.8 361.6h0M114.7 343.8h0M116.2 310.8h0M116.2 290.7h0M115.8 306.3h0M115.6 337.3h0M115.4 292.5h0M117.4 301.2h0M117.2 320.3h0M117.2 340.4h0M117 329.5h0M117.3 289.2h0M117.2 346.7h0M117.7 293h0M117.9 338.3h0M117.3 348.3h0M118 372.4h0M117.8 299.1h0M117.7 293.2h0M118.1 338.2h0M118.3 333.2h0M117.8 351.3h0M117.6 295.3h0M119.1 360.7h0M119.2 300.7h0M118.9 333.4h0M119.1 318.1h0M118.7 306.6h0M119 338.7h0M118.9 317.1h0M119.4 334.8h0M119.3 333.5h0M120.1 347h0M119.6 334.8h0M120 351.1h0M119.9 317.7h0M120 332.7h0M119.6 330.2h0M121 329.2h0M121.3 288.9h0M120.8 347.5h0M120.8 321.2h0M121 311.8h0M122.4 306.3h0M122.7 297h0M122.4 336.4h0M122.8 327h0M122.5 326.5h0M122.2 311.4h0M122.8 290.2h0M122.6 351.9h0M122.7 355.1h0M122.7 341.6h0M122.1 310.5h0M122.5 312.5h0M122.5 335.5h0M122.9 338.2h0M122.8 320h0M123.4 322.2h0M122.6 335h0M122.8 284.6h0M123.1 347.1h0M123.9 316.3h0M123.7 342.2h0M124 346.9h0M124.7 305.7h0M124.7 315.3h0M124.3 348.5h0M125 308.1h0M124.5 325.1h0M124.6 326.2h0M126 338.9h0M126.5 307.5h0M126.8 305.9h0M125.9 317.7h0M126.1 295.8h0M127.2 316.7h0M126.4 325.3h0M127.2 306.7h0M127.2 344.1h0M127.6 293.7h0M127.6 319.1h0M127.5 289.7h0M128.1 326.4h0M128.2 311.8h0M127.9 282.6h0M127.9 304.5h0M127.9 301.5h0M128.3 325h0M129.4 294.3h0M128.8 303.8h0M129.4 327.4h0M128.8 319.1h0M129.3 299.1h0M129.4 315.3h0M130.3 294.8h0M129.8 319.7h0M130.7 304.6h0M129.8 327.5h0M130.2 322.7h0M131.2 320.6h0M131.1 329.6h0M130.9 291.8h0M131.5 311.8h0M131.5 312.8h0M132.3 274.8h0M132.1 297.3h0M132 329.5h0M132.2 281.5h0M133.2 334.2h0M133.2 314.6h0M133.9 302.5h0M133.2 318h0M133.9 300.4h0M133 291.3h0M133.7 293.1h0M133.8 347.2h0M134.5 314.5h0M134.2 289h0M134 283.1h0M133.9 306.1h0M134.5 295.9h0M134.3 312.8h0M135.1 293.4h0M134.4 285h0M135.2 309.3h0M134.8 310.2h0M135 282.9h0M134.5 276.4h0M135 307.6h0M136.7 294h0M136.5 290.9h0M136.7 303.2h0M136.4 310h0M136.7 322.8h0M136.2 325.1h0M136.1 301.8h0M136.3 297.8h0M136.9 328h0M136.9 314.2h0M137.3 304h0M137.3 323.2h0M136.9 305.8h0M137.3 327.8h0M138.6 270.3h0M138.3 324.7h0M138 302.8h0M138.5 303.9h0M137.9 292.9h0M138.4 311.4h0M139.6 329.6h0M138.8 300h0M139.7 306.9h0M139.2 307h0M139.7 291.9h0M139.1 308.1h0M140 311.1h0M139.4 279.6h0M141.1 289.1h0M140.7 321.6h0M141.3 268.7h0M140.6 290.7h0M140.6 297.7h0M141 312.5h0M141.3 293.8h0M141.1 314.6h0M140.8 286.2h0M141.2 287.5h0M141.2 276.8h0M140.6 345h0M141.2 263h0M141.5 335.6h0M142 319.2h0M141.4 308.4h0M141.4 309.9h0M141.6 334.2h0M141.1 306.5h0M143.1 310.1h0M142.2 272h0M142.2 293.4h0M142.9 323.5h0M143 286.1h0M142.3 336.1h0M142.4 270.2h0M142.4 294.2h0M143.1 280.1h0M143 321.9h0M142.8 304h0M144.5 263.8h0M143.8 261.4h0M144.1 305.7h0M144.7 269.1h0M144.4 312.7h0M144.1 299.9h0M144 333.8h0M144.3 285.3h0M145.2 289.3h0M144.6 293.9h0M145.1 288.3h0M146.6 296.6h0M146.1 282.1h0M146.5 304h0M146.6 319.6h0M146.5 336.2h0M147 299.5h0M147.1 318.6h0M147.8 268.1h0M147 324.1h0M148.5 305.8h0M148.1 259.6h0M148.8 271h0M148.7 297.2h0M149 323.8h0M149 283.1h0M148.8 313.9h0M148.5 300.9h0M148.6 299h0M149.5 301.2h0M149 329h0M149.9 281.7h0M150 281.2h0M149.4 289.7h0M149.6 297.4h0M149.9 281.3h0M149.9 291.7h0M149.4 288.2h0M149.9 306.2h0M150.1 286h0M150.1 300.1h0M150.4 315.9h0M150.8 333.9h0M151.2 303.1h0M151.3 262.4h0M150.8 259.3h0M150.7 285.9h0M151.2 301h0M150.5 283.7h0M152.1 306.4h0M152 309.5h0M151.7 295.6h0M152.5 305.5h0M152.3 281.2h0M152.2 304.1h0M152.3 292.6h0M152.5 286.5h0M152.2 333.2h0M151.8 268.3h0M151.9 293.6h0M152.2 305.8h0M151.9 289.1h0M151.6 307.8h0M152.4 252h0M152.2 332.3h0M153.1 331.1h0M153.6 287.2h0M153.3 286.9h0M153.3 313.1h0M153.4 292.2h0M153.6 299.1h0M153.8 334.8h0M154 246.7h0M153.4 314h0M153.7 282.4h0M153.6 303h0M153.7 294.4h0M153.5 318.4h0M153.6 264.2h0M154.7 315.5h0M155 253.6h0M155 282.9h0M154.3 291.6h0M154.9 324.3h0M154.7 279.6h0M154.7 316.9h0M156 262.8h0M156.4 283.8h0M156.5 275.4h0M156.5 253.4h0M156 259.2h0M156.4 245.2h0M156.6 257.8h0M157.1 315.3h0M156.2 294.7h0M156.8 267.3h0M156.8 276.8h0M156.7 290.4h0M156.9 255h0M156.6 287.5h0M156.4 295.9h0M157 301.9h0M156.7 335.2h0M158.3 263.4h0M158.3 259.5h0M157.9 317.5h0M157.9 260.8h0M158.1 252.5h0M158.4 258h0M158.5 266.3h0M159.1 284.7h0M158.6 269.9h0M158.9 315.1h0M159 251.3h0M158.6 315h0M158.9 293.9h0M159.2 314.7h0M159.4 249h0M158.9 289.6h0M158.6 260.1h0M160.4 310.8h0M160.2 294.9h0M160.2 244.6h0M160.3 310.8h0M160.6 296.5h0M159.8 291h0M160.3 285.9h0M159.8 269.2h0M160 258.4h0M159.8 295.3h0M160.5 287.2h0M160.4 238.5h0M161.1 288.8h0M160.5 259.4h0M161.8 324.5h0M161.9 267.2h0M161.6 307.1h0M161.9 297.9h0M161.7 239.2h0M162.4 300.7h0M162.1 291.2h0M162.7 291.1h0M162.8 271.8h0M162.3 257.7h0M163 312.2h0M163.2 314.7h0M162.6 324.2h0M164.4 298h0M164 259.9h0M164.5 253.9h0M163.9 253h0M165.3 285.9h0M165.5 298.2h0M165.5 295.9h0M165 232.2h0M164.7 312.5h0M165.9 283.6h0M165.7 282.6h0M165.4 271.7h0M165.7 239.5h0M166 253.5h0M165.3 297.9h0M166.5 245.2h0M167.5 271.5h0M167.5 255.1h0M167.1 250.5h0M166.6 277.1h0M167 233.4h0M167.5 266.8h0M167.3 303.2h0M166.7 298.9h0M166.5 269.2h0M166.6 257.3h0M167.2 301.2h0M168.3 241h0M168.6 249.3h0M168.7 262.4h0M167.8 264.8h0M167.9 257.3h0M168.7 262.6h0M169.2 251.9h0M169.9 245.4h0M170.6 239.3h0M170.5 267.4h0M170.5 252.4h0M169.8 238.8h0M169.7 253.3h0M170.8 260.2h0M170.5 270.6h0M171.1 250.4h0M170.7 272.9h0M170.3 247.3h0M171 261.8h0M170.7 236.6h0M170.5 270.3h0M171 260.7h0M171.5 240.4h0M172 269.6h0M171.1 267.2h0M171.5 265.5h0M171.3 207.9h0M173.8 277.3h0M173.9 203.8h0M173.5 228.5h0M173.7 253.3h0M173.5 214h0M173.3 277.7h0M173.5 251.3h0M173.9 221.7h0M173.4 288.2h0M173.2 260.7h0M173.5 222.5h0M173.3 268.1h0M173.4 258h0M173.5 250.4h0M173.8 264.1h0M173.7 264.5h0M173.9 272.5h0M174.1 272.7h0M173.3 243h0M173.9 267.1h0M175.5 274.9h0M175.7 294.2h0M175.1 270.1h0M175.1 252.4h0M174.7 223.4h0M174.9 223.3h0M176.5 295.2h0M175.8 219.3h0M176.1 244.6h0M176.5 248.5h0M176.2 280.7h0M176.2 269.5h0M175.9 254.3h0M176.4 282.5h0M175.6 295.2h0M175.8 277h0M176.5 234.8h0M177.3 289.5h0M176.4 321.8h0M176.7 254h0M176.5 254.7h0M176.9 300.8h0M176.5 224.2h0M176.4 246.8h0M177.3 234.4h0M177.1 256.8h0M176.5 218.5h0M176.5 206.1h0M176.6 299.3h0M177.2 256.6h0M177.1 254.4h0M176.4 323.9h0M177.4 240.8h0M177.3 220.2h0M177.9 237.5h0M177.8 219.9h0M177.3 256h0M177.2 257.7h0M177.9 253.1h0M177.7 223.5h0M177.1 295.8h0M177.6 247.7h0M177.5 262.2h0M177.1 278.1h0M177.3 319h0M179.3 322.7h0M179.5 227.2h0M179 260.9h0M179.7 298.1h0M179.1 323.6h0M179.8 265.2h0M179.7 230.1h0M179.9 244.3h0M179.2 226.5h0M179 205.3h0M179.5 248.8h0M179.8 242.9h0M179.5 229.4h0M179.3 234.6h0M179.2 232.4h0M179.6 251.1h0M179.8 258.2h0M179.3 244.3h0M178.9 271.6h0M179.1 245.2h0M179.2 255.7h0M179.7 270.1h0M179 242h0M179.2 322.4h0M179.3 224.3h0M179.2 227.1h0M179.8 197.6h0M179.5 211.5h0M179.5 208.9h0M179.8 242.9h0M179.3 249.5h0M179.8 255.3h0M179.3 253.6h0M179.7 265.1h0M180 248.5h0M181.3 211.8h0M181 312h0M181.3 185h0M180.5 262.6h0M180.4 205.5h0M180.7 290.6h0M181.2 290.2h0M180.4 219.8h0M180.8 218.8h0M180.7 202.5h0M180.7 231.5h0M180.6 212.1h0M181.2 216.7h0M181 262.2h0M180.9 251h0M180.9 297.7h0M180.4 271.4h0M180.3 319.3h0M181.6 196.9h0M181.9 239.9h0M181.5 213.9h0M182.1 217.4h0M181.6 274.8h0M181.4 212.1h0M181.9 215.1h0M182 239h0M182.3 226.8h0M181.4 235.4h0M181.4 273.8h0M181.9 279.2h0M182.2 253.7h0M181.8 300.1h0M183.3 201.5h0M183.3 266.5h0M182.6 189.5h0M182.7 237.8h0M183.3 206.7h0M182.6 236.2h0M183.3 288.2h0M182.9 251.2h0M182.9 296.6h0M182.5 261.1h0M182.6 308.7h0M182.7 308.7h0M183 324.6h0M182.6 330h0M183.7 221.1h0M183.8 283.8h0M183.5 286.8h0M184.2 205.2h0M184.1 287.5h0M183.9 224h0M183.5 199.4h0M184.2 233.9h0M183.8 218.1h0M183.9 251.9h0M184.2 238.2h0M183.9 269h0M183.5 245.1h0M185.4 318.5h0M185.4 204.7h0M184.9 249.2h0M185.1 204.6h0M185.2 194.4h0M184.5 195.6h0M184.5 222.1h0M185 231.7h0M185.4 200.1h0M185.8 290.2h0M186.5 192.6h0M186 207.5h0M186.2 226.9h0M185.7 226.8h0M186.2 173.5h0M186 223.6h0M185.8 223.3h0M186 167.6h0M186.1 255.4h0M187.1 179.4h0M187.1 276.6h0M186.9 233.2h0M187.5 198.6h0M187 243.7h0M187.1 251.3h0M187.7 229.4h0M187.6 228.2h0M187.4 186.2h0M187.3 256.5h0M187.2 296.6h0M187.8 240.1h0M188.8 178.9h0M187.9 285.4h0M188.8 310.8h0M188.3 215.2h0M188.3 202.1h0M188.3 258.2h0M188.1 218.5h0M188.3 275.3h0M188.4 317.5h0M188.5 226.6h0M189 314.5h0M189.2 211.9h0M189 204h0M188.5 247.1h0M188.8 206.8h0M189.1 245.4h0M189.2 242.3h0M188.8 292.8h0M189.3 252.2h0M188.9 287.3h0M190.6 238.5h0M190.4 184.3h0M189.9 191.9h0M190.8 215.3h0M189.8 231.9h0M189.9 192h0M190.1 219.2h0M189.9 256.9h0M189.9 207.9h0M190 212.9h0M189.9 253.8h0M190.6 240.9h0M190.6 285.6h0M190.2 240.8h0M190.1 285.9h0M189.8 275.1h0M190.4 304.6h0M190.8 318.3h0M190.6 239.7h0M190.6 209h0M191.2 221.5h0M191 187.1h0M190.7 264.2h0M190.9 257.6h0M191.2 313.3h0M190.9 302.8h0M192.3 185.2h0M192.3 305.6h0M192.2 220.7h0M192.5 228.8h0M192.2 232.8h0M192.9 194.7h0M192 249.7h0M192.9 277.1h0M192.8 324.9h0M192.4 248.3h0M192.7 267.8h0M193 268h0M192.8 223.4h0M192.5 217.2h0M192.8 246.8h0M192.4 202.1h0M192.5 198.9h0M192.5 225.4h0M193 265.7h0M192.9 260.8h0M192.7 282.2h0M192.7 296.7h0M192.5 277.7h0M192.9 270.9h0M192.9 330h0M192.2 322.2h0M192.4 335.8h0M194.9 307.5h0M194.6 320.6h0M194.7 293.1h0M194 313.5h0M194.1 163.3h0M194.6 152.9h0M194.2 212.9h0M194.7 261.8h0M194.6 151.8h0M193.9 189.1h0M194 199.6h0M194.1 164.6h0M194.3 272.3h0M194.3 273.4h0M194 310.4h0M194.8 183.9h0M195.6 202.6h0M195.2 185.2h0M195.4 198.3h0M194.9 267.8h0M194.7 246.1h0M195 157.2h0M194.9 180.6h0M195.6 253.7h0M194.9 278h0M195 257.9h0M194.6 243.6h0M194.9 299h0M195.3 185.2h0M195.2 296.7h0M195.8 208.3h0M195.2 218.2h0M195.5 185.1h0M195.8 249.1h0M195.5 184.8h0M195.2 173.7h0M195.9 218.1h0M195.4 212.6h0M195.4 285.3h0M195.3 263.6h0M196 239h0M195.8 258.6h0M195.5 332h0M196 328.4h0M197 159.2h0M197.6 209.6h0M197 178.2h0M197.3 186.6h0M197.1 321.6h0M197.8 232.8h0M197.2 312.2h0M197.4 261h0M197.6 272.2h0M197.8 218.6h0M197.1 246.4h0M197.3 163.3h0M196.9 191.8h0M196.9 251h0M197.6 261.4h0M197.1 308h0M197.1 148.4h0M197.1 340.2h0M197.7 317.3h0M197.2 167.3h0M198 149.1h0M197.2 217.6h0M197.8 221.9h0M197.6 193.3h0M197.9 252.9h0M197.7 285.9h0M198 255.8h0M199.3 250.5h0M199.2 220.6h0M198.9 186.7h0M199.6 230.8h0M199.2 284.2h0M199.1 263.3h0M199.7 216h0M199.7 183.1h0M199.1 234.8h0M199.4 140.8h0M199.3 233.4h0M199.3 272.4h0M199.5 267.7h0M199.5 273.5h0M199.1 284.6h0M199 332.3h0M199.8 332.1h0M200.4 262.6h0M200.8 289.6h0M200.9 208.7h0M200.9 241.5h0M200.8 206.6h0M200.1 212.7h0M200.4 280.9h0M200.5 291.4h0M200.6 248.7h0M200.4 317h0M200.8 318h0M200.8 145.1h0M201 284.4h0M201.1 287.3h0M201.3 261.4h0M201 323.7h0M201 206.6h0M200.8 228.7h0M201.6 203.5h0M200.9 202.4h0M202 169.9h0M202.3 183.8h0M202 195.6h0M201.8 203.6h0M202 177h0M202.6 236.7h0M202 239.9h0M202.6 207.1h0M201.8 220h0M201.7 194.1h0M202.6 162h0M202.4 261.2h0M201.9 251.1h0M202.1 206.4h0M201.7 251.7h0M202.5 288.9h0M202.4 261.2h0M202.3 242.5h0M202.7 305.9h0M203.9 215.6h0M203.2 247.5h0M203.8 230.5h0M203.7 181.6h0M203.1 299.2h0M203.8 253.3h0M203.5 289.7h0M203.1 312.5h0M203 333h0M204.6 254.7h0M204.6 155.5h0M204.5 247.9h0M204.5 258.8h0M203.9 290.2h0M203.7 235h0M204.1 177.1h0M204.4 149.1h0M204.6 226.1h0M204.4 227.6h0M204 251.5h0M204.1 208.3h0M204.3 182.8h0M204.4 205.8h0M203.7 238.1h0M204.1 260.8h0M204.7 246.3h0M204.2 290.2h0M204.4 238.3h0M204 253.6h0M204.1 268.7h0M204.6 323.4h0M204.5 238.1h0M204.4 188h0M204.6 232.7h0M205 231.9h0M204.4 218.5h0M204.6 193.1h0M204.5 199.4h0M205.4 154.5h0M204.8 220.3h0M205 294h0M205.2 296.5h0M204.6 247.5h0M205.2 243.9h0M206.1 199.9h0M205.5 202.7h0M205.8 199.8h0M205.8 222.8h0M205.5 171.1h0M206.1 212h0M206.1 231.6h0M205.4 194.9h0M205.2 147.7h0M205.5 175.7h0M205.5 281.8h0M205.5 242.9h0M205.5 288.7h0M205.3 278.1h0M205.2 239.9h0M205.5 241.2h0M207 158.4h0M207 162.2h0M206.3 179.5h0M206.3 193.8h0M206.3 175.4h0M208.3 148.4h0M207.9 164.2h0M207.8 134.6h0M207.9 171h0M207.8 181.1h0M207.6 164.3h0M209.1 199.1h0M208.4 176.4h0M208.2 186.6h0M210.1 162.6h0M209.9 168.1h0M209.4 126.7h0M209.8 166.2h0M209.7 126.7h0M210.2 162h0M210 173.3h0M209.7 158.6h0M209.4 122.3h0M210.9 149.3h0M210.5 200.1h0M210.5 159.3h0M210.9 176.5h0M210.4 195.2h0M211 137.5h0M210.5 145.1h0M210.9 145.1h0M211 222.4h0M212.8 134.6h0M212.1 183.9h0M212.6 125.8h0M212.1 177.1h0M212.3 160.8h0M212.1 173.8h0M212 178h0M212.2 172.1h0M212.3 182.8h0M212.2 155.2h0M212.8 164.1h0M212.2 170.3h0M212.3 143.6h0M212.7 166.8h0M212.4 167.3h0M212.9 162.4h0M212.3 142.8h0M212.4 162.8h0M213 234.1h0M214.2 133.7h0M214.3 166.8h0M214.4 205h0M213.8 149.4h0M214.2 148.7h0M213.9 167h0M214.4 155.1h0M214.5 128h0M215.2 137.4h0M214.7 126.2h0M215.3 149.2h0M215.1 176.5h0M215 169.1h0M214.8 138.1h0M215.1 145.9h0M215.2 207.7h0M215.6 167.1h0M216.2 125.6h0M215.7 170.6h0M215.5 199.2h0M215.9 164h0M215.9 127.8h0M216.4 135.8h0M216 130h0M215.9 193.1h0M215.7 128.9h0M216.2 192.7h0M216.6 141.6h0M216.9 179.9h0M216.3 165.8h0M216.3 161.1h0M217 154.8h0M217 200.9h0M217.6 161.1h0M217.8 173.8h0M217.9 162.4h0M217.7 173.6h0M217.6 162.1h0M218.4 180.1h0M219.3 184h0M219.2 182.1h0M219 150.6h0M219.7 174.4h0M219 145.9h0M219.5 163h0M219.3 157.8h0M219.1 221.3h0M219.3 173.2h0M220 157h0M220 153.1h0M219.5 153.3h0M219.9 130.3h0M220 116.4h0M219.5 172.6h0M219.7 164.8h0M220.2 148h0M219.7 160h0M219.7 135.1h0M220.2 157.1h0M219.8 163.3h0M219.6 100.5h0M220.1 231.3h0M220.4 108.8h0M220.6 135.5h0M220.8 134h0M220.2 125.5h0M220.8 188.9h0M220.3 144.4h0M221 121.9h0M220.9 145.4h0M221.1 218.8h0M221.6 165.7h0M221.5 166.8h0M221.5 129.6h0M221.2 152.1h0M221.9 139.8h0M221.6 128.2h0M221.7 171.8h0M221.5 152.7h0M221.8 138.2h0M222.1 166.3h0M221.9 175.7h0M223.5 148h0M223 134.5h0M223.2 161.4h0M223.1 151.9h0M222.8 167.3h0M222.9 123.9h0M223.6 159.8h0M224.2 134.7h0M224.2 141h0M224.2 207.3h0M224.9 154.2h0M224.5 154.1h0M224.5 131.2h0M225.3 156.4h0M225.1 144.1h0M224.7 157.6h0M224.7 119.8h0M225.1 128h0M226.4 152.3h0M226.2 132.8h0M226.6 131.6h0M226 162.4h0M225.9 128.8h0M226.1 174.5h0M226.6 185.3h0M227.7 147.8h0M227.4 106.5h0M227.6 180.6h0M227.4 137.1h0M227.1 120.4h0M227.9 172.5h0M227.5 148.6h0M227.1 92.5h0M227 182h0M228.3 157h0M228.5 105.6h0M227.6 148.5h0M227.9 154.4h0M227.9 174.4h0M228 146.1h0M228.4 134.4h0M228.1 155.8h0M228 130.1h0M228.3 92.3h0M228.1 202.2h0M229.2 177.2h0M228.8 120.2h0M229.5 169.1h0M229.2 149.7h0M229 129.3h0M230 152.8h0M229.5 130.5h0M229.3 173.8h0M229.9 136.3h0M230 150.3h0M229.6 149.7h0M229.7 128.5h0M229.2 165.9h0M230.1 145.4h0M230.7 120.9h0M230.7 109.8h0M230.9 163.5h0M230.7 122.2h0M230.6 145.7h0M231.7 151.2h0M231.7 133.8h0M232 146.7h0M231.5 125.8h0M231.7 162.7h0M231.4 143.5h0M231.6 159.7h0M231.8 122.9h0M232.1 147.4h0M231.5 201h0M232.4 155.2h0M232.4 161.1h0M232.7 158h0M232.3 117.6h0M232.7 149.9h0M233.1 144.3h0M232.6 194h0M233.8 143h0M233.7 140.5h0M233.7 137.2h0M234.2 133h0M234.3 141.4h0M233.8 182.6h0M233.8 193.4h0M235.3 147.4h0M234.6 137.7h0M235.4 120.5h0M235.2 165h0M234.9 158.6h0M234.9 147h0M234.9 128.1h0M235.2 146.5h0M234.5 120.6h0M234.6 161.4h0M235.1 184.4h0M235.7 118.7h0M235.7 134.3h0M235.6 147.3h0M236.4 150.1h0M236.1 148.8h0M236.2 135.6h0M236.4 144h0M236.4 131.2h0M236.2 144.2h0M236.2 155.7h0M236.1 101.6h0M235.6 174.9h0M237.5 108.3h0M237.5 102.4h0M237.8 110.5h0M238.3 164.1h0M238.6 140.2h0M239.4 138h0M238.9 127.1h0M239.1 127.3h0M239.1 146.3h0M239 135.8h0M238.8 136.5h0M239.1 134.3h0M239.7 144.4h0M239.3 131.8h0M239.6 161.6h0M239.8 105.5h0M240 152.9h0M240 133.3h0M241 131.6h0M241.2 123h0M242.1 108.6h0M241.7 145.7h0M242.5 143.7h0M242.6 148.3h0M242.2 153.5h0M241.9 132.3h0M241.9 119.8h0M243.3 101.9h0M242.8 145.4h0M243 124.6h0M242.6 134.8h0M243.2 119.7h0M243.1 129.4h0M242.6 162.1h0M242.9 173.5h0M244.2 141.4h0M244 142.2h0M244 133.4h0M243.4 136.2h0M243.7 124.2h0M243.5 153.4h0M243.6 185h0M245.7 147.6h0M246.6 104h0M246.6 125.2h0M246.5 109.2h0M247.3 118.5h0M246.9 93.9h0M246.5 137.7h0M246.7 158.1h0M247.6 135.2h0M248 118.1h0M247.3 120.8h0M247.9 130.3h0M247.6 130.1h0M249.4 149.3h0M249 112.5h0M249.4 154.7h0M248.7 118.8h0M249.6 131.1h0M249.5 124.4h0M248.7 92.8h0M248.7 127.2h0M249 181.5h0M249.5 123.8h0M249.5 158.2h0M250.1 102.3h0M249.4 173.2h0M251.6 138h0M251.3 133.2h0M251.2 104.1h0M250.9 115.5h0M250.6 154h0M251.2 102.1h0M250.9 136.5h0M251.1 129.7h0M251.8 123.6h0M252 112.8h0M251.1 134.1h0M252 94.2h0M251.4 153.8h0M252.4 103.3h0M252.8 100.5h0M252.3 117h0M252.2 108.6h0M252.4 141.4h0M252.3 94.9h0M252.3 101.8h0M252.2 151.1h0M252.6 160.4h0M254.3 127.7h0M254.1 93.4h0M253.8 125.5h0M253.6 136.8h0M254 86.1h0M254.2 142.7h0M254.5 104.9h0M254.1 114.2h0M254 102.7h0M255 145.5h0M255 105.6h0M255 114.8h0M255.3 74.2h0M255.8 143.6h0M256.1 111.1h0M255.6 91.1h0M255.5 131.1h0M256.2 118.7h0M255.7 123.5h0M256.4 93.8h0M255.8 82.8h0M256.9 83.3h0M256.7 95.8h0M256.9 82.7h0M256.9 128.4h0M257.1 92h0M256.5 106.3h0M256.8 125.8h0M256.7 110.1h0M256.9 122h0M258.5 85.3h0M258.7 131.8h0M258.3 110.3h0M258 109.8h0M258.7 115.8h0M258.6 111.4h0M257.8 108.2h0M259.4 116h0M259.2 144.9h0M259.3 118.9h0M258.8 113.4h0M259.2 122.2h0M260.1 97.6h0M260 137.4h0M259.6 119.1h0M259.8 95h0M261.5 95h0M261 114.1h0M261 100.3h0M260.8 105.5h0M261.6 122.9h0M261.5 78.5h0M261.9 155.2h0M262.1 119.6h0M261.6 101h0M261.8 126h0M262 124.7h0M262.1 140.9h0M261.9 81.2h0M263.5 80.5h0M263.3 111.4h0M263.6 94.2h0M263.4 120.1h0M263.1 100.2h0M263.8 147.8h0M263.7 93.2h0M263.3 117.1h0M263.6 114.6h0M263.1 106.8h0M263.2 95.3h0M263.7 111.9h0M264.3 104h0M264.2 103.3h0M264.5 106.6h0M263.9 135.9h0M264.4 117.2h0M264.7 66.6h0M264.1 109.4h0M264.9 107h0M264.1 130.1h0M265 79.7h0M266.6 136.4h0M266.2 108.8h0M265.7 101.8h0M266.4 88.6h0M265.8 98.3h0M266 122.8h0M265.6 121.5h0M266.4 90.1h0M267 82.2h0M266.2 83.4h0M266.6 112.6h0M266.8 84.5h0M266.3 105.5h0M266.9 114.3h0M267 118.4h0M266.3 117.4h0M266.7 128.6h0M266.3 78h0M266.2 61.3h0M268.5 119.3h0M268.3 111.5h0M268.4 110.2h0M268.1 96.8h0M268.5 109.6h0M268.5 87h0M268.3 115h0M267.7 115.1h0M267.8 67.5h0M268.4 61.8h0M269.8 84.4h0M269.3 91.8h0M269.9 124.8h0M269.4 142.4h0M269.7 93.9h0M269.3 121.7h0M269.6 140.7h0M270.6 105.4h0M270.6 81.9h0M270.8 102.2h0M270.3 87.6h0M270.3 106.1h0M270.6 88.8h0M270.7 84h0M270.4 82h0M270.5 75.4h0M270.9 101.5h0M270.4 130.7h0M270.6 118.6h0M270.9 110.6h0M270.2 81.8h0M270.8 93h0M270.8 103h0M270.6 104.9h0M270.5 83.8h0M271.1 122.6h0M271.6 126.8h0M272.3 110.8h0M271.8 93.4h0M271.6 81.8h0M272.2 118.5h0M272.4 118.9h0M273.1 75.2h0M273.2 107.1h0M273.2 72.1h0M273.9 109.1h0M273.2 81.7h0M273.7 83.1h0M274.3 83.2h0M273.7 64.4h0M274.5 85.4h0M273.6 79h0M274.2 101.7h0M274 117.8h0M273.8 64.4h0M274.1 68h0M275.4 103.7h0M275.2 93.5h0M275.3 115.3h0M275.7 94.8h0M275.8 92h0M275.8 107.9h0M276 91.6h0M276.8 105.6h0M276.9 84.6h0M276.8 88.8h0M276.5 60.1h0M277.1 113.1h0M278.1 61h0M278.5 108.6h0M278.3 78.4h0M278.1 68.6h0M278.2 80h0M278.8 90.3h0M279.5 81.3h0M278.8 114.1h0M279 84.5h0M278.9 112.7h0M279.4 94.2h0M278.9 59.8h0M279.2 73.3h0M280.3 114.7h0M280 97h0M280 59.8h0M279.8 72.8h0M280.1 79.8h0M279.5 90.6h0M281.2 63.3h0M281.4 73.8h0M280.5 106h0M282.3 66.7h0M281.9 112.1h0M281.5 67.5h0M282.3 86.8h0M281.9 98.9h0M281.7 97.1h0M282.4 69.7h0M281.5 99.9h0M282.3 95.6h0M281.5 91.4h0M283 103.7h0M282.8 108.4h0M282.2 118.1h0M282.3 89.4h0M282.5 92.7h0M283.9 113.4h0M284.1 75.7h0M283.8 76.4h0M285 77h0M285.9 89.3h0M285.1 94.7h0M286.7 109.8h0M286.1 77.7h0M286.8 93h0M286 78.7h0M286.7 68.7h0M286.8 94.3h0M286.1 83.1h0M287.1 97.1h0M286.7 97.9h0M287 78.6h0M287.1 105.9h0M286.4 64.6h0M286.2 80.8h0M286.8 58h0M287.9 65.8h0M288.3 116.5h0M288.1 110.8h0M288 104.8h0M288.4 77.6h0M288.5 70.5h0M289 80.3h0M288.1 99.3h0M288.8 83.9h0M288.3 108h0M289 125.8h0M289 103.9h0M289.1 66.8h0M290.5 84h0M290.1 64.9h0M290.5 96h0M290.6 119.8h0M290.9 89.1h0M291 76.6h0M291.1 109h0M291.7 94.7h0M292.5 113h0M291.9 71.7h0M292.6 110.5h0M292.6 92h0M292.9 104h0M292.8 78h0M292.4 59h0M294 76.1h0M294.4 72.5h0M294.2 69.4h0M294.4 104.1h0M294.4 134.2h0M293.9 108.8h0M295.1 71.5h0M295.3 91.2h0M294.8 69.3h0M295.6 88.2h0M295.3 99.9h0M295.4 117.1h0M295.3 129h0M294.8 123.9h0M296.5 122h0M296.6 85.8h0M296.1 110.5h0M296.3 139h0M296.3 128.5h0M295.9 117.2h0M296.5 98.5h0M296.7 133.2h0M295.7 91.5h0M297.4 66.4h0M297.3 89.6h0M297 103.6h0M296.7 85h0M296.5 71.1h0M296.9 147.9h0M297.7 134.8h0M297.8 88.1h0M297.9 104.9h0M297.6 103.7h0M297.8 95.6h0M297.6 62.9h0M298.3 130.6h0M298.8 138.9h0M299 91.5h0M298.4 81h0M298.9 127.1h0M298.3 118.4h0M299.7 64.3h0M299.9 92.8h0M300.4 132.1h0M300 87.5h0M300.6 120.3h0M299.9 104.5h0M300.5 103.7h0M300.2 135.3h0M300 88.3h0M300.5 161.6h0M300.6 164.8h0M300.4 75.5h0M300.8 141.7h0M300.8 141.9h0M300.6 141.2h0M300.1 79.1h0M301 105.6h0M302.4 70.7h0M302.7 151.2h0M302.3 105.5h0M302.7 115.4h0M302.2 138.8h0M301.9 90.4h0M302 75.5h0M302.5 133h0M302.1 123.4h0M302.7 89.6h0M302.3 99h0M302.2 83h0M301.9 99.2h0M303.3 148.6h0M302.7 143.7h0M303.2 155.5h0M302.5 108.8h0M302.5 119.1h0M303.2 100.3h0M302.9 143.3h0M302.9 97.7h0M303.1 129.9h0M304.4 156h0M303.9 76.7h0M304.6 77.4h0M304.4 150.8h0M304.8 154.8h0M304.5 80.6h0M304.6 106.8h0M304.8 91.2h0M304.3 96.6h0M304.2 128.9h0M304 169.7h0M305.8 162.5h0M305.3 91.8h0M305 134.4h0M305.6 110.5h0M305.4 72.5h0M306.1 92.2h0M305.6 144.3h0M305.7 97.3h0M305.4 120.3h0M306.3 57.4h0M307.1 79h0M307.1 75.2h0M307.8 89.6h0M307.5 93h0M307.8 73.2h0M307.5 97.5h0M307.2 162h0M307.3 113.6h0M307.2 105.4h0M307.7 89.6h0M307.1 125h0M307.2 74.9h0M307.6 126h0M307.4 72.8h0M307.2 58.7h0M307.4 172.2h0M308.1 104.1h0M308.4 118.2h0M308.4 124.7h0M308.8 87.9h0M308.6 111.7h0M309.6 93.2h0M309.4 120.9h0M309.1 130.3h0M309.3 101.7h0M309.5 147.8h0M309.2 99.8h0M309.1 92.8h0M309.1 141.8h0M309.5 79.7h0M310.3 64.2h0M310.1 112.5h0M309.8 96h0M309.6 137.7h0M309.4 92.5h0M311.8 95.6h0M311.5 84.4h0M311.6 151.6h0M311.5 89.8h0M311.6 102.5h0M311.5 133.9h0M311.3 174.1h0M311.4 104.2h0M311.1 169.6h0M311.6 171.5h0M311.5 108.4h0M311.6 123.5h0M312.1 85.9h0M311.3 123.6h0M312 83.1h0M311.4 65.9h0M312.7 75.4h0M312.5 111.9h0M313 164.2h0M312.5 92h0M313 66.4h0M312.9 114.8h0M313.1 144.8h0M312.9 154.1h0M312.3 136.2h0M313 160.2h0M314.3 107.7h0M314 117.3h0M313.9 66.7h0M313.7 107.6h0M314.5 115.6h0M314 120.5h0M314.2 149.5h0M314.6 173.1h0M314.6 139.6h0M315 123.1h0M314.8 119.4h0M314.8 131h0M314.3 141.3h0M314.5 114h0M315.1 109h0M314.9 157.1h0M315.2 93h0M315.8 115.2h0M315.9 104.9h0M315.6 95.2h0M316.2 108h0M315.5 71.1h0M316.1 154.5h0M316 109.7h0M315.8 102.3h0M315.8 116.4h0M316 172.1h0M315.7 170.6h0M316.7 158.2h0M316.8 139.2h0M316.9 140.3h0M316.4 87.4h0M316.6 68.5h0M316.5 173.3h0M316.8 119.3h0M317 110.6h0M316.7 146.6h0M316.5 133.8h0M316.7 159.1h0M316.2 159h0M316.8 149h0M317.1 104.4h0M316.2 127h0M318.4 130.2h0M317.5 165.4h0M318.2 130.4h0M318.4 97.4h0M318 116.3h0M318.1 115.1h0M318.2 95.9h0M317.7 146.5h0M317.5 172.5h0M318.9 169.5h0M319.1 123.5h0M319 103.9h0M319 110.7h0M318.7 109.4h0M318.9 96.3h0M318.7 129.5h0M318.7 136.3h0M319.4 155.5h0M318.5 107.2h0M318.6 119h0M318.5 133.3h0M318.6 127.5h0M320.6 142.4h0M320.5 107.4h0M320 115.5h0M320.3 130.5h0M320.2 132.8h0M320.4 125.8h0M320.1 160h0M320 103h0M320.5 73.6h0M319.8 168h0M320.8 128.5h0M320.4 119.9h0M320.7 161.8h0M320.7 104.8h0M320.6 149.2h0M320.6 133h0M320.6 104.1h0M320.1 137.9h0M320.9 147.6h0M320.2 113.3h0M320.4 147.4h0M321.8 140.2h0M322.5 151h0M322.2 114h0M321.8 117.7h0M322.4 170.5h0M323.3 114h0M323.4 122.1h0M322.8 165.9h0M322.9 135.5h0M323.2 139.9h0M323.2 99h0M323 137.1h0M324.7 126.8h0M324.4 126.2h0M324.4 130.8h0M324.7 135.8h0M324 171h0M324.1 148h0M324.5 160.6h0M324.6 163.7h0M324.8 165.6h0M324.8 116.2h0M325.6 164.1h0M326.2 156.1h0M325.7 136.6h0M326.3 155.9h0M326.3 155.5h0M325.6 134.1h0M325.6 137.2h0M327.5 127.3h0M326.8 121.6h0M326.8 147.5h0M327 93.3h0M327.7 163.6h0M327.6 137.5h0M327.7 123.4h0M329 138.1h0M329.5 149.3h0M328.9 148.3h0M329.9 156.9h0M329.4 134.4h0M329.6 130.3h0M329.7 151.6h0M329.9 129.4h0M329.6 164.8h0M329.5 139.8h0M329.9 149.9h0M329.7 142.5h0M329.4 184.4h0M331.3 120.8h0M331.3 167.4h0M330.6 119.9h0M331.4 161.1h0M330.8 130.4h0M330.6 120h0M331 140.3h0M330.8 146.7h0M332.4 143.2h0M332.6 140.6h0M332.7 170.5h0M332.7 134.9h0M331.9 144.9h0M332.5 170.6h0M332 118.8h0M332.8 119.3h0M333.3 155.4h0M332.9 147.9h0M333.3 196.5h0M333.9 164.1h0M333.8 190.1h0M333.8 124.9h0M334.1 160h0M334 185.2h0M334.1 159.9h0M334 182.2h0M333.7 135.1h0M333.8 137.6h0M334.3 144.6h0M334.4 221.6h0M335.6 123.2h0M335.4 128.8h0M335.3 148.3h0M335.4 157.5h0M335.3 136.5h0M334.8 242.7h0M335.9 234.6h0M336.4 143h0M336 218h0M336 212.5h0M336.1 198.6h0M335.9 203.8h0M336.8 149.1h0M335.9 151.2h0M336.7 169.1h0M336.5 191.8h0M336.6 185h0M336.5 213.7h0M336.7 182.8h0M336.4 165.4h0M336.1 129.2h0M335.9 201.2h0M336.2 223.9h0M336.6 227.3h0M336.6 135.2h0M336.5 153.3h0M336.9 161.6h0M336.5 197h0M337 141.6h0M336.9 202.7h0M336.5 195.9h0M337 289.2h0M338.1 153.7h0M338.3 134.7h0M338.2 145.5h0M337.7 160.1h0M338.3 143.9h0M338.2 176.4h0M338.1 129.1h0M337.5 128.3h0M337.7 122.4h0M338.1 278.5h0M339.4 217.1h0M339.4 199.5h0M338.9 206.7h0M338.7 143.6h0M338.7 203.5h0M338.6 144.8h0M339.3 165.8h0M338.4 139.7h0M340.3 211.2h0M340.1 127.4h0M340 127.2h0M340.2 153h0M340.2 151.5h0M340.8 165.9h0M340 203.9h0M340.9 191.9h0M340.8 184h0M341.4 188.7h0M341 171h0M341.5 162.6h0M341.6 169.1h0M340.9 139.5h0M341.2 188.1h0M341.2 187.4h0M340.8 246.2h0M342.3 225h0M342 209h0M342 195.2h0M342.2 150h0M342.5 180h0M342.6 186.5h0M342 297h0M343.3 161.8h0M342.6 168.5h0M343.1 197.9h0M342.7 137.4h0M342.8 253.1h0M343.3 281.5h0M343.5 170.5h0M343.6 153.4h0M343.2 173.9h0M343.5 161.9h0M344 177.8h0M343.5 160.9h0M343.7 144.8h0M343.7 265.5h0M345.2 199.5h0M344.7 176h0M344.5 173.4h0M344.9 201.7h0M344.8 154.4h0M344.8 155.5h0M344.7 128.2h0M344.8 300.9h0M345.9 190.2h0M345.5 156.4h0M345.4 175.6h0M345.7 144.6h0M345.6 103h0M346.2 173.4h0M346.1 150.9h0M346.9 133h0M346.4 170.4h0M346.3 164.3h0M346.5 186.2h0M346.8 166.5h0M346.9 221h0M347.7 172.9h0M348.2 193.1h0M348.1 151.2h0M349.2 208.8h0M349 156.2h0M349.6 158.2h0M349.7 113.8h0M349.5 274.6h0M349.7 234.4h0M349.9 147.8h0M350 191.4h0M349.5 196.7h0M349.4 158.4h0M350.2 196.9h0M350.3 190h0M350.1 191.4h0M349.6 126.7h0M351.4 131.6h0M350.8 165.5h0M350.8 175.9h0M350.6 187.5h0M351.6 198.3h0M351.7 203.9h0M351.6 201.1h0M352 166.8h0M351.6 215.8h0M351.2 162.8h0M351.4 219.5h0M352.8 148.3h0M353.6 200.8h0M353 201.8h0M353.3 159.6h0M353.1 183.7h0M353.5 190.4h0M353 167.9h0M353.3 100.4h0M354.3 151h0M354.1 147h0M354.3 157.2h0M353.9 155.1h0M354.1 168.2h0M355 201.5h0M355.8 164.2h0M355.8 150.1h0M355.9 169.3h0M355.8 174.6h0M355.8 164.1h0M355.3 153.3h0M355.5 143.7h0M355.5 178.6h0M355.3 163.2h0M355.3 266.1h0M356.3 141.2h0M356.7 182.1h0M356.4 169.3h0M356.2 162.8h0M356.5 196.9h0M356 130.5h0M356.4 287h0M356.5 236.3h0M356.7 186.4h0M357.3 175.5h0M356.8 202.7h0M357.2 201.6h0M356.8 181.6h0M356.8 191.6h0M356.9 169.7h0M356.6 117.7h0M358.1 195.8h0M358.7 165.8h0M358.6 186h0M358.8 170.4h0M358.1 132.5h0M358.6 203.2h0M358 172.3h0M358 210.4h0M359.4 193.1h0M359.4 180.7h0M358.9 183.2h0M360 214.7h0M359.7 139.2h0M360.2 216.3h0M359.5 183.3h0M359.9 206.5h0M359.8 176.3h0M359.4 153h0M359.7 213.8h0M360 164h0M360.2 135.8h0M359.4 178h0M361.4 202.9h0M361.5 176.4h0M360.6 167.1h0M361.3 142.7h0M361 170.6h0M361.3 176.7h0M360.9 173.4h0M361 155.9h0M360.6 171.9h0M361.9 202.4h0M362 175.8h0M362.2 151.9h0M362.4 163.9h0M362 140.6h0M362 161.6h0M362.5 215.4h0M362.2 190.9h0M362.4 189.1h0M363 157.3h0M362.4 177.2h0M362.5 210.1h0M362.4 248.4h0M363 217.2h0M364.1 202.4h0M364.2 151.3h0M363.8 197.9h0M363.4 189.7h0M363.8 174.2h0M364.1 174.1h0M363.5 221h0M364.5 168.8h0M364.9 182.2h0M365.2 197.6h0M364.9 180.4h0M365.1 204.5h0M365.3 179.5h0M364.8 177.9h0M364.6 207.8h0M365.9 209.4h0M365.6 190.3h0M366 194.4h0M365.5 185.9h0M366 174.8h0M366 152.7h0M367.9 218.1h0M367.1 188.4h0M367.2 169.9h0M367.7 226.7h0M367.3 184.5h0M367.7 234.1h0M367.2 211.5h0M367.8 211.5h0M368.2 189.8h0M367.6 182h0M368.5 200.5h0M367.8 204.6h0M368.2 218.5h0M368.4 217.9h0M367.9 229.6h0M368.1 245.8h0M368.4 189.4h0M368.1 210.1h0M368.7 210h0M368.3 176h0M368.2 184.5h0M368.3 216.2h0M368.4 202.8h0M368.6 196.5h0M368.1 226h0M370.6 185.9h0M370.1 202.9h0M370 212.1h0M370.6 193.8h0M370.9 190.3h0M370.6 168.6h0M371.2 224.5h0M370.9 182.8h0M371 202.4h0M370.8 174.3h0M371.3 193.1h0M371.5 284.8h0M372.1 228.8h0M371.9 235.8h0M372.2 162.5h0M371.9 162.3h0M372.3 195.4h0M371.9 232.3h0M371.7 202.3h0M372.2 206.2h0M372.5 234.5h0M371.8 226h0M372.5 159.2h0M372.4 193h0M372.1 172.8h0M372.2 215h0M373.1 173.5h0M372.6 215.8h0M372.2 202.7h0M373 226.6h0M373 183.2h0M373 208.6h0M373.2 206.7h0M373 186.8h0M373 223.3h0M372.4 203.3h0M372.8 213.2h0M372.8 182.1h0M372.4 186.6h0M374.8 217.2h0M374.5 202.3h0M374.4 234.8h0M374 223.5h0M374.7 201.7h0M374.6 166.5h0M374.2 225.2h0M374.8 224.3h0M374.9 218.1h0M374.4 177.1h0M374.9 155h0M375.1 136.6h0M375.1 229.5h0M376.5 190.8h0M376.4 197.8h0M376.3 157.5h0M376.3 195.7h0M376.2 168.9h0M376.7 213.1h0M376.1 148.6h0M377.3 209.5h0M377 212.5h0M376.9 184.4h0M377.1 202.3h0M377.1 228.8h0M377.2 161.1h0M376.6 199.3h0M376.9 188h0M376.6 213.4h0M377.5 241.1h0M377.5 173h0M376.6 198.1h0M377.2 212.9h0M377.5 281.1h0M378.7 228.3h0M378 199h0M378.4 193.2h0M378.5 238.6h0M377.9 165h0M378.4 165.3h0M378.8 175.6h0M378.6 188.2h0M378.7 200.6h0M378.7 230.8h0M378.3 208.8h0M378.7 186.7h0M378.8 163.2h0M378.7 193.7h0M380.3 236h0M380.8 213.1h0M380.4 202.1h0M380.8 182.6h0M380.6 211.7h0M380.7 266.2h0M381.5 195.3h0M380.7 235.4h0M380.7 192.1h0M380.7 174.1h0M380.9 167.1h0M380.6 259h0M382.1 221h0M382.8 201.3h0M382.2 214.6h0M382 213.6h0M382.9 222.9h0M382.8 183h0M382.7 196h0M382.2 194.4h0M382.8 185h0M382.9 211.4h0M382.8 196.8h0M382.3 204.3h0M382.7 197.4h0M383 201.8h0M382.9 223.8h0M382.9 191.2h0M382.2 167.5h0M383.1 259.4h0M384.2 173.7h0M383.8 173.3h0M383.4 229.7h0M383.4 229.1h0M383.6 223h0M383.4 201.1h0M383.6 221.7h0M383.6 245.4h0M384 211.7h0M385 197.2h0M384.8 236.1h0M385 229.8h0M384.7 193.3h0M385.3 223.7h0M385.2 176h0M385.5 225.8h0M385.3 181.1h0M385.3 224.4h0M386.2 180.9h0M386.1 210.8h0M386.5 205.4h0M386.3 217.8h0M386.7 216h0M386.3 234.7h0M386.7 223.7h0M386 218.9h0M386.6 172.2h0M387.5 178h0M387.1 240.6h0M387 187.2h0M386.5 210.8h0M387.2 231.7h0M387.2 235.2h0M387.5 198.9h0M387.4 211.4h0M386.9 181.8h0M386.9 193h0M387.1 198.2h0M387 263.7h0M387.4 201.8h0M387.8 229h0M388 215.5h0M387.9 185.5h0M387.9 307.9h0M389.7 181.6h0M389 222h0M389.2 211.1h0M389.5 195.4h0M390.3 233.1h0M389.9 226.6h0M390.4 198.2h0M390.2 204.8h0M390 206.8h0M389.8 231.7h0M389.7 183.2h0M390.3 215.3h0M389.6 198h0M391.3 183.9h0M391.3 188.3h0M391.6 193.1h0M391 203.9h0M391.3 204.7h0M391 166h0M391.1 171.1h0M391.6 256.6h0M391.8 266.6h0M392.5 200.6h0M392.6 206.3h0M392.7 234.9h0M392 231.9h0M392.2 221.1h0M391.9 205.9h0M392.1 189.8h0M392.4 236.7h0M392.5 260.3h0M392.5 294.8h0M393.2 247.6h0M393.4 231.4h0M393.2 241.5h0M393.2 216.1h0M392.8 232h0M393.4 218.3h0M393.4 229.8h0M393.1 243.7h0M393.8 198h0M394.1 231.5h0M394.1 185.5h0M394 249.4h0M393.5 235.8h0M394.6 200.7h0M395.2 194.7h0M394.7 224.5h0M394.7 238.2h0M394.5 220.7h0M395.3 192.6h0M395.3 192.1h0M394.8 219.7h0M395.1 244.4h0M394.7 223.4h0M395.6 240.3h0M395.5 217.9h0M395.4 245.4h0M395.3 224.6h0M395.7 196.2h0M396.8 245.5h0M397.3 234.2h0M397.4 235.9h0M396.6 235.5h0M397 251.9h0M396.8 229.2h0M397.4 203.7h0M397.3 231.5h0M397.2 247.4h0M397.9 215.1h0M397.7 235.6h0M397.4 225.8h0M397.3 245.3h0M397.9 230h0M397.3 213h0M397.6 299.6h0M398.7 231.7h0M398.2 246.1h0M398.3 235.4h0M398.9 216.6h0M398.3 223.2h0M398.8 294.9h0M400.2 225.5h0M401.6 206.9h0M400.8 227h0M400.8 226.4h0M402 226.3h0M401.6 232.9h0M401.5 219.5h0M401.7 247.6h0M401.7 216.3h0M401.3 207.8h0M403.8 239.1h0M403.9 236.1h0M403.4 237.3h0M403.5 212.6h0M403.4 248h0M403.7 243.1h0M404.4 223.1h0M404.3 232.9h0M404.1 235.3h0M404.6 252.9h0M405.1 232.9h0M405 239.2h0M405.7 224h0M405.7 213.9h0M406.3 221h0M406.5 273.3h0M406.9 241.3h0M407.4 244.8h0M407 231.1h0M408.7 217.2h0M408.9 240.1h0M408.6 226.7h0M408.7 224.6h0M409.2 220.9h0M410 218.2h0M409.9 233.1h0M410.1 228.8h0M410.1 231.6h0M411.1 226.3h0M411 242.2h0M411.1 225.5h0M411.4 235h0M411.9 228.8h0M411.6 238.5h0M411.1 212.6h0M412.5 242.7h0M412.1 235.1h0M412.2 254.6h0M412.4 228.3h0M412.1 208.4h0M411.8 213.7h0M412.2 257.6h0M413 236.5h0M412.9 236.3h0M413.1 244.9h0M412.6 221h0M415.8 244.9h0M416.2 221.7h0M415.9 245h0M416.1 228.1h0M416.1 238.7h0M416 248.7h0M416.6 257.4h0M416.4 247.3h0M416.4 239.5h0M416.9 247h0M416.7 244h0M417 238.8h0M418.1 225h0M418.5 219.8h0M417.7 252.2h0M417.7 239h0M418.5 284.9h0M418.6 272.6h0M418.4 226.5h0M419 245.5h0M418.2 238.7h0M418.3 270.3h0M418.5 228.9h0M418.4 275.6h0M420.2 247h0M420 248h0M420 249.8h0M420 259.4h0M419.9 254.3h0M419.6 235.3h0M419.9 238.9h0M420.2 271.9h0M419.9 271.6h0M421.3 269h0M420.6 258.4h0M421.2 264.2h0M421.2 234.6h0M421.5 243.8h0M421.5 232.6h0M421.8 234.5h0M421.6 258.6h0M421.6 244.1h0M423.6 234.1h0M423.9 226.7h0M424 269.1h0M423.9 249.7h0M423.5 241.8h0M424.3 217.5h0M423.6 265.6h0M423.8 263.2h0M424.5 254h0M424.5 271.5h0M424 242.9h0M424.1 248.8h0M424.9 224.3h0M425.4 238.4h0M425 282.8h0M425.8 219.3h0M425.2 239.9h0M425.4 253.7h0M425.5 254.1h0M425.5 250.6h0M425.6 234.9h0M424.8 266.7h0M425.4 231h0M425.8 235.8h0M425.8 253h0M426.2 248.7h0M426 246.4h0M425.9 244.9h0M426.3 253.3h0M425.6 203.9h0M425.5 301.2h0M425.9 303h0M426.8 274.6h0M426.4 243.9h0M426.8 296.3h0M428.2 250.8h0M427.8 259.4h0M428.1 271.1h0M428 247.8h0M428.6 264.3h0M428.5 254.6h0M428.6 270.7h0M429.1 271.6h0M429.1 251.1h0M428.9 256.5h0M429.5 244.8h0M429.2 250.3h0M430.1 245.4h0M430 252.5h0M430 250.9h0M429.6 261.2h0M430.2 233h0M429.7 213.7h0M429.9 303.7h0M431.7 266.2h0M431.9 255.9h0M431 234.9h0M431.3 233.2h0M431.7 275.5h0M432.6 224.2h0M432 260.8h0M432.8 262h0M432.3 277.2h0M432.8 253.8h0M432.1 269.1h0M432.8 275.3h0M432.8 279.5h0M432.5 273.6h0M432.6 255.1h0M433.3 269.3h0M433 272.3h0M434.1 221.2h0M434.9 262.8h0M434.7 261.7h0M434.1 285.6h0M434.8 243.8h0M434.3 253.5h0M434.5 244.3h0M434.8 259.8h0M434.7 274.4h0M435.6 249.7h0M435.2 263.1h0M435.2 269.8h0M435.7 248.5h0M435.6 272.7h0M435.5 245.7h0M435.1 221.6h0M435.7 309.3h0M436.3 251.6h0M436.6 252.7h0M436.8 287.1h0M436.3 240.5h0M436.8 246.9h0M437.2 285.9h0M437.2 255.8h0M436.9 267h0M437.6 237.6h0M437.4 222.2h0M437.3 275.7h0M437.7 257.2h0M438.3 262.5h0M437.9 234h0M439.3 275.7h0M439.4 283.7h0M438.6 241.9h0M439.2 292.6h0M438.6 300.3h0M439.9 233.1h0M439.6 290.9h0M439.2 227.7h0M439.4 264.4h0M439.3 244.9h0M439.4 269.5h0M439.2 256.8h0M440.8 277.4h0M440.8 276.7h0M440 272.5h0M441 266.8h0M440.3 222.3h0M441 221.4h0M440.4 286.5h0M440.4 266.5h0M440.6 267.5h0M442.1 241.4h0M442.2 273.3h0M442.2 229.4h0M442.4 216.2h0M442 270h0M442.1 257.5h0M442.1 273.5h0M441.7 271.3h0M442.5 274.7h0M442.1 247.6h0M442.2 240.7h0M442.3 261.6h0M442.3 301.9h0M442.6 266.9h0M443.2 278.8h0M442.4 247.6h0M443.2 269.4h0M443.2 243.8h0M442.5 250.9h0M442.6 223.3h0M443.2 219.9h0M442.8 302.1h0M443.8 237.8h0M443.7 277.3h0M444 277.7h0M444.2 249.5h0M443.6 246.8h0M443.6 282.9h0M443.7 221.6h0M443.4 306.9h0M445.5 257.2h0M445.2 270.2h0M445.4 267.5h0M445.8 288.4h0M445.9 249.4h0M447 264.9h0M446.5 278.2h0M448.3 282.5h0M447.9 268h0M448.3 280h0M448.1 286.8h0M448.4 291h0M449.7 273.8h0M449.3 279.8h0M448.9 287.8h0M449 287.5h0M450 287.9h0M450.3 292.5h0M450.4 263.1h0M450.3 273.9h0M449.9 259.3h0M452.8 291.7h0M453.5 301.8h0M452.9 281.5h0M453.5 311.8h0M453.2 282.9h0M453.1 305.9h0M453.4 263.7h0M453.6 300.6h0M454.2 304.3h0M454.3 319.2h0M453.6 307.5h0M454.2 285h0M453.7 269.2h0M454.1 286.6h0M453.9 307.3h0M454.1 289.4h0M454.2 286.9h0M454.7 306.7h0M454.4 291.3h0M454.5 293h0M454.7 269.4h0M454.2 293.6h0M455.7 303.2h0M456.6 324.3h0M456.3 305h0M455.8 300.9h0M455.8 286.8h0M456.7 266.2h0M455.8 309.8h0M456 300.5h0M456.2 304.4h0M455.9 292.9h0M456 300.8h0M456.4 321.4h0M455.8 334.3h0M456.8 287.4h0M457.1 312.5h0M457.3 285.6h0M456.9 301.1h0M457.2 286.7h0M458.3 275.4h0M458.1 267.2h0M458 294.9h0M458.9 267.3h0M459.4 311.5h0M459 274.6h0M458.9 300.5h0M459.2 278.5h0M459.4 303.2h0M460.3 268.5h0M460.4 300.6h0M459.5 297.4h0M460.2 283.8h0M459.5 311.5h0M459.6 284.8h0M459.8 287.9h0M459.5 305.1h0M459.9 293.5h0M461.6 316.7h0M461.8 271.7h0M461.2 288h0M461.2 297.8h0M461.1 310.8h0M462.6 327.2h0M462.9 295h0M462.6 300.6h0M462.6 267.4h0M462.5 330.9h0M462.3 323.9h0M462.2 354.1h0M463.7 271.9h0M463.5 302.3h0M463.6 328h0M462.8 316.9h0M463.5 301.8h0M463.6 320.3h0M463.6 295.8h0M463.6 341.2h0M463.4 343.7h0M463.2 277h0M464 343.1h0M463.8 294.3h0M463.9 291.8h0M463.4 303.5h0M465 289.2h0M465 325.1h0M464.6 308.7h0M465.2 309.6h0M464.6 270.3h0M464.4 287h0M465.2 277.9h0M466.4 318.9h0M466.2 306.8h0M465.5 313.4h0M466 275.4h0M465.6 330.7h0M467.2 351.3h0M467.7 309.9h0M467.1 317.1h0M467.8 273.6h0M467.7 354.3h0M468.1 323.4h0M468.5 336.1h0M468 328.4h0M468.4 303.1h0M469.2 334.1h0M469.2 316.5h0M468.8 340.6h0M469.2 332.7h0M468.5 327.1h0M469 340.5h0M469.3 302.8h0M468.7 312.9h0M469.4 330.7h0M469.2 324.4h0M468.7 306.2h0M468.7 313.5h0M469.4 276.9h0M469.5 333.8h0M469.9 338.5h0M470.1 335.9h0M469.5 309.5h0M469.8 312.7h0M469.4 338.3h0M469.9 322.1h0M469.9 302h0M470.2 359h0M471.1 286.5h0M470.5 313.8h0M470.8 339.8h0M470.5 326.8h0M471.1 308.4h0M471.2 300.6h0M471.2 336.4h0M472.3 282.3h0M472.5 276.6h0M472.6 332.8h0M471.8 375.5h0M471.9 346h0M471.7 363h0M472.5 339.3h0M472.3 296.7h0M472.4 331.9h0M473 348.5h0M472.7 348.2h0M472.1 351.5h0M472.4 337.7h0M472.8 336.5h0M472.1 313.8h0M472.2 327.5h0M474.2 298.8h0M473.5 316.7h0M473.8 314h0M474.3 315.5h0M474.1 313h0M473.6 304.8h0M473.6 279.4h0M474.5 350.4h0M474.6 319.5h0M475.1 302.2h0M474.4 286.3h0M474.8 318.6h0M474.5 344.5h0M475.3 310.7h0M474.8 365.7h0M474.5 277.3h0M474.5 334.5h0M474.6 322.7h0M475.1 334.1h0M475 325h0M474.4 358.3h0M475.8 311h0M476.3 323.6h0M476 312.2h0M475.6 299.7h0M476.3 317.7h0M476.2 312.7h0M475.3 330.5h0M475.7 282.4h0M476.4 312.5h0M476.4 294.5h0M476.2 334.6h0M476 325h0M476.6 350h0M476.3 288.3h0M476.9 373.1h0M478.7 368h0M478.5 310.7h0M478.2 298.7h0M478 363h0M478.6 372.5h0M478.6 378.1h0M478.5 349.2h0M478.3 377.3h0M478.6 345.4h0M478.7 371.8h0M479.1 321.1h0M479.4 322.5h0M479 300.7h0M478.6 374.9h0M480.1 317.5h0M480 283.5h0M480.2 285h0M480.9 300.5h0M480.9 345.8h0M480.6 362.6h0M480.8 328.4h0M480.5 308.4h0M480.4 353.3h0M480.4 357.3h0M480.2 379.3h0M480.3 331.8h0M480.5 365.4h0M480.4 280.8h0M481 313.5h0M480.8 291.8h0M481.4 334.4h0M481.1 335.4h0M482.2 293.3h0M482 327.9h0M482 293.1h0M481.4 332.1h0M481.4 381.3h0M482 367.5h0M481.9 325.2h0M483.8 341.5h0M483.8 337.7h0M483.2 344.6h0M483.7 378.4h0M483.9 341.7h0M483.3 284.8h0M483.9 345.8h0M483.6 347h0M483.1 349.5h0M483.2 369.3h0M483.5 322.3h0M484.1 325.2h0M483.6 333.3h0M483.5 291h0M483.6 354.2h0M484.9 385.3h0M484.9 366.5h0M484.9 329.6h0M484.7 311h0M485 306.3h0M484.7 324.3h0M485.1 355.4h0M484.5 321.3h0M485 390h0M484.7 316h0M484.6 314.2h0M484.4 348.2h0M484.6 336.9h0M486 365.8h0M485.8 343.5h0M485.6 345h0M486.1 311.7h0M485.7 391.5h0M486.9 310.2h0M486.6 341.2h0M487.2 328.3h0M487.2 352.4h0M486.6 354.5h0M487 361.3h0M486.7 371.9h0M487.2 383.4h0M487.3 340.2h0M488.1 325.3h0M488.5 323.4h0M488.5 336.7h0M488.1 326.5h0M488.3 357.8h0M488.1 361.7h0M488.5 318.4h0M487.8 361.5h0M488.5 324.3h0M488.4 349.4h0M488.7 329.2h0M488 331.3h0M488.6 333.9h0M487.9 343.2h0M488 362.5h0M489.5 326.2h0M489.6 296.9h0M489.6 317.1h0M489.4 389.8h0M488.9 321.6h0M489.4 312.7h0M489.7 373.4h0M489 350.6h0M489.8 328.1h0M489.4 350.9h0M489.6 339.5h0M489.5 336.1h0M489.6 371h0M489.4 292.8h0M490 381h0M490.7 333.6h0M490.5 332.4h0M489.8 354.5h0M490.4 364.6h0M490.6 357h0M490.7 292.3h0M491.4 334h0M491.7 317.2h0M491.4 342.6h0M491.2 364.7h0M490.8 317.8h0M491.1 300.2h0M491.3 333.5h0M492.1 347.4h0M492.5 335.3h0M492.2 349.9h0M492.2 340.2h0M492.7 372.4h0M492 380.1h0M492 357.4h0M492.6 416.1h0M492.4 307.8h0M492.9 358.1h0M492.8 331.9h0M492.2 363.2h0M492.4 357.2h0M492.7 368.9h0M492.8 363.2h0M492.4 371.7h0M492.4 393.6h0M492.8 350h0M492.6 337.1h0M492.9 298.2h0M494.5 334.2h0M494.2 358.9h0M494.6 339.7h0M494.7 351h0M494.2 323h0M494.2 382.4h0M494.5 428.1h0M495.5 374.1h0M494.8 366.9h0M495.1 331.4h0M495 385.9h0M495 352h0M494.9 307.2h0M495.6 376.7h0M495.4 350h0M495.7 316.3h0M494.9 363h0M494.9 351.8h0M495.5 393.2h0M495.4 315.3h0M495.4 381.7h0M496 337.4h0M496 355.5h0M495.9 384.7h0M495.4 351.1h0M495.5 421.8h0M496.2 400.3h0M496 422h0M495.9 394h0M495.8 401.4h0M496.1 422h0M496.7 305.7h0M496.6 396.9h0M498.5 358.4h0M498.4 351.3h0M498.6 338.6h0M497.9 397.1h0M498.3 402.7h0M499 371.8h0M499.7 334.7h0M499.5 381.2h0M499.1 381.2h0M499.3 357.8h0M499.7 353.7h0M499.5 377.4h0M499.7 372.6h0M499.1 422h0M499.4 343.8h0M499.7 353.4h0M499.8 323h0M499.8 352.3h0M500.1 385h0M499.8 358.7h0M501 361.8h0M500.6 356.9h0M500.9 340.6h0M500.9 343.3h0M500.8 366.1h0M500.7 388h0M501 354.8h0M500.6 317.3h0M501.2 363.4h0M502.6 390.8h0M502.3 329.9h0M502.4 401.8h0M502.1 332.7h0M503.1 362.5h0M502.5 333.4h0M502.5 328.6h0M502.8 341.4h0M502.5 338.6h0M502.6 336.7h0M504.3 345.7h0M504.4 342.9h0M504.2 368.5h0M504.2 349.1h0M504.7 336h0M504.4 341.5h0M504.1 344.7h0M504.2 408.6h0M504.3 331.7h0M504.9 354.9h0M505 345.4h0M504.3 375.9h0M504.3 372.3h0M505 355.6h0M504.8 356.6h0M504.1 334.6h0M504.4 384.8h0M504.8 381h0M504.1 355.8h0M504.3 361.3h0M506.4 369.2h0M506.3 354.2h0M506.3 366.2h0M506.4 357.2h0M506.7 358.3h0M506.1 339.8h0M506.6 428.7h0M506.4 443h0M507.8 387.3h0M507.7 335.3h0M506.9 369.5h0M506.9 374h0M506.9 375.3h0M507.3 353.5h0M507 338.3h0M507.3 436.6h0M508.1 359.8h0M508.1 344.7h0M507.5 384.2h0M507.8 385h0M508 356.5h0M508 419.6h0M508.9 326.3h0M509 376.1h0M508.6 355h0M508.7 382h0M509.1 333.3h0M508.8 358.1h0M508.8 352.7h0M508.8 387.4h0M510.5 369.3h0M510.5 325.9h0M510.4 382.1h0M510.6 364.4h0M510.8 365.7h0M510.3 362.8h0M510.3 377.9h0M510.4 396.1h0M510.3 440.1h0M510.9 366.6h0M511.3 341.5h0M511 349.4h0M510.5 340.9h0M510.6 374.4h0M510.6 399h0M510.6 323.5h0M510.5 404.2h0M511.8 400.4h0M512 352h0M512 395.9h0M511.7 340.2h0M511.4 354.6h0M512.2 346.1h0M511.6 392.7h0M512.3 405.5h0M512.9 332.9h0M513.2 395.1h0M513 339.2h0M512.4 349.9h0M512.6 331.6h0M513.9 330.5h0M514 396.8h0M513.6 340.7h0M513.8 341.6h0M514.4 387.9h0M513.7 393.1h0M514.1 348.9h0M514.5 339.6h0M513.9 352.6h0M514.5 357.7h0M514.4 350.9h0M514.2 384h0M514.4 379h0M514.5 406.1h0M514.5 411.5h0M514.8 348.1h0M514.6 390.1h0M515.2 362.1h0M515 342.2h0M514.8 348.6h0M514.6 358.9h0M516.6 344.5h0M516.8 396.7h0M516.6 387.3h0M516.2 369.3h0M516.6 336.3h0M516.7 342.2h0M517.3 334.4h0M516.9 366.2h0M516.9 359.3h0M517.1 403.9h0M518.1 372.5h0M518.9 354.2h0M518.4 347.6h0M518.1 357.4h0M518.4 337.5h0M518.7 359.9h0M518 376.9h0M518.2 338.9h0M518.7 383.3h0M519 363.4h0M518.8 348.9h0M518.5 347.9h0M518.7 372.8h0M518.7 372.8h0M519 355.8h0M518.2 376.7h0M519 356h0M518.2 400.2h0M518.9 360h0M519.9 380.1h0M519.6 378.4h0M519.5 355.2h0M519.8 339.1h0M520 434.4h0M520.4 380.4h0M521 387.6h0M520.2 380.3h0M520.3 367.8h0M521 379.5h0M522 353.5h0M521.5 326.8h0M521.9 370.9h0M521.3 363.6h0M521.1 349.3h0M521.6 359h0M521.9 325.6h0M522.6 358.1h0M522.9 368.4h0M522.9 383.5h0M522.4 364.1h0M523 363.9h0M523 341.6h0M522.4 375.3h0M523.7 368.2h0M523.9 346.5h0M524.1 345.6h0M523.9 361.6h0M523.1 379.4h0M523.6 365.9h0M523.5 375h0M523.5 339.7h0M523.8 363.2h0M524.1 365.7h0M523.5 401.9h0M525 380.3h0M524.8 335h0M524.8 342.3h0M525.1 394.5h0M525.1 326.8h0M525.1 342.8h0M524.6 391.1h0M524.7 398.2h0M526.4 364.7h0M525.7 371.8h0M525.8 329.8h0M526.4 364.6h0M526.1 386.6h0M526.5 420.6h0M526.7 376.1h0M526.6 374.4h0M526.4 330.4h0M527.2 346.1h0M526.8 357h0M527.1 370.1h0M527.6 349.8h0M527.7 353.6h0M528 390.7h0M528.1 397.9h0M527.7 389.7h0M528.1 346h0M527.6 342.5h0M527.5 328.2h0M527.7 339.2h0M528.8 340.9h0M528.9 361.8h0M528.6 330.6h0M528.4 348h0M528.7 347h0M529.1 320h0M529 373h0M528.4 417.3h0M102.2 155h0M489.5 57h0M510 134h0M522.5 152.5h0M521.2 217h0M523.5 267h0M187.5 96h0M191.2 118h0M215.5 87h0M186.4 408h0M192.4 417.4h0M289.5 187h0M276.8 38.8h0M276.3 48.4h0M285.6 50h0M251.2 63.6h0M289 150h0M270 142h0M269 158h0M261 153h0M253.6 158h0M304 187.5h0M311 186h0M354.5 52.3h0M354.5 102.5h0M326.5 69.5h0M304.6 52.3h0M341.5 91.5h0M350.5 96.5h0M395.6 30h0M373.6 351.4h0M374.4 359.4h0M363.4 340h0M176 331h0M180.4 334h0M185 323h0M184.6 333h0M189 340h0M188 346h0M187.6 353h0M189.6 357h0M197 337h0M199.6 332.4h0M197.6 361.4h0M146.4 354.4h0M109 390h0M118.4 383.6h0M219 242h0M226 246h0M223 265h0M530.2 399.5h0M530.6 346.6h0M530.4 360.9h0M531.1 421.8h0M530.4 407.3h0M530.3 344.8h0M530.3 342.8h0M531 367.5h0M530.7 407.7h0M530.7 419.5h0M530.3 350.8h0M530.7 348.4h0M530.6 423.1h0M531.1 372.3h0M531.3 395.1h0M531.8 347.2h0M531.7 393.4h0M531 355h0M531.4 389.1h0M531.6 347.9h0M531.8 369.6h0M531.7 366h0M531.7 342h0M531.4 380.4h0M532.7 374.1h0M532.2 330.6h0M532.4 344.6h0M532.1 404.2h0M531.9 341.8h0M532.2 371.6h0M532.7 380.2h0M531.9 363.8h0M532.5 358.2h0M532.5 349.2h0M531.8 376.6h0M532 361.2h0M532.3 378.2h0M532.7 431h0M533.4 397.2h0M534.2 316h0M533.9 380.9h0M534 404.4h0M533.7 384.8h0M533.5 361h0M533.9 415.9h0M533.8 354.8h0M533.5 353.1h0M533.7 355.7h0M534.3 341.2h0M534.5 320.1h0M534 373.7h0M534.5 353.4h0M534.6 367h0M534.3 347.3h0M535.6 378.8h0M535.8 411.5h0M535.6 349.8h0M535.3 352h0M535.7 329.5h0M535.8 347.4h0M535.7 376.5h0M534.9 314.3h0M535.5 355.7h0M535.6 410.4h0M535.1 359.5h0M535.8 443.3h0M536.6 301.1h0M536.7 339.4h0M536.8 350.5h0M536.6 362.1h0M536.7 402.7h0M536.9 340.9h0M537 290.4h0M537.7 315.9h0M537.6 337.8h0M537.1 359.8h0M538 367.6h0M537.3 394.2h0M537.6 412.5h0M537.4 381.8h0M537.3 378.3h0M537.7 347.1h0M537.5 379.7h0M537.4 357.2h0M537.6 367h0M537.2 341h0M537.8 427.1h0M538.9 341.7h0M538.9 356.5h0M539 341.7h0M538.9 350h0M538.4 327.1h0M538.6 388.6h0M539 349.6h0M538.6 338.9h0M538.3 317.6h0M538.6 368.9h0M538.7 414.6h0M538.9 316.2h0M538.8 420h0M538.5 427h0M539.1 333.1h0M538.8 345.7h0M539.5 320h0M539.2 347.8h0M539 335.5h0M539 347h0M539.2 346h0M539 329.4h0M539.6 333.7h0M539.4 346.7h0M539.6 384.4h0M538.9 345.9h0M539.7 295.2h0M539.5 297.3h0M539.3 409.5h0M540.4 315.4h0M540.7 401.9h0M541.1 373.4h0M540.6 298h0M540.4 325.2h0M540.3 335.4h0M540.5 372.1h0M540.9 354.2h0M541 342.8h0M541 338.9h0M541 393.3h0M540.8 330h0M540.8 325.3h0M541.1 345.7h0M541.4 318.4h0M541.4 405h0M542.7 346.4h0M542.5 352.7h0M542.6 313.6h0M542.1 344.4h0M542.5 349.1h0M542.6 322.5h0M543.8 307.3h0M543.1 385.7h0M542.9 331h0M543.3 400.8h0M543.6 295.3h0M543.7 374.5h0M543.3 348.6h0M544 309.6h0M543.9 337.6h0M544.6 351.8h0M543.9 287.9h0M545.6 308.7h0M546 356.7h0M545.6 321.8h0M546.1 363.9h0M545.9 356.3h0M545.6 343.8h0M545.5 292.4h0M545.6 292.5h0M546.3 333.1h0M546.1 370.2h0M546.6 356.9h0M546.2 321.9h0M546.1 364.7h0M546.2 312.7h0M548.5 300.4h0M547.7 351.9h0M548.4 333h0M547.5 324.6h0M548.1 350h0M547.7 327.1h0M548.8 341.8h0M549.1 328h0M548.2 344.6h0M548.8 337.8h0M548.2 396.4h0M550 293.3h0M549.7 354.2h0M549.6 357.6h0M550.4 315.6h0M549.9 332.7h0M550.1 363.3h0M550.2 341.9h0M550 312h0M549.6 324.8h0M550.7 307h0M550.9 352.8h0M550.1 329.9h0M550.7 377.8h0M550.9 345h0M550.9 357.4h0M550.3 343.6h0M550.2 340.4h0M550.1 347h0M550.6 319.2h0M551.2 366.8h0M551 347.5h0M550.9 334.7h0M551 291.5h0M551.3 352.2h0M551.2 339.9h0M550.8 338.3h0M551 355.2h0M551.1 346.3h0M552.4 363.3h0M552.9 323.7h0M553.1 296.8h0M552.5 295.1h0M552.5 357.3h0M553.1 301.6h0M552.5 344.2h0M554.2 323.8h0M554.4 293.7h0M554.3 367.7h0M553.5 375.5h0M554.3 361.6h0M554.2 343.8h0M555.8 310.8h0M555.7 290.7h0M555.3 306.3h0M555.1 337.3h0M554.9 292.5h0M557 301.2h0M556.7 320.3h0M556.7 340.4h0M556.6 329.5h0M556.8 289.2h0M556.7 346.7h0M557.2 293h0M557.5 338.3h0M556.8 348.3h0M557.5 372.4h0M557.4 299.1h0M557.2 293.2h0M557.6 338.2h0M557.8 333.2h0M557.3 351.3h0M557.1 295.3h0M558.6 360.7h0M558.7 300.7h0M558.5 333.4h0M558.6 318.1h0M558.2 306.6h0M558.5 338.7h0M558.4 317.1h0M558.9 334.8h0M558.8 333.5h0M559.6 347h0M559.1 334.8h0M559.5 351.1h0M559.4 317.7h0M559.6 332.7h0M559.1 330.2h0M560.6 329.2h0M560.8 288.9h0M560.3 347.5h0M560.3 321.2h0M560.5 311.8h0M561.9 306.3h0M562.3 297h0M561.9 336.4h0M562.3 327h0M562 326.5h0M561.7 311.4h0M562.3 290.2h0M562.2 351.9h0M562.3 355.1h0M562.2 341.6h0M561.7 310.5h0M562 312.5h0M562 335.5h0M562.5 338.2h0M562.3 320h0M562.9 322.2h0M562.1 335h0M562.3 284.6h0M562.7 347.1h0M563.4 316.3h0M563.2 342.2h0M563.5 346.9h0M564.2 305.7h0M564.2 315.3h0M563.9 348.5h0M564.5 308.1h0M564.1 325.1h0M564.1 326.2h0M565.5 338.9h0M566 307.5h0M566.4 305.9h0M565.5 317.7h0M565.6 295.8h0M566.7 316.7h0M565.9 325.3h0M566.7 306.7h0M566.7 344.1h0M567.1 293.7h0M567.1 319.1h0M567 289.7h0M567.6 326.4h0M567.8 311.8h0M567.4 282.6h0M567.4 304.5h0M567.4 301.5h0M567.8 325h0M568.9 294.3h0M568.4 303.8h0M568.9 327.4h0M568.4 319.1h0M568.8 299.1h0M568.9 315.3h0M569.8 294.8h0M569.3 319.7h0M570.2 304.6h0M569.3 327.5h0M569.7 322.7h0M570.7 320.6h0M570.6 329.6h0M570.5 291.8h0M571 311.8h0M571.1 312.8h0M571.8 274.8h0M571.6 297.3h0M571.6 329.5h0M571.7 281.5h0M572.7 334.2h0M572.7 314.6h0M573.4 302.5h0M572.7 318h0M573.5 300.4h0M572.5 291.3h0M573.2 293.1h0M573.3 347.2h0M574 314.5h0M573.7 289h0M573.5 283.1h0M573.4 306.1h0M574 295.9h0M573.8 312.8h0M574.6 293.4h0M573.9 285h0M574.7 309.3h0M574.3 310.2h0M574.5 282.9h0M574 276.4h0M574.5 307.6h0M576.3 294h0M576 290.9h0M576.2 303.2h0M575.9 310h0M576.3 322.8h0M575.7 325.1h0M575.6 301.8h0M575.8 297.8h0M576.4 328h0M576.4 314.2h0M576.8 304h0M576.8 323.2h0M576.5 305.8h0M576.8 327.8h0M578.1 270.3h0M577.8 324.7h0M577.5 302.8h0M578.1 303.9h0M577.4 292.9h0M577.9 311.4h0M579.1 329.6h0M578.3 300h0M579.2 306.9h0M578.7 307h0M579.3 291.9h0M578.6 308.1h0M579.5 311.1h0M578.9 279.6h0M580.6 289.1h0M580.2 321.6h0M580.8 268.7h0M580.1 290.7h0M580.1 297.7h0M580.5 312.5h0M580.8 293.8h0M580.6 314.6h0M580.3 286.2h0M580.7 287.5h0M580.7 276.8h0M580.1 345h0M580.7 263h0M581 335.6h0M581.5 319.2h0M581 308.4h0M580.9 309.9h0M581.1 334.2h0M580.7 306.5h0M582.6 310.1h0M581.7 272h0M581.7 293.4h0M582.4 323.5h0M582.5 286.1h0M581.8 336.1h0M581.9 270.2h0M581.9 294.2h0M582.6 280.1h0M582.5 321.9h0M582.3 304h0M584 263.8h0M583.3 261.4h0M583.6 305.7h0M584.2 269.1h0M584 312.7h0M583.6 299.9h0M583.5 333.8h0M583.8 285.3h0M584.7 289.3h0M584.2 293.9h0M584.6 288.3h0M586.1 296.6h0M585.7 282.1h0M586 304h0M586.2 319.6h0M586 336.2h0M586.6 299.5h0M586.7 318.6h0M587.3 268.1h0M586.5 324.1h0M588 305.8h0M587.6 259.6h0M588.3 271h0M588.2 297.2h0M588.5 323.8h0M588.5 283.1h0M588.3 313.9h0M588 300.9h0M588.2 299h0M589 301.2h0M588.5 329h0M589.4 281.7h0M589.5 281.2h0M588.9 289.7h0M589.1 297.4h0M589.5 281.3h0M589.4 291.7h0M589 288.2h0M589.4 306.2h0M589.7 286h0M589.7 300.1h0M589.9 315.9h0M590.3 333.9h0M590.8 303.1h0M590.8 262.4h0M590.4 259.3h0M590.2 285.9h0M590.7 301h0M590 283.7h0M591.6 306.4h0M591.5 309.5h0M591.2 295.6h0M592 305.5h0M591.9 281.2h0M591.7 304.1h0M591.8 292.6h0M592 286.5h0M591.7 333.2h0M591.3 268.3h0M591.5 293.6h0M591.7 305.8h0M591.4 289.1h0M591.1 307.8h0M591.9 252h0M591.7 332.3h0M592.7 331.1h0M593.1 287.2h0M592.9 286.9h0M592.8 313.1h0M593 292.2h0M593.1 299.1h0M593.3 334.8h0M593.5 246.7h0M592.9 314h0M593.2 282.4h0M593.1 303h0M593.3 294.4h0M593 318.4h0M593.1 264.2h0M594.2 315.5h0M594.5 253.6h0M594.5 282.9h0M593.8 291.6h0M594.5 324.3h0M594.2 279.6h0M594.2 316.9h0M595.5 262.8h0M596 283.8h0M596 275.4h0M596 253.4h0M595.6 259.2h0M595.9 245.2h0M596.1 257.8h0M596.6 315.3h0M595.8 294.7h0M596.3 267.3h0M596.3 276.8h0M596.2 290.4h0M596.4 255h0M596.1 287.5h0M595.9 295.9h0M596.5 301.9h0M596.2 335.2h0M597.8 263.4h0M597.8 259.5h0M597.5 317.5h0M597.4 260.8h0M597.6 252.5h0M597.9 258h0M598 266.3h0M598.7 284.7h0M598.2 269.9h0M598.4 315.1h0M598.6 251.3h0M598.1 315h0M598.4 293.9h0M598.8 314.7h0M598.9 249h0M598.4 289.6h0M598.1 260.1h0M599.9 310.8h0M599.7 294.9h0M599.8 244.6h0M599.8 310.8h0M600.2 296.5h0M599.3 291h0M599.8 285.9h0M599.3 269.2h0M599.6 258.4h0M599.3 295.3h0M600 287.2h0M599.9 238.5h0M600.6 288.8h0M600 259.4h0M601.4 324.5h0M601.4 267.2h0M601.1 307.1h0M601.4 297.9h0M601.2 239.2h0M601.9 300.7h0M601.6 291.2h0M602.2 291.1h0M602.3 271.8h0M601.8 257.7h0M602.5 312.2h0M602.8 314.7h0M602.1 324.2h0M603.9 298h0M603.5 259.9h0M604.1 253.9h0M603.5 253h0M604.8 285.9h0M605.1 298.2h0M605 295.9h0M604.5 232.2h0M604.2 312.5h0M605.4 283.6h0M605.2 282.6h0M604.9 271.7h0M605.3 239.5h0M605.5 253.5h0M604.8 297.9h0M606.1 245.2h0M607 271.5h0M607 255.1h0M606.6 250.5h0M606.2 277.1h0M606.5 233.4h0M607 266.8h0M606.8 303.2h0M606.3 298.9h0M606.1 269.2h0M606.1 257.3h0M606.8 301.2h0M607.8 241h0M608.1 249.3h0M608.2 262.4h0M607.3 264.8h0M607.4 257.3h0M608.2 262.6h0M608.7 251.9h0M609.4 245.4h0M610.1 239.3h0M610 267.4h0M610 252.4h0M609.3 238.8h0M609.2 253.3h0M610.3 260.2h0M610.1 270.6h0M610.6 250.4h0M610.2 272.9h0M609.8 247.3h0M610.6 261.8h0M610.2 236.6h0M610 270.3h0M610.5 260.7h0M611 240.4h0M611.5 269.6h0M610.6 267.2h0M611 265.5h0M610.8 207.9h0M613.3 277.3h0M613.4 203.8h0M613 228.5h0M613.3 253.3h0M613 214h0M612.8 277.7h0M613 251.3h0M613.5 221.7h0M612.9 288.2h0M612.7 260.7h0M613 222.5h0M612.8 268.1h0M612.9 258h0M613.1 250.4h0M613.3 264.1h0M613.3 264.5h0M613.4 272.5h0M613.6 272.7h0M612.9 243h0M613.4 267.1h0M615 274.9h0M615.2 294.2h0M614.6 270.1h0M614.6 252.4h0M614.3 223.4h0M614.4 223.3h0M616 295.2h0M615.3 219.3h0M615.6 244.6h0M616 248.5h0M615.8 280.7h0M615.7 269.5h0M615.5 254.3h0M615.9 282.5h0M615.1 295.2h0M615.3 277h0M616.1 234.8h0M616.8 289.5h0M615.9 321.8h0M616.2 254h0M616 254.7h0M616.4 300.8h0M616 224.2h0M615.9 246.8h0M616.8 234.4h0M616.6 256.8h0M616 218.5h0M616 206.1h0M616.1 299.3h0M616.7 256.6h0M616.6 254.4h0M615.9 323.9h0M616.9 240.8h0M616.9 220.2h0M617.4 237.5h0M617.4 219.9h0M616.8 256h0M616.8 257.7h0M617.4 253.1h0M617.2 223.5h0M616.6 295.8h0M617.1 247.7h0M617 262.2h0M616.6 278.1h0M616.8 319h0M618.8 322.7h0M619 227.2h0M618.6 260.9h0M619.2 298.1h0M618.7 323.6h0M619.3 265.2h0M619.2 230.1h0M619.4 244.3h0M618.7 226.5h0M618.5 205.3h0M619.1 248.8h0M619.3 242.9h0M619 229.4h0M618.8 234.6h0M618.7 232.4h0M619.1 251.1h0M619.3 258.2h0M618.8 244.3h0M618.5 271.6h0M618.6 245.2h0M618.7 255.7h0M619.2 270.1h0M618.5 242h0M618.7 322.4h0M618.8 224.3h0M618.7 227.1h0M619.3 197.6h0M619 211.5h0M619.1 208.9h0M619.3 242.9h0M618.8 249.5h0M619.4 255.3h0M618.9 253.6h0M619.2 265.1h0M619.5 248.5h0M620.8 211.8h0M620.5 312h0M620.8 185h0M620 262.6h0M619.9 205.5h0M620.2 290.6h0M620.7 290.2h0M619.9 219.8h0M620.3 218.8h0M620.3 202.5h0M620.3 231.5h0M620.1 212.1h0M620.7 216.7h0M620.5 262.2h0M620.4 251h0M620.4 297.7h0M619.9 271.4h0M619.9 319.3h0M621.2 196.9h0M621.4 239.9h0M621 213.9h0M621.6 217.4h0M621.1 274.8h0M621 212.1h0M621.4 215.1h0M621.5 239h0M621.9 226.8h0M620.9 235.4h0M620.9 273.8h0M621.4 279.2h0M621.8 253.7h0M621.3 300.1h0M622.9 201.5h0M622.8 266.5h0M622.1 189.5h0M622.3 237.8h0M622.9 206.7h0M622.1 236.2h0M622.8 288.2h0M622.4 251.2h0M622.5 296.6h0M622 261.1h0M622.2 308.7h0M622.2 308.7h0M622.6 324.6h0M622.1 330h0M623.2 221.1h0M623.3 283.8h0M623 286.8h0M623.7 205.2h0M623.6 287.5h0M623.4 224h0M623 199.4h0M623.7 233.9h0M623.3 218.1h0M623.5 251.9h0M623.7 238.2h0M623.4 269h0M623.1 245.1h0M624.9 318.5h0M625 204.7h0M624.4 249.2h0M624.6 204.6h0M624.7 194.4h0M624 195.6h0M624 222.1h0M624.5 231.7h0M624.9 200.1h0M625.3 290.2h0M626 192.6h0M625.6 207.5h0M625.7 226.9h0M625.2 226.8h0M625.7 173.5h0M625.5 223.6h0M625.4 223.3h0M625.5 167.6h0M625.6 255.4h0M626.6 179.4h0M626.6 276.6h0M626.4 233.2h0M627.1 198.6h0M626.5 243.7h0M626.7 251.3h0M627.2 229.4h0M627.2 228.2h0M627 186.2h0M626.8 256.5h0M626.7 296.6h0M627.3 240.1h0M628.3 178.9h0M627.4 285.4h0M628.3 310.8h0M627.9 215.2h0M627.9 202.1h0M627.8 258.2h0M627.6 218.5h0M627.9 275.3h0M627.9 317.5h0M628 226.6h0M628.6 314.5h0M628.7 211.9h0M628.6 204h0M628 247.1h0M628.4 206.8h0M628.6 245.4h0M628.7 242.3h0M628.3 292.8h0M628.8 252.2h0M628.4 287.3h0M630.1 238.5h0M629.9 184.3h0M629.4 191.9h0M630.3 215.3h0M629.3 231.9h0M629.4 192h0M629.6 219.2h0M629.5 256.9h0M629.4 207.9h0M629.5 212.9h0M629.5 253.8h0M630.1 240.9h0M630.1 285.6h0M629.7 240.8h0M629.6 285.9h0M629.4 275.1h0M629.9 304.6h0M630.3 318.3h0M630.1 239.7h0M630.1 209h0M630.8 221.5h0M630.5 187.1h0M630.3 264.2h0M630.4 257.6h0M630.7 313.3h0M630.5 302.8h0M631.8 185.2h0M631.8 305.6h0M631.7 220.7h0M632 228.8h0M631.7 232.8h0M632.4 194.7h0M631.5 249.7h0M632.5 277.1h0M632.4 324.9h0M631.9 248.3h0M632.2 267.8h0M632.5 268h0M632.3 223.4h0M632 217.2h0M632.3 246.8h0M632 202.1h0M632 198.9h0M632 225.4h0M632.5 265.7h0M632.4 260.8h0M632.2 282.2h0M632.2 296.7h0M632 277.7h0M632.4 270.9h0M632.4 330h0M631.7 322.2h0M631.9 335.8h0M634.4 307.5h0M634.1 320.6h0M634.3 293.1h0M633.5 313.5h0M633.7 163.3h0M634.1 152.9h0M633.7 212.9h0M634.2 261.8h0M634.2 151.8h0M633.4 189.1h0M633.5 199.6h0M633.6 164.6h0M633.8 272.3h0M633.8 273.4h0M633.5 310.4h0M634.3 183.9h0M635.1 202.6h0M634.7 185.2h0M634.9 198.3h0M634.5 267.8h0M634.2 246.1h0M634.5 157.2h0M634.4 180.6h0M635.1 253.7h0M634.4 278h0M634.5 257.9h0M634.2 243.6h0M634.5 299h0M634.8 185.2h0M634.8 296.7h0M635.3 208.3h0M634.7 218.2h0M635 185.1h0M635.3 249.1h0M635 184.8h0M634.7 173.7h0M635.4 218.1h0M634.9 212.6h0M634.9 285.3h0M634.8 263.6h0M635.5 239h0M635.3 258.6h0M635 332h0M635.5 328.4h0M636.5 159.2h0M637.2 209.6h0M636.5 178.2h0M636.8 186.6h0M636.7 321.6h0M637.3 232.8h0M636.7 312.2h0M636.9 261h0M637.1 272.2h0M637.3 218.6h0M636.6 246.4h0M636.9 163.3h0M636.4 191.8h0M636.4 251h0M637.1 261.4h0M636.6 308h0M636.6 148.4h0M636.7 340.2h0M637.3 317.3h0M636.8 167.3h0M637.5 149.1h0M636.7 217.6h0M637.3 221.9h0M637.1 193.3h0M637.4 252.9h0M637.2 285.9h0M637.5 255.8h0M638.9 250.5h0M638.7 220.6h0M638.5 186.7h0M639.1 230.8h0M638.7 284.2h0M638.7 263.3h0M639.3 216h0M639.2 183.1h0M638.6 234.8h0M638.9 140.8h0M638.8 233.4h0M638.8 272.4h0M639 267.7h0M639 273.5h0M638.6 284.6h0M638.6 332.3h0M639.3 332.1h0M640 262.6h0M640.3 289.6h0M640.4 208.7h0M640.4 241.5h0M640.3 206.6h0M639.6 212.7h0M639.9 280.9h0M640 291.4h0M640.1 248.7h0M639.9 317h0M640.3 318h0M640.3 145.1h0M640.5 284.4h0M640.6 287.3h0M640.8 261.4h0M640.5 323.7h0M640.6 206.6h0M640.4 228.7h0M641.1 203.5h0M640.5 202.4h0M641.5 169.9h0M641.8 183.8h0M641.5 195.6h0M641.3 203.6h0M641.5 177h0M642.1 236.7h0M641.5 239.9h0M642.1 207.1h0M641.3 220h0M641.2 194.1h0M642.2 162h0M641.9 261.2h0M641.4 251.1h0M641.7 206.4h0M641.2 251.7h0M642 288.9h0M641.9 261.2h0M641.8 242.5h0M642.2 305.9h0M643.4 215.6h0M642.7 247.5h0M643.3 230.5h0M643.2 181.6h0M642.6 299.2h0M643.3 253.3h0M643 289.7h0M642.6 312.5h0M642.5 333h0M644.1 254.7h0M644.1 155.5h0M644 247.9h0M644 258.8h0M643.4 290.2h0M643.3 235h0M643.6 177.1h0M643.9 149.1h0M644.1 226.1h0M644 227.6h0M643.5 251.5h0M643.6 208.3h0M643.9 182.8h0M643.9 205.8h0M643.2 238.1h0M643.6 260.8h0M644.2 246.3h0M643.7 290.2h0M644 238.3h0M643.5 253.6h0M643.6 268.7h0M644.1 323.4h0M644 238.1h0M644 188h0M644.1 232.7h0M644.5 231.9h0M644 218.5h0M644.1 193.1h0M644.1 199.4h0M645 154.5h0M644.3 220.3h0M644.5 294h0M644.8 296.5h0M644.1 247.5h0M644.8 243.9h0M645.6 199.9h0M645.1 202.7h0M645.3 199.8h0M645.3 222.8h0M645 171.1h0M645.6 212h0M645.6 231.6h0M645 194.9h0M644.7 147.7h0M645 175.7h0M645 281.8h0M645 242.9h0M645 288.7h0M644.8 278.1h0M644.7 239.9h0M645 241.2h0M646.5 158.4h0M646.5 162.2h0M645.8 179.5h0M645.8 193.8h0M645.8 175.4h0M647.9 148.4h0M647.4 164.2h0M647.3 134.6h0M647.5 171h0M647.3 181.1h0M647.1 164.3h0M648.6 199.1h0M647.9 176.4h0M647.7 186.6h0M649.6 162.6h0M649.4 168.1h0M648.9 126.7h0M649.3 166.2h0M649.2 126.7h0M649.8 162h0M649.5 173.3h0M649.2 158.6h0M648.9 122.3h0M650.4 149.3h0M650 200.1h0M650.1 159.3h0M650.4 176.5h0M649.9 195.2h0M650.5 137.5h0M650 145.1h0M650.5 145.1h0M650.6 222.4h0M652.3 134.6h0M651.6 183.9h0M652.1 125.8h0M651.6 177.1h0M651.9 160.8h0M651.6 173.8h0M651.5 178h0M651.7 172.1h0M651.8 182.8h0M651.7 155.2h0M652.4 164.1h0M651.8 170.3h0M651.8 143.6h0M652.3 166.8h0M651.9 167.3h0M652.5 162.4h0M651.8 142.8h0M651.9 162.8h0M652.5 234.1h0M653.8 133.7h0M653.8 166.8h0M653.9 205h0M653.3 149.4h0M653.7 148.7h0M653.4 167h0M653.9 155.1h0M654 128h0M654.7 137.4h0M654.3 126.2h0M654.8 149.2h0M654.6 176.5h0M654.5 169.1h0M654.3 138.1h0M654.7 145.9h0M654.7 207.7h0M655.1 167.1h0M655.7 125.6h0M655.2 170.6h0M655.1 199.2h0M655.4 164h0M655.5 127.8h0M655.9 135.8h0M655.5 130h0M655.4 193.1h0M655.2 128.9h0M655.7 192.7h0M656.1 141.6h0M656.4 179.9h0M655.8 165.8h0M655.8 161.1h0M656.5 154.8h0M656.5 200.9h0M657.2 161.1h0M657.3 173.8h0M657.4 162.4h0M657.2 173.6h0M657.2 162.1h0M657.9 180.1h0M658.8 184h0M658.7 182.1h0M658.5 150.6h0M659.2 174.4h0M658.5 145.9h0M659.1 163h0M658.9 157.8h0M658.6 221.3h0M658.8 173.2h0M659.5 157h0M659.5 153.1h0M659 153.3h0M659.4 130.3h0M659.5 116.4h0M659 172.6h0M659.2 164.8h0M659.7 148h0M659.3 160h0M659.2 135.1h0M659.7 157.1h0M659.3 163.3h0M659.1 100.5h0M659.7 231.3h0M660 108.8h0M660.2 135.5h0M660.4 134h0M659.7 125.5h0M660.3 188.9h0M659.8 144.4h0M660.5 121.9h0M660.4 145.4h0M660.6 218.8h0M661.2 165.7h0M661 166.8h0M661 129.6h0M660.7 152.1h0M661.4 139.8h0M661.2 128.2h0M661.2 171.8h0M661 152.7h0M661.3 138.2h0M661.6 166.3h0M661.4 175.7h0M663.1 148h0M662.5 134.5h0M662.8 161.4h0M662.6 151.9h0M662.3 167.3h0M662.4 123.9h0M663.1 159.8h0M663.8 134.7h0M663.7 141h0M663.7 207.3h0M664.4 154.2h0M664 154.1h0M664 131.2h0M664.8 156.4h0M664.6 144.1h0M664.2 157.6h0M664.2 119.8h0M664.6 128h0M665.9 152.3h0M665.8 132.8h0M666.1 131.6h0M665.5 162.4h0M665.4 128.8h0M665.7 174.5h0M666.1 185.3h0M667.2 147.8h0M666.9 106.5h0M667.1 180.6h0M666.9 137.1h0M666.7 120.4h0M667.5 172.5h0M667 148.6h0M666.6 92.5h0M666.5 182h0M667.8 157h0M668 105.6h0M667.1 148.5h0M667.5 154.4h0M667.4 174.4h0M667.5 146.1h0M667.9 134.4h0M667.6 155.8h0M667.5 130.1h0M667.8 92.3h0M667.6 202.2h0M668.7 177.2h0M668.3 120.2h0M669 169.1h0M668.7 149.7h0M668.5 129.3h0M669.5 152.8h0M669.1 130.5h0M668.8 173.8h0M669.4 136.3h0M669.5 150.3h0M669.1 149.7h0M669.3 128.5h0M668.8 165.9h0M669.6 145.4h0M670.2 120.9h0M670.2 109.8h0M670.4 163.5h0M670.3 122.2h0M670.1 145.7h0M671.2 151.2h0M671.2 133.8h0M671.5 146.7h0M671 125.8h0M671.2 162.7h0M670.9 143.5h0M671.2 159.7h0M671.3 122.9h0M671.6 147.4h0M671 201h0M671.9 155.2h0M671.9 161.1h0M672.2 158h0M671.8 117.6h0M672.2 149.9h0M672.7 144.3h0M672.2 194h0M673.3 143h0M673.2 140.5h0M673.2 137.2h0M673.7 133h0M673.8 141.4h0M673.3 182.6h0M673.3 193.4h0M674.8 147.4h0M674.1 137.7h0M674.9 120.5h0M674.7 165h0M674.4 158.6h0M674.4 147h0M674.4 128.1h0M674.7 146.5h0M674.1 120.6h0M674.2 161.4h0M674.7 184.4h0M675.2 118.7h0M675.2 134.3h0M675.1 147.3h0M675.9 150.1h0M675.6 148.8h0M675.7 135.6h0M676 144h0M675.9 131.2h0M675.7 144.2h0M675.7 155.7h0M675.6 101.6h0M675.2 174.9h0M677 108.3h0M677 102.4h0M677.3 110.5h0M677.8 164.1h0M678.1 140.2h0M678.9 138h0M678.4 127.1h0M678.6 127.3h0M678.6 146.3h0M678.5 135.8h0M678.3 136.5h0M678.6 134.3h0M679.3 144.4h0M678.8 131.8h0M679.2 161.6h0M679.3 105.5h0M679.5 152.9h0M679.6 133.3h0M680.5 131.6h0M680.7 123h0M681.6 108.6h0M681.3 145.7h0M682.1 143.7h0M682.1 148.3h0M681.7 153.5h0M681.4 132.3h0M681.4 119.8h0M682.9 101.9h0M682.3 145.4h0M682.6 124.6h0M682.1 134.8h0M682.7 119.7h0M682.6 129.4h0M682.1 162.1h0M682.4 173.5h0M683.7 141.4h0M683.5 142.2h0M683.5 133.4h0M682.9 136.2h0M683.3 124.2h0M683 153.4h0M683.1 185h0M685.2 147.6h0M686.1 104h0M686.1 125.2h0M686.1 109.2h0M686.8 118.5h0M686.4 93.9h0M686.1 137.7h0M686.2 158.1h0M687.1 135.2h0M687.5 118.1h0M686.8 120.8h0M687.4 130.3h0M687.1 130.1h0M688.9 149.3h0M688.5 112.5h0M688.9 154.7h0M688.3 118.8h0M689.1 131.1h0M689.1 124.4h0M688.2 92.8h0M688.2 127.2h0M688.5 181.5h0M689 123.8h0M689 158.2h0M689.7 102.3h0M688.9 173.2h0M691.1 138h0M690.8 133.2h0M690.8 104.1h0M690.4 115.5h0M690.2 154h0M690.7 102.1h0M690.4 136.5h0M690.7 129.7h0M691.3 123.6h0M691.5 112.8h0M690.6 134.1h0M691.6 94.2h0M690.9 153.8h0M691.9 103.3h0M692.4 100.5h0M691.9 117h0M691.7 108.6h0M691.9 141.4h0M691.8 94.9h0M691.8 101.8h0M691.7 151.1h0M692.2 160.4h0M693.8 127.7h0M693.6 93.4h0M693.3 125.5h0M693.2 136.8h0M693.5 86.1h0M693.7 142.7h0M694 104.9h0M693.6 114.2h0M693.5 102.7h0M694.6 145.5h0M694.6 105.6h0M694.6 114.8h0M694.8 74.2h0M695.3 143.6h0M695.6 111.1h0M695.1 91.1h0M695 131.1h0M695.7 118.7h0M695.2 123.5h0M695.9 93.8h0M695.3 82.8h0M696.5 83.3h0M696.2 95.8h0M696.4 82.7h0M696.4 128.4h0M696.6 92h0M696 106.3h0M696.3 125.8h0M696.2 110.1h0M696.5 122h0M698 85.3h0M698.2 131.8h0M697.9 110.3h0M697.5 109.8h0M698.2 115.8h0M698.1 111.4h0M697.3 108.2h0M698.9 116h0M698.7 144.9h0M698.8 118.9h0M698.3 113.4h0M698.7 122.2h0M699.6 97.6h0M699.5 137.4h0M699.1 119.1h0M699.4 95h0M701 95h0M700.6 114.1h0M700.5 100.3h0M700.3 105.5h0M701.1 122.9h0M701 78.5h0M701.4 155.2h0M701.6 119.6h0M701.1 101h0M701.4 126h0M701.5 124.7h0M701.6 140.9h0M701.5 81.2h0M703 80.5h0M702.8 111.4h0M703.1 94.2h0M702.9 120.1h0M702.7 100.2h0M703.3 147.8h0M703.3 93.2h0M702.9 117.1h0M703.2 114.6h0M702.6 106.8h0M702.7 95.3h0M703.2 111.9h0M703.8 104h0M703.7 103.3h0M704.1 106.6h0M703.5 135.9h0M703.9 117.2h0M704.2 66.6h0M703.6 109.4h0M704.4 107h0M703.6 130.1h0M704.6 79.7h0M706.1 136.4h0M705.7 108.8h0M705.2 101.8h0M705.9 88.6h0M705.3 98.3h0M705.5 122.8h0M705.1 121.5h0M705.9 90.1h0M706.5 82.2h0M705.7 83.4h0M706.1 112.6h0M706.4 84.5h0M705.8 105.5h0M706.5 114.3h0M706.5 118.4h0M705.9 117.4h0M706.2 128.6h0M705.8 78h0M705.8 61.3h0M708 119.3h0M707.8 111.5h0M707.9 110.2h0M707.6 96.8h0M708 109.6h0M708 87h0M707.8 115h0M707.2 115.1h0M707.3 67.5h0M707.9 61.8h0M709.3 84.4h0M708.8 91.8h0M709.4 124.8h0M708.9 142.4h0M709.3 93.9h0M708.8 121.7h0M709.2 140.7h0M710.1 105.4h0M710.1 81.9h0M710.3 102.2h0M709.8 87.6h0M709.8 106.1h0M710.1 88.8h0M710.2 84h0M709.9 82h0M710.1 75.4h0M710.4 101.5h0M709.9 130.7h0M710.1 118.6h0M710.4 110.6h0M709.8 81.8h0M710.3 93h0M710.3 103h0M710.1 104.9h0M710.1 83.8h0M710.6 122.6h0M711.1 126.8h0M711.8 110.8h0M711.3 93.4h0M711.1 81.8h0M711.7 118.5h0M711.9 118.9h0M712.6 75.2h0M712.7 107.1h0M712.7 72.1h0M713.4 109.1h0M712.7 81.7h0M713.2 83.1h0M713.8 83.2h0M713.2 64.4h0M714 85.4h0M713.2 79h0M713.7 101.7h0M713.6 117.8h0M713.3 64.4h0M713.6 68h0M714.9 103.7h0M714.7 93.5h0M714.8 115.3h0M715.2 94.8h0M715.3 92h0M715.3 107.9h0M715.6 91.6h0M716.3 105.6h0M716.4 84.6h0M716.3 88.8h0M716 60.1h0M716.7 113.1h0M717.7 61h0M718 108.6h0M717.8 78.4h0M717.6 68.6h0M717.8 80h0M718.3 90.3h0M719 81.3h0M718.3 114.1h0M718.6 84.5h0M718.4 112.7h0M718.9 94.2h0M718.4 59.8h0M718.7 73.3h0M719.8 114.7h0M719.5 97h0M719.6 59.8h0M719.3 72.8h0M719.6 79.8h0M719 90.6h0M720.7 63.3h0M720.9 73.8h0M720 106h0M721.8 66.7h0M721.4 112.1h0M721 67.5h0M721.9 86.8h0M721.5 98.9h0M721.2 97.1h0M721.9 69.7h0M721 99.9h0M721.8 95.6h0M721.1 91.4h0M722.6 103.7h0M722.3 108.4h0M721.7 118.1h0M721.9 89.4h0M722 92.7h0M723.4 113.4h0M723.6 75.7h0M723.4 76.4h0M724.5 77h0M725.4 89.3h0M724.6 94.7h0M726.2 109.8h0M725.7 77.7h0M726.3 93h0M725.6 78.7h0M726.2 68.7h0M726.3 94.3h0M725.6 83.1h0M726.6 97.1h0M726.2 97.9h0M726.6 78.6h0M726.7 105.9h0M725.9 64.6h0M725.7 80.8h0M726.3 58h0M727.4 65.8h0M727.8 116.5h0M727.7 110.8h0M727.6 104.8h0M727.9 77.6h0M728 70.5h0M728.5 80.3h0M727.7 99.3h0M728.3 83.9h0M727.8 108h0M728.5 125.8h0M728.5 103.9h0M728.6 66.8h0M730 84h0M729.7 64.9h0M730.1 96h0M730.1 119.8h0M730.5 89.1h0M730.5 76.6h0M730.6 109h0M731.2 94.7h0M732 113h0M731.4 71.7h0M732.1 110.5h0M732.1 92h0M732.4 104h0M732.3 78h0M731.9 59h0M733.5 76.1h0M733.9 72.5h0M733.8 69.4h0M734 104.1h0M734 134.2h0M733.4 108.8h0M734.7 71.5h0M734.8 91.2h0M734.3 69.3h0M735.2 88.2h0M734.9 99.9h0M734.9 117.1h0M734.8 129h0M734.3 123.9h0M736 122h0M736.1 85.8h0M735.6 110.5h0M735.8 139h0M735.8 128.5h0M735.4 117.2h0M736 98.5h0M736.2 133.2h0M735.2 91.5h0M736.9 66.4h0M736.8 89.6h0M736.5 103.6h0M736.2 85h0M736 71.1h0M736.5 147.9h0M737.2 134.8h0M737.4 88.1h0M737.4 104.9h0M737.1 103.7h0M737.3 95.6h0M737.1 62.9h0M737.8 130.6h0M738.3 138.9h0M738.6 91.5h0M737.9 81h0M738.4 127.1h0M737.9 118.4h0M739.2 64.3h0M739.4 92.8h0M739.9 132.1h0M739.6 87.5h0M740.2 120.3h0M739.4 104.5h0M740 103.7h0M739.7 135.3h0M739.5 88.3h0M740 161.6h0M740.1 164.8h0M739.9 75.5h0M740.3 141.7h0M740.3 141.9h0M740.1 141.2h0M739.6 79.1h0M740.5 105.6h0M741.9 70.7h0M742.2 151.2h0M741.8 105.5h0M742.2 115.4h0M741.8 138.8h0M741.4 90.4h0M741.5 75.5h0M742 133h0M741.6 123.4h0M742.3 89.6h0M741.8 99h0M741.7 83h0M741.4 99.2h0M742.8 148.6h0M742.2 143.7h0M742.7 155.5h0M742 108.8h0M742 119.1h0M742.7 100.3h0M742.4 143.3h0M742.4 97.7h0M742.6 129.9h0M743.9 156h0M743.4 76.7h0M744.1 77.4h0M743.9 150.8h0M744.3 154.8h0M744 80.6h0M744.1 106.8h0M744.3 91.2h0M743.8 96.6h0M743.7 128.9h0M743.5 169.7h0M745.4 162.5h0M744.8 91.8h0M744.5 134.4h0M745.1 110.5h0M744.9 72.5h0M745.6 92.2h0M745.1 144.3h0M745.2 97.3h0M744.9 120.3h0M745.8 57.4h0M746.6 79h0M746.6 75.2h0M747.3 89.6h0M747 93h0M747.3 73.2h0M747 97.5h0M746.7 162h0M746.8 113.6h0M746.8 105.4h0M747.2 89.6h0M746.6 125h0M746.8 74.9h0M747.1 126h0M746.9 72.8h0M746.7 58.7h0M746.9 172.2h0M747.7 104.1h0M747.9 118.2h0M747.9 124.7h0M748.4 87.9h0M748.1 111.7h0M749.1 93.2h0M749 120.9h0M748.6 130.3h0M748.8 101.7h0M749 147.8h0M748.7 99.8h0M748.6 92.8h0M748.6 141.8h0M749.1 79.7h0M749.8 64.2h0M749.6 112.5h0M749.3 96h0M749.1 137.7h0M748.9 92.5h0M751.3 95.6h0M751 84.4h0M751.1 151.6h0M751 89.8h0M751.1 102.5h0M751 133.9h0M750.8 174.1h0M750.9 104.2h0M750.6 169.6h0M751.1 171.5h0M751 108.4h0M751.1 123.5h0M751.7 85.9h0M750.8 123.6h0M751.5 83.1h0M750.9 65.9h0M752.2 75.4h0M752 111.9h0M752.5 164.2h0M752 92h0M752.5 66.4h0M752.4 114.8h0M752.6 144.8h0M752.5 154.1h0M751.8 136.2h0M752.5 160.2h0M753.9 107.7h0M753.5 117.3h0M753.4 66.7h0M753.2 107.6h0M754 115.6h0M753.5 120.5h0M753.7 149.5h0M754.1 173.1h0M754.2 139.6h0M754.5 123.1h0M754.3 119.4h0M754.3 131h0M753.8 141.3h0M754 114h0M754.7 109h0M754.4 157.1h0M754.7 93h0M755.3 115.2h0M755.5 104.9h0M755.2 95.2h0M755.7 108h0M755 71.1h0M755.6 154.5h0M755.5 109.7h0M755.3 102.3h0M755.3 116.4h0M755.5 172.1h0M755.3 170.6h0M756.2 158.2h0M756.3 139.2h0M756.4 140.3h0M755.9 87.4h0M756.1 68.5h0M756 173.3h0M756.3 119.3h0M756.5 110.6h0M756.2 146.6h0M756 133.8h0M756.2 159.1h0M755.7 159h0M756.3 149h0M756.6 104.4h0M755.7 127h0M757.9 130.2h0M757.1 165.4h0M757.7 130.4h0M757.9 97.4h0M757.5 116.3h0M757.6 115.1h0M757.7 95.9h0M757.2 146.5h0M757 172.5h0M758.4 169.5h0M758.6 123.5h0M758.5 103.9h0M758.5 110.7h0M758.2 109.4h0M758.4 96.3h0M758.2 129.5h0M758.2 136.3h0M758.9 155.5h0M758.1 107.2h0M758.1 119h0M758 133.3h0M758.2 127.5h0M760.1 142.4h0M760 107.4h0M759.5 115.5h0M759.8 130.5h0M759.7 132.8h0M759.9 125.8h0M759.6 160h0M759.5 103h0M760 73.6h0M759.3 168h0M760.3 128.5h0M759.9 119.9h0M760.2 161.8h0M760.2 104.8h0M760.1 149.2h0M760.2 133h0M760.1 104.1h0M759.6 137.9h0M760.4 147.6h0M759.7 113.3h0M759.9 147.4h0M761.4 140.2h0M762 151h0M761.8 114h0M761.3 117.7h0M761.9 170.5h0M762.8 114h0M762.9 122.1h0M762.3 165.9h0M762.4 135.5h0M762.7 139.9h0M762.7 99h0M762.5 137.1h0M764.3 126.8h0M763.9 126.2h0M764 130.8h0M764.2 135.8h0M763.6 171h0M763.6 148h0M764 160.6h0M764.1 163.7h0M764.3 165.6h0M764.4 116.2h0M765.1 164.1h0M765.8 156.1h0M765.2 136.6h0M765.8 155.9h0M765.8 155.5h0M765.1 134.1h0M765.2 137.2h0M767 127.3h0M766.3 121.6h0M766.3 147.5h0M766.5 93.3h0M767.2 163.6h0M767.2 137.5h0M767.3 123.4h0M768.5 138.1h0M769 149.3h0M768.5 148.3h0M769.4 156.9h0M768.9 134.4h0M769.1 130.3h0M769.2 151.6h0M769.4 129.4h0M769.1 164.8h0M769 139.8h0M769.4 149.9h0M769.2 142.5h0M768.9 184.4h0M770.8 120.8h0M770.8 167.4h0M770.1 119.9h0M770.9 161.1h0M770.3 130.4h0M770.1 120h0M770.5 140.3h0M770.3 146.7h0M771.9 143.2h0M772.1 140.6h0M772.3 170.5h0M772.2 134.9h0M771.4 144.9h0M772 170.6h0M771.5 118.8h0M772.3 119.3h0M772.9 155.4h0M772.5 147.9h0M772.8 196.5h0M773.4 164.1h0M773.3 190.1h0M773.3 124.9h0M773.6 160h0M773.5 185.2h0M773.7 159.9h0M773.6 182.2h0M773.3 135.1h0M773.3 137.6h0M773.8 144.6h0M773.9 221.6h0M775.1 123.2h0M774.9 128.8h0M774.8 148.3h0M774.9 157.5h0M774.8 136.5h0M774.4 242.7h0M775.4 234.6h0M775.9 143h0M775.5 218h0M775.5 212.5h0M775.6 198.6h0M775.5 203.8h0M776.3 149.1h0M775.4 151.2h0M776.2 169.1h0M776 191.8h0M776.2 185h0M776.1 213.7h0M776.2 182.8h0M775.9 165.4h0M775.7 129.2h0M775.5 201.2h0M775.7 223.9h0M776.2 227.3h0M776.1 135.2h0M776 153.3h0M776.5 161.6h0M776 197h0M776.5 141.6h0M776.4 202.7h0M776.1 195.9h0M776.6 289.2h0M777.6 153.7h0M777.8 134.7h0M777.7 145.5h0M777.2 160.1h0M777.8 143.9h0M777.8 176.4h0M777.6 129.1h0M777 128.3h0M777.2 122.4h0M777.6 278.5h0M778.9 217.1h0M778.9 199.5h0M778.4 206.7h0M778.2 143.6h0M778.3 203.5h0M778.1 144.8h0M778.8 165.8h0M777.9 139.7h0M779.8 211.2h0M779.6 127.4h0M779.5 127.2h0M779.7 153h0M779.7 151.5h0M780.3 165.9h0M779.6 203.9h0M780.4 191.9h0M780.4 184h0M780.9 188.7h0M780.5 171h0M781 162.6h0M781.1 169.1h0M780.4 139.5h0M780.7 188.1h0M780.7 187.4h0M780.3 246.2h0M781.8 225h0M781.5 209h0M781.5 195.2h0M781.7 150h0M782 180h0M782.1 186.5h0M781.5 297h0M782.8 161.8h0M782.1 168.5h0M782.6 197.9h0M782.2 137.4h0M782.4 253.1h0M782.8 281.5h0M783 170.5h0M783.2 153.4h0M782.7 173.9h0M783.1 161.9h0M783.6 177.8h0M783 160.9h0M783.2 144.8h0M783.2 265.5h0M784.7 199.5h0M784.2 176h0M784 173.4h0M784.4 201.7h0M784.3 154.4h0M784.3 155.5h0M784.2 128.2h0M784.3 300.9h0M785.4 190.2h0M785 156.4h0M784.9 175.6h0M785.2 144.6h0M785.2 103h0M785.7 173.4h0M785.6 150.9h0M786.4 133h0M786 170.4h0M785.8 164.3h0M786 186.2h0M786.4 166.5h0M786.4 221h0M787.2 172.9h0M787.7 193.1h0M787.6 151.2h0M788.7 208.8h0M788.5 156.2h0M789.1 158.2h0M789.2 113.8h0M789.1 274.6h0M789.2 234.4h0M789.4 147.8h0M789.5 191.4h0M789 196.7h0M788.9 158.4h0M789.7 196.9h0M789.8 190h0M789.6 191.4h0M789.1 126.7h0M790.9 131.6h0M790.3 165.5h0M790.3 175.9h0M790.2 187.5h0M791.1 198.3h0M791.2 203.9h0M791.1 201.1h0M791.5 166.8h0M791.1 215.8h0M790.8 162.8h0M790.9 219.5h0M792.3 148.3h0M793.1 200.8h0M792.5 201.8h0M792.8 159.6h0M792.6 183.7h0M793 190.4h0M792.6 167.9h0M792.8 100.4h0M793.8 151h0M793.7 147h0M793.8 157.2h0M793.4 155.1h0M793.6 168.2h0M794.6 201.5h0M795.4 164.2h0M795.3 150.1h0M795.4 169.3h0M795.4 174.6h0M795.3 164.1h0M794.8 153.3h0M795 143.7h0M795 178.6h0M794.8 163.2h0M794.8 266.1h0M795.8 141.2h0M796.2 182.1h0M795.9 169.3h0M795.7 162.8h0M796 196.9h0M795.5 130.5h0M795.9 287h0M796 236.3h0M796.2 186.4h0M796.8 175.5h0M796.3 202.7h0M796.8 201.6h0M796.3 181.6h0M796.3 191.6h0M796.4 169.7h0M796.1 117.7h0M797.6 195.8h0M798.3 165.8h0M798.2 186h0M798.3 170.4h0M797.7 132.5h0M798.1 203.2h0M797.5 172.3h0M797.5 210.4h0M798.9 193.1h0M798.9 180.7h0M798.4 183.2h0M799.6 214.7h0M799.2 139.2h0M799.7 216.3h0M799 183.3h0M799.4 206.5h0M799.3 176.3h0M798.9 153h0M799.3 213.8h0M799.5 164h0M799.7 135.8h0M799 178h0M800.9 202.9h0M801.1 176.4h0M800.1 167.1h0M800.8 142.7h0M800.5 170.6h0M800.8 176.7h0M800.5 173.4h0M800.6 155.9h0M800.1 171.9h0M801.4 202.4h0M801.6 175.8h0M801.8 151.9h0M801.9 163.9h0M801.5 140.6h0M801.5 161.6h0M802.1 215.4h0M801.8 190.9h0M801.9 189.1h0M802.5 157.3h0M802 177.2h0M802 210.1h0M801.9 248.4h0M802.6 217.2h0M803.6 202.4h0M803.8 151.3h0M803.3 197.9h0M802.9 189.7h0M803.3 174.2h0M803.6 174.1h0M803 221h0M804 168.8h0M804.4 182.2h0M804.7 197.6h0M804.4 180.4h0M804.6 204.5h0M804.8 179.5h0M804.3 177.9h0M804.1 207.8h0M805.4 209.4h0M805.1 190.3h0M805.5 194.4h0M805 185.9h0M805.5 174.8h0M805.5 152.7h0M807.5 218.1h0M806.7 188.4h0M806.7 169.9h0M807.2 226.7h0M806.9 184.5h0M807.3 234.1h0M806.7 211.5h0M807.3 211.5h0M807.8 189.8h0M807.1 182h0M808 200.5h0M807.4 204.6h0M807.7 218.5h0M807.9 217.9h0M807.5 229.6h0M807.6 245.8h0M807.9 189.4h0M807.6 210.1h0M808.3 210h0M807.8 176h0M807.8 184.5h0M807.8 216.2h0M807.9 202.8h0M808.1 196.5h0M807.6 226h0M810.2 185.9h0M809.7 202.9h0M809.6 212.1h0M810.1 193.8h0M810.4 190.3h0M810.1 168.6h0M810.7 224.5h0M810.5 182.8h0M810.5 202.4h0M810.3 174.3h0M810.8 193.1h0M811 284.8h0M811.6 228.8h0M811.4 235.8h0M811.7 162.5h0M811.5 162.3h0M811.8 195.4h0M811.4 232.3h0M811.3 202.3h0M811.7 206.2h0M812 234.5h0M811.3 226h0M812 159.2h0M811.9 193h0M811.6 172.8h0M811.7 215h0M812.6 173.5h0M812.1 215.8h0M811.7 202.7h0M812.5 226.6h0M812.6 183.2h0M812.6 208.6h0M812.7 206.7h0M812.5 186.8h0M812.6 223.3h0M811.9 203.3h0M812.3 213.2h0M812.4 182.1h0M811.9 186.6h0M814.3 217.2h0M814 202.3h0M813.9 234.8h0M813.5 223.5h0M814.2 201.7h0M814.1 166.5h0M813.7 225.2h0M814.4 224.3h0M814.4 218.1h0M813.9 177.1h0M814.4 155h0M814.6 136.6h0M814.6 229.5h0M816 190.8h0M815.9 197.8h0M815.9 157.5h0M815.8 195.7h0M815.7 168.9h0M816.2 213.1h0M815.6 148.6h0M816.8 209.5h0M816.5 212.5h0M816.4 184.4h0M816.6 202.3h0M816.7 228.8h0M816.7 161.1h0M816.1 199.3h0M816.5 188h0M816.1 213.4h0M817 241.1h0M817 173h0M816.1 198.1h0M816.7 212.9h0M817 281.1h0M818.2 228.3h0M817.5 199h0M817.9 193.2h0M818.1 238.6h0M817.5 165h0M818 165.3h0M818.4 175.6h0M818.1 188.2h0M818.2 200.6h0M818.2 230.8h0M817.8 208.8h0M818.2 186.7h0M818.3 163.2h0M818.2 193.7h0M819.8 236h0M820.3 213.1h0M819.9 202.1h0M820.4 182.6h0M820.1 211.7h0M820.3 266.2h0M821.1 195.3h0M820.3 235.4h0M820.3 192.1h0M820.2 174.1h0M820.4 167.1h0M820.1 259h0M821.6 221h0M822.3 201.3h0M821.7 214.6h0M821.6 213.6h0M822.4 222.9h0M822.4 183h0M822.2 196h0M821.7 194.4h0M822.3 185h0M822.4 211.4h0M822.3 196.8h0M821.9 204.3h0M822.3 197.4h0M822.5 201.8h0M822.4 223.8h0M822.4 191.2h0M821.7 167.5h0M822.6 259.4h0M823.7 173.7h0M823.3 173.3h0M822.9 229.7h0M823 229.1h0M823.1 223h0M823 201.1h0M823.1 221.7h0M823.1 245.4h0M823.5 211.7h0M824.5 197.2h0M824.3 236.1h0M824.5 229.8h0M824.2 193.3h0M824.8 223.7h0M824.7 176h0M825 225.8h0M824.9 181.1h0M824.8 224.4h0M825.8 180.9h0M825.7 210.8h0M826.1 205.4h0M825.8 217.8h0M826.2 216h0M825.8 234.7h0M826.2 223.7h0M825.5 218.9h0M826.1 172.2h0M827 178h0M826.6 240.6h0M826.6 187.2h0M826.1 210.8h0M826.7 231.7h0M826.7 235.2h0M827 198.9h0M826.9 211.4h0M826.4 181.8h0M826.4 193h0M826.6 198.2h0M826.5 263.7h0M826.9 201.8h0M827.3 229h0M827.5 215.5h0M827.4 185.5h0M827.4 307.9h0M829.2 181.6h0M828.5 222h0M828.7 211.1h0M829 195.4h0M829.8 233.1h0M829.4 226.6h0M829.9 198.2h0M829.7 204.8h0M829.5 206.8h0M829.3 231.7h0M829.2 183.2h0M829.8 215.3h0M829.1 198h0M830.8 183.9h0M830.8 188.3h0M831.1 193.1h0M830.5 203.9h0M830.9 204.7h0M830.5 166h0M830.7 171.1h0M831.1 256.6h0M831.3 266.6h0M832.1 200.6h0M832.1 206.3h0M832.3 234.9h0M831.5 231.9h0M831.7 221.1h0M831.5 205.9h0M831.6 189.8h0M831.9 236.7h0M832.1 260.3h0M832 294.8h0M832.8 247.6h0M832.9 231.4h0M832.7 241.5h0M832.7 216.1h0M832.3 232h0M832.9 218.3h0M832.9 229.8h0M832.6 243.7h0M833.3 198h0M833.6 231.5h0M833.6 185.5h0M833.5 249.4h0M833 235.8h0M834.1 200.7h0M834.7 194.7h0M834.2 224.5h0M834.2 238.2h0M834.1 220.7h0M834.8 192.6h0M834.8 192.1h0M834.4 219.7h0M834.6 244.4h0M834.2 223.4h0M835.1 240.3h0M835 217.9h0M834.9 245.4h0M834.8 224.6h0M835.3 196.2h0M836.3 245.5h0M836.8 234.2h0M836.9 235.9h0M836.1 235.5h0M836.5 251.9h0M836.3 229.2h0M836.9 203.7h0M836.8 231.5h0M836.7 247.4h0M837.4 215.1h0M837.2 235.6h0M837 225.8h0M836.8 245.3h0M837.4 230h0M836.9 213h0M837.1 299.6h0M838.2 231.7h0M837.7 246.1h0M837.8 235.4h0M838.4 216.6h0M837.9 223.2h0M838.3 294.9h0M839.8 225.5h0M841.1 206.9h0M840.3 227h0M840.3 226.4h0M841.5 226.3h0M841.2 232.9h0M841 219.5h0M841.3 247.6h0M841.2 216.3h0M840.8 207.8h0M843.3 239.1h0M843.4 236.1h0M842.9 237.3h0M843 212.6h0M842.9 248h0M843.2 243.1h0M844 223.1h0M843.8 232.9h0M843.6 235.3h0M844.2 252.9h0M844.6 232.9h0M844.5 239.2h0M845.2 224h0M845.2 213.9h0M845.8 221h0M846 273.3h0M846.5 241.3h0M847 244.8h0M846.5 231.1h0M848.2 217.2h0M848.4 240.1h0M848.2 226.7h0M848.2 224.6h0M848.7 220.9h0M849.5 218.2h0M849.4 233.1h0M849.6 228.8h0M849.6 231.6h0M850.6 226.3h0M850.5 242.2h0M850.6 225.5h0M850.9 235h0M851.4 228.8h0M851.1 238.5h0M850.7 212.6h0M852 242.7h0M851.6 235.1h0M851.7 254.6h0M851.9 228.3h0M851.6 208.4h0M851.3 213.7h0M851.7 257.6h0M852.5 236.5h0M852.4 236.3h0M852.6 244.9h0M852.2 221h0M855.3 244.9h0M855.7 221.7h0M855.4 245h0M855.6 228.1h0M855.6 238.7h0M855.5 248.7h0M856.1 257.4h0M855.9 247.3h0M855.9 239.5h0M856.5 247h0M856.2 244h0M856.5 238.8h0M857.7 225h0M858 219.8h0M857.2 252.2h0M857.2 239h0M858 284.9h0M858.1 272.6h0M858 226.5h0M858.5 245.5h0M857.7 238.7h0M857.9 270.3h0M858.1 228.9h0M857.9 275.6h0M859.7 247h0M859.5 248h0M859.5 249.8h0M859.5 259.4h0M859.4 254.3h0M859.1 235.3h0M859.5 238.9h0M859.8 271.9h0M859.4 271.6h0M860.8 269h0M860.2 258.4h0M860.7 264.2h0M860.7 234.6h0M861.1 243.8h0M861.1 232.6h0M861.3 234.5h0M861.1 258.6h0M861.1 244.1h0M863.1 234.1h0M863.4 226.7h0M863.5 269.1h0M863.4 249.7h0M863 241.8h0M863.8 217.5h0M863.1 265.6h0M863.4 263.2h0M864.1 254h0M864.1 271.5h0M863.5 242.9h0M863.7 248.8h0M864.4 224.3h0M864.9 238.4h0M864.5 282.8h0M865.3 219.3h0M864.8 239.9h0M864.9 253.7h0M865 254.1h0M865 250.6h0M865.1 234.9h0M864.4 266.7h0M864.9 231h0M865.3 235.8h0M865.4 253h0M865.7 248.7h0M865.5 246.4h0M865.4 244.9h0M865.8 253.3h0M865.1 203.9h0M865 301.2h0M865.4 303h0M866.4 274.6h0M866 243.9h0M866.4 296.3h0M867.7 250.8h0M867.3 259.4h0M867.6 271.1h0M867.5 247.8h0M868.1 264.3h0M868 254.6h0M868.1 270.7h0M868.7 271.6h0M868.6 251.1h0M868.4 256.5h0M869 244.8h0M868.7 250.3h0M869.7 245.4h0M869.5 252.5h0M869.6 250.9h0M869.1 261.2h0M869.7 233h0M869.2 213.7h0M869.5 303.7h0M871.2 266.2h0M871.4 255.9h0M870.5 234.9h0M870.8 233.2h0M871.3 275.5h0M872.1 224.2h0M871.5 260.8h0M872.4 262h0M871.8 277.2h0M872.3 253.8h0M871.7 269.1h0M872.3 275.3h0M872.4 279.5h0M872 273.6h0M872.1 255.1h0M872.8 269.3h0M872.5 272.3h0M873.6 221.2h0M874.4 262.8h0M874.3 261.7h0M873.6 285.6h0M874.3 243.8h0M873.8 253.5h0M874.1 244.3h0M874.3 259.8h0M874.2 274.4h0M875.1 249.7h0M874.8 263.1h0M874.7 269.8h0M875.2 248.5h0M875.1 272.7h0M875.1 245.7h0M874.7 221.6h0M875.3 309.3h0M875.8 251.6h0M876.1 252.7h0M876.4 287.1h0M875.8 240.5h0M876.3 246.9h0M876.7 285.9h0M876.7 255.8h0M876.5 267h0M877.2 237.6h0M876.9 222.2h0M876.8 275.7h0M877.2 257.2h0M877.8 262.5h0M877.4 234h0M878.8 275.7h0M878.9 283.7h0M878.1 241.9h0M878.7 292.6h0M878.1 300.3h0M879.5 233.1h0M879.1 290.9h0M878.7 227.7h0M879 264.4h0M878.9 244.9h0M878.9 269.5h0M878.7 256.8h0M880.3 277.4h0M880.4 276.7h0M879.6 272.5h0M880.5 266.8h0M879.8 222.3h0M880.5 221.4h0M879.9 286.5h0M879.9 266.5h0M880.1 267.5h0M881.6 241.4h0M881.7 273.3h0M881.7 229.4h0M881.9 216.2h0M881.5 270h0M881.6 257.5h0M881.6 273.5h0M881.2 271.3h0M882 274.7h0M881.6 247.6h0M881.8 240.7h0M881.8 261.6h0M881.8 301.9h0M882.1 266.9h0M882.7 278.8h0M881.9 247.6h0M882.7 269.4h0M882.7 243.8h0M882 250.9h0M882.2 223.3h0M882.8 219.9h0M882.3 302.1h0M883.3 237.8h0M883.2 277.3h0M883.5 277.7h0M883.7 249.5h0M883.1 246.8h0M883.1 282.9h0M883.3 221.6h0M882.9 306.9h0M885 257.2h0M884.7 270.2h0M884.9 267.5h0M885.4 288.4h0M885.4 249.4h0M886.5 264.9h0M886 278.2h0M887.8 282.5h0M887.4 268h0M887.8 280h0M887.6 286.8h0M888 291h0M889.2 273.8h0M888.8 279.8h0M888.5 287.8h0M888.6 287.5h0M889.5 287.9h0M889.9 292.5h0M889.9 263.1h0M889.8 273.9h0M889.5 259.3h0M892.3 291.7h0M893 301.8h0M892.4 281.5h0M893 311.8h0M892.7 282.9h0M892.6 305.9h0M892.9 263.7h0M893.1 300.6h0M893.7 304.3h0M893.8 319.2h0M893.1 307.5h0M893.7 285h0M893.2 269.2h0M893.6 286.6h0M893.4 307.3h0M893.6 289.4h0M893.7 286.9h0M894.3 306.7h0M893.9 291.3h0M894 293h0M894.2 269.4h0M893.8 293.6h0M895.3 303.2h0M896.1 324.3h0M895.8 305h0M895.4 300.9h0M895.4 286.8h0M896.2 266.2h0M895.3 309.8h0M895.5 300.5h0M895.8 304.4h0M895.5 292.9h0M895.6 300.8h0M895.9 321.4h0M895.3 334.3h0M896.3 287.4h0M896.6 312.5h0M896.9 285.6h0M896.4 301.1h0M896.7 286.7h0M897.8 275.4h0M897.6 267.2h0M897.5 294.9h0M898.4 267.3h0M898.9 311.5h0M898.5 274.6h0M898.4 300.5h0M898.7 278.5h0M899 303.2h0M899.8 268.5h0M899.9 300.6h0M899.1 297.4h0M899.8 283.8h0M899.1 311.5h0M899.1 284.8h0M899.4 287.9h0M899 305.1h0M899.4 293.5h0M901.1 316.7h0M901.3 271.7h0M900.7 288h0M900.7 297.8h0M900.6 310.8h0M902.2 327.2h0M902.4 295h0M902.1 300.6h0M902.2 267.4h0M902 330.9h0M901.9 323.9h0M901.7 354.1h0M903.2 271.9h0M903 302.3h0M903.1 328h0M902.3 316.9h0M903 301.8h0M903.1 320.3h0M903.1 295.8h0M903.1 341.2h0M903 343.7h0M902.7 277h0M903.5 343.1h0M903.3 294.3h0M903.4 291.8h0M902.9 303.5h0M904.6 289.2h0M904.5 325.1h0M904.1 308.7h0M904.7 309.6h0M904.1 270.3h0M903.9 287h0M904.7 277.9h0M905.9 318.9h0M905.7 306.8h0M905 313.4h0M905.5 275.4h0M905.1 330.7h0M906.7 351.3h0M907.2 309.9h0M906.6 317.1h0M907.3 273.6h0M907.2 354.3h0M907.6 323.4h0M908 336.1h0M907.5 328.4h0M907.9 303.1h0M908.7 334.1h0M908.7 316.5h0M908.3 340.6h0M908.7 332.7h0M908 327.1h0M908.5 340.5h0M908.8 302.8h0M908.2 312.9h0M908.9 330.7h0M908.7 324.4h0M908.2 306.2h0M908.2 313.5h0M908.9 276.9h0M909 333.8h0M909.4 338.5h0M909.6 335.9h0M909.1 309.5h0M909.4 312.7h0M908.9 338.3h0M909.4 322.1h0M909.4 302h0M909.7 359h0M910.6 286.5h0M910 313.8h0M910.3 339.8h0M910 326.8h0M910.7 308.4h0M910.7 300.6h0M910.8 336.4h0M911.8 282.3h0M912.1 276.6h0M912.2 332.8h0M911.3 375.5h0M911.4 346h0M911.2 363h0M912 339.3h0M911.8 296.7h0M911.9 331.9h0M912.5 348.5h0M912.3 348.2h0M911.6 351.5h0M911.9 337.7h0M912.3 336.5h0M911.6 313.8h0M911.8 327.5h0M913.8 298.8h0M913 316.7h0M913.3 314h0M913.8 315.5h0M913.6 313h0M913.1 304.8h0M913.1 279.4h0M914 350.4h0M914.1 319.5h0M914.7 302.2h0M914 286.3h0M914.3 318.6h0M914 344.5h0M914.8 310.7h0M914.3 365.7h0M914 277.3h0M914 334.5h0M914.2 322.7h0M914.6 334.1h0M914.5 325h0M913.9 358.3h0M915.3 311h0M915.8 323.6h0M915.5 312.2h0M915.1 299.7h0M915.8 317.7h0M915.7 312.7h0M914.9 330.5h0M915.2 282.4h0M916 312.5h0M915.9 294.5h0M915.7 334.6h0M915.5 325h0M916.1 350h0M915.8 288.3h0M916.4 373.1h0M918.3 368h0M918 310.7h0M917.7 298.7h0M917.6 363h0M918.1 372.5h0M918.1 378.1h0M918 349.2h0M917.8 377.3h0M918.2 345.4h0M918.2 371.8h0M918.6 321.1h0M919 322.5h0M918.6 300.7h0M918.1 374.9h0M919.6 317.5h0M919.5 283.5h0M919.7 285h0M920.5 300.5h0M920.4 345.8h0M920.1 362.6h0M920.3 328.4h0M920 308.4h0M919.9 353.3h0M919.9 357.3h0M919.7 379.3h0M919.9 331.8h0M920 365.4h0M919.9 280.8h0M920.6 313.5h0M920.3 291.8h0M920.9 334.4h0M920.6 335.4h0M921.7 293.3h0M921.5 327.9h0M921.6 293.1h0M921 332.1h0M921 381.3h0M921.5 367.5h0M921.4 325.2h0M923.3 341.5h0M923.3 337.7h0M922.7 344.6h0M923.2 378.4h0M923.4 341.7h0M922.9 284.8h0M923.4 345.8h0M923.1 347h0M922.6 349.5h0M922.7 369.3h0M923 322.3h0M923.6 325.2h0M923.1 333.3h0M923.1 291h0M923.1 354.2h0M924.4 385.3h0M924.4 366.5h0M924.4 329.6h0M924.2 311h0M924.6 306.3h0M924.2 324.3h0M924.6 355.4h0M924 321.3h0M924.5 390h0M924.2 316h0M924.1 314.2h0M923.9 348.2h0M924.1 336.9h0M925.6 365.8h0M925.3 343.5h0M925.1 345h0M925.6 311.7h0M925.2 391.5h0M926.4 310.2h0M926.2 341.2h0M926.7 328.3h0M926.7 352.4h0M926.1 354.5h0M926.6 361.3h0M926.2 371.9h0M926.8 383.4h0M926.8 340.2h0M927.6 325.3h0M928 323.4h0M928.1 336.7h0M927.6 326.5h0M927.8 357.8h0M927.6 361.7h0M928 318.4h0M927.4 361.5h0M928.1 324.3h0M928 349.4h0M928.2 329.2h0M927.5 331.3h0M928.1 333.9h0M927.4 343.2h0M927.5 362.5h0M929 326.2h0M929.1 296.9h0M929.1 317.1h0M928.9 389.8h0M928.4 321.6h0M928.9 312.7h0M929.2 373.4h0M928.5 350.6h0M929.3 328.1h0M928.9 350.9h0M929.1 339.5h0M929 336.1h0M929.2 371h0M928.9 292.8h0M929.5 381h0M930.2 333.6h0M930 332.4h0M929.3 354.5h0M929.9 364.6h0M930.1 357h0M930.2 292.3h0M930.9 334h0M931.2 317.2h0M930.9 342.6h0M930.7 364.7h0M930.3 317.8h0M930.6 300.2h0M930.9 333.5h0M931.6 347.4h0M932 335.3h0M931.8 349.9h0M931.7 340.2h0M932.2 372.4h0M931.5 380.1h0M931.5 357.4h0M932.1 416.1h0M931.9 307.8h0M932.4 358.1h0M932.3 331.9h0M931.7 363.2h0M931.9 357.2h0M932.3 368.9h0M932.3 363.2h0M931.9 371.7h0M931.9 393.6h0M932.3 350h0M932.1 337.1h0M932.4 298.2h0M934 334.2h0M933.8 358.9h0M934.1 339.7h0M934.2 351h0M933.7 323h0M933.8 382.4h0M934 428.1h0M935.1 374.1h0M934.4 366.9h0M934.6 331.4h0M934.5 385.9h0M934.5 352h0M934.4 307.2h0M935.1 376.7h0M934.9 350h0M935.2 316.3h0M934.5 363h0M934.4 351.8h0M935 393.2h0M934.9 315.3h0M934.9 381.7h0M935.5 337.4h0M935.5 355.5h0M935.4 384.7h0M934.9 351.1h0M935 421.8h0M935.7 400.3h0M935.5 422h0M935.5 394h0M935.3 401.4h0M935.6 422h0M936.2 305.7h0M936.1 396.9h0M938 358.4h0M938 351.3h0M938.1 338.6h0M937.4 397.1h0M937.8 402.7h0M938.5 371.8h0M939.2 334.7h0M939 381.2h0M938.6 381.2h0M938.8 357.8h0M939.2 353.7h0M939 377.4h0M939.2 372.6h0M938.7 422h0M938.9 343.8h0M939.3 353.4h0M939.3 323h0M939.3 352.3h0M939.6 385h0M939.3 358.7h0M940.5 361.8h0M940.1 356.9h0M940.4 340.6h0M940.5 343.3h0M940.3 366.1h0M940.3 388h0M940.5 354.8h0M940.1 317.3h0M940.8 363.4h0M942.1 390.8h0M941.9 329.9h0M941.9 401.8h0M941.6 332.7h0M942.6 362.5h0M942 333.4h0M942.1 328.6h0M942.3 341.4h0M942 338.6h0M942.1 336.7h0M943.8 345.7h0M943.9 342.9h0M943.7 368.5h0M943.7 349.1h0M944.3 336h0M943.9 341.5h0M943.6 344.7h0M943.7 408.6h0M943.9 331.7h0M944.4 354.9h0M944.5 345.4h0M943.9 375.9h0M943.9 372.3h0M944.6 355.6h0M944.3 356.6h0M943.6 334.6h0M943.9 384.8h0M944.3 381h0M943.6 355.8h0M943.8 361.3h0M945.9 369.2h0M945.8 354.2h0M945.8 366.2h0M945.9 357.2h0M946.3 358.3h0M945.7 339.8h0M946.1 428.7h0M945.9 443h0M947.3 387.3h0M947.2 335.3h0M946.5 369.5h0M946.5 374h0M946.4 375.3h0M946.9 353.5h0M946.5 338.3h0M946.8 436.6h0M947.7 359.8h0M947.6 344.7h0M947.1 384.2h0M947.3 385h0M947.5 356.5h0M947.6 419.6h0M948.4 326.3h0M948.5 376.1h0M948.2 355h0M948.2 382h0M948.6 333.3h0M948.3 358.1h0M948.3 352.7h0M948.3 387.4h0M950 369.3h0M950 325.9h0M949.9 382.1h0M950.1 364.4h0M950.3 365.7h0M949.9 362.8h0M949.9 377.9h0M950 396.1h0M949.8 440.1h0M950.4 366.6h0M950.8 341.5h0M950.5 349.4h0M950.1 340.9h0M950.1 374.4h0M950.1 399h0M950.1 323.5h0M950 404.2h0M951.4 400.4h0M951.6 352h0M951.5 395.9h0M951.3 340.2h0M950.9 354.6h0M951.7 346.1h0M951.1 392.7h0M951.8 405.5h0M952.5 332.9h0M952.7 395.1h0M952.5 339.2h0M951.9 349.9h0M952.1 331.6h0M953.4 330.5h0M953.5 396.8h0M953.2 340.7h0M953.3 341.6h0M953.9 387.9h0M953.2 393.1h0M953.6 348.9h0M954 339.6h0M953.4 352.6h0M954 357.7h0M953.9 350.9h0M953.8 384h0M953.9 379h0M954 406.1h0M954 411.5h0M954.3 348.1h0M954.2 390.1h0M954.7 362.1h0M954.5 342.2h0M954.3 348.6h0M954.1 358.9h0M956.1 344.5h0M956.3 396.7h0M956.2 387.3h0M955.7 369.3h0M956.1 336.3h0M956.3 342.2h0M956.8 334.4h0M956.4 366.2h0M956.5 359.3h0M956.6 403.9h0M957.6 372.5h0M958.4 354.2h0M957.9 347.6h0M957.7 357.4h0M957.9 337.5h0M958.2 359.9h0M957.5 376.9h0M957.7 338.9h0M958.3 383.3h0M958.5 363.4h0M958.3 348.9h0M958 347.9h0M958.3 372.8h0M958.2 372.8h0M958.5 355.8h0M957.7 376.7h0M958.5 356h0M957.7 400.2h0M958.5 360h0M959.5 380.1h0M959.1 378.4h0M959 355.2h0M959.3 339.1h0M959.5 434.4h0M959.9 380.4h0M960.5 387.6h0M959.8 380.3h0M959.8 367.8h0M960.5 379.5h0M961.5 353.5h0M961.1 326.8h0M961.4 370.9h0M960.8 363.6h0M960.6 349.3h0M961.1 359h0M961.4 325.6h0M962.1 358.1h0M962.4 368.4h0M962.4 383.5h0M961.9 364.1h0M962.5 363.9h0M962.6 341.6h0M961.9 375.3h0M963.3 368.2h0M963.4 346.5h0M963.6 345.6h0M963.4 361.6h0M962.7 379.4h0M963.1 365.9h0M963 375h0M963 339.7h0M963.3 363.2h0M963.6 365.7h0M963 401.9h0M964.5 380.3h0M964.3 335h0M964.3 342.3h0M964.6 394.5h0M964.6 326.8h0M964.6 342.8h0M964.1 391.1h0M964.2 398.2h0M965.9 364.7h0M965.3 371.8h0M965.4 329.8h0M965.9 364.6h0M965.6 386.6h0M966 420.6h0M966.2 376.1h0M966.1 374.4h0M966 330.4h0M966.7 346.1h0M966.3 357h0M966.6 370.1h0M967.1 349.8h0M967.3 353.6h0M967.6 390.7h0M967.7 397.9h0M967.2 389.7h0M967.6 346h0M967.1 342.5h0M967.1 328.2h0M967.2 339.2h0M968.3 340.9h0M968.4 361.8h0M968.1 330.6h0M968 348h0M968.2 347h0M968.6 320h0M968.5 373h0M967.9 417.3h0M541.7 155h0M929 57h0M949.5 134h0M962 152.5h0M960.8 217h0M963 267h0M627 96h0M630.7 118h0M655 87h0M625.9 408h0M631.9 417.4h0M729 187h0M716.3 38.8h0M715.8 48.4h0M725.1 50h0M690.7 63.6h0M728.5 150h0M709.5 142h0M708.5 158h0M700.5 153h0M693.1 158h0M743.5 187.5h0M750.5 186h0M794 52.3h0M794 102.5h0M766 69.5h0M744.1 52.3h0M781 91.5h0M790 96.5h0M835.1 30h0M813.1 351.4h0M813.9 359.4h0M802.9 340h0M615.5 331h0M619.9 334h0M624.5 323h0M624.1 333h0M628.5 340h0M627.5 346h0M627.1 353h0M629.1 357h0M636.5 337h0M639.1 332.4h0M637.1 361.4h0M585.9 354.4h0M548.5 390h0M557.9 383.6h0M658.5 242h0M665.5 246h0M662.5 265h0" fill="none" stroke="#000" stroke-width="5.6" stroke-linecap="round"/>
<!-- smoothed curve -->
<path d="M90.7 367 L93 361 L95 352 L96.5 348 L98 342 L100 338.5 L102.5 337.5 L105 339 L107.5 337.2 L109.5 338.5 L111.5 341.5 L114 339.5 L117 336 L119 332 L121 326 L123 320 L126 314 L130 309.5 L134 305 L138 301.5 L142 300 L146 298 L151.5 288 L156 284 L160 279.5 L162.5 274 L164.5 266 L166 258 L168.5 253.5 L172 252 L175 250 L176.5 246 L177.5 240 L180.5 232 L184 224 L187.5 217.5 L191 213.5 L195 211.5 L199 211.2 L202 209.5 L203.5 206 L204.5 201 L205.5 196 L206.5 191 L207.5 183 L208.5 176 L210 168 L214 164 L217.5 159 L220 151 L223 145.5 L226 143.8 L230 145 L234 144.5 L237 147 L241 144.5 L244.5 141 L247 135 L249 127 L250 122 L251 115 L254 111 L258 112 L262.5 109.5 L266 104 L270 97 L273.5 90 L275.5 87 L278.5 88 L283 91 L288 92 L292.5 94 L296.5 99 L301 103 L306 106 L310 108.5 L314 112.5 L317.5 117 L321 123 L323 127 L327 133.5 L331 140 L336 145 L341 149.5 L345 152 L347.5 156 L349.5 162 L350.5 167 L352.5 174 L355 178 L359 180 L362 184 L364.5 190 L367 195.5 L370 199.5 L374 202.5 L377.5 205.5 L380.5 206 L383.5 212.5 L387 212.5 L389.5 213 L392.5 221 L395.5 230 L398.5 237 L401 238.5 L404.5 234.5 L409 231 L411.5 233 L414 239.5 L417.5 244.5 L419 248 L424 255 L428 259.5 L431 261 L434.5 259.5 L437 259.5 L440 263 L443 269 L445.5 275 L448 282 L450 288 L454 296 L458.5 302.5 L463 306.5 L466 309.5 L468 315 L471 320 L475 322.5 L480 326 L484.5 334 L487.5 342 L491 348 L495 351 L498 355 L502 357.5 L506.5 361 L509.5 354.5 L512 358.5 L516 359.5 L519 361 L521.5 364.5 L524 360 L526.5 364 L530.2 367 L532.5 361 L534.5 352 L536 348 L537.5 342 L539.5 338.5 L542 337.5 L544.5 339 L547 337.2 L549 338.5 L551 341.5 L553.5 339.5 L556.5 336 L558.5 332 L560.5 326 L562.5 320 L565.5 314 L569.5 309.5 L573.5 305 L577.5 301.5 L581.5 300 L585.5 298 L591 288 L595.5 284 L599.5 279.5 L602 274 L604 266 L605.5 258 L608 253.5 L611.5 252 L614.5 250 L616 246 L617 240 L620 232 L623.5 224 L627 217.5 L630.5 213.5 L634.5 211.5 L638.5 211.2 L641.5 209.5 L643 206 L644 201 L645 196 L646 191 L647 183 L648 176 L649.5 168 L653.5 164 L657 159 L659.5 151 L662.5 145.5 L665.5 143.8 L669.5 145 L673.5 144.5 L676.5 147 L680.5 144.5 L684 141 L686.5 135 L688.5 127 L689.5 122 L690.5 115 L693.5 111 L697.5 112 L702 109.5 L705.5 104 L709.5 97 L713 90 L715 87 L718 88 L722.5 91 L727.5 92 L732 94 L736 99 L740.5 103 L745.5 106 L749.5 108.5 L753.5 112.5 L757 117 L760.5 123 L762.5 127 L766.5 133.5 L770.5 140 L775.5 145 L780.5 149.5 L784.5 152 L787 156 L789 162 L790 167 L792 174 L794.5 178 L798.5 180 L801.5 184 L804 190 L806.5 195.5 L809.5 199.5 L813.5 202.5 L817 205.5 L820 206 L823 212.5 L826.5 212.5 L829 213 L832 221 L835 230 L838 237 L840.5 238.5 L844 234.5 L848.5 231 L851 233 L853.5 239.5 L857 244.5 L858.5 248 L863.5 255 L867.5 259.5 L870.5 261 L874 259.5 L876.5 259.5 L879.5 263 L882.5 269 L885 275 L887.5 282 L889.5 288 L893.5 296 L898 302.5 L902.5 306.5 L905.5 309.5 L907.5 315 L910.5 320 L914.5 322.5 L919.5 326 L924 334 L927 342 L930.5 348 L934.5 351 L937.5 355 L941.5 357.5 L946 361 L949 354.5 L951.5 358.5 L955.5 359.5 L958.5 361 L961 364.5 L963.5 360 L966 364 L969.7 367" fill="none" stroke="#f00" stroke-width="5.56" stroke-linejoin="round" stroke-linecap="butt"/>
</g>
<!-- axes frame + ticks -->
<rect x="91.5" y="37.5" width="879.0" height="405.0" fill="none" stroke="#000" stroke-width="1.11"/>
<path d="M91.5 442.5v5.3M201.5 442.5v5.3M310.5 442.5v5.3M420.5 442.5v5.3M530.5 442.5v5.3M640.5 442.5v5.3M750.5 442.5v5.3M860.5 442.5v5.3M970.5 442.5v5.3M91.5 78.5h-5.3M91.5 126.5h-5.3M91.5 173.5h-5.3M91.5 221.5h-5.3M91.5 268.5h-5.3M91.5 315.5h-5.3M91.5 363.5h-5.3M91.5 410.5h-5.3" fill="none" stroke="#000" stroke-width="1.11"/>
<g style="will-change:transform">
<g><text x="76" y="462" font-size="13.9" textLength="30" lengthAdjust="spacingAndGlyphs">0.00</text><text x="186" y="462" font-size="13.9" textLength="29" lengthAdjust="spacingAndGlyphs">0.25</text><text x="296" y="462" font-size="13.9" textLength="30" lengthAdjust="spacingAndGlyphs">0.50</text><text x="406" y="462" font-size="13.9" textLength="29" lengthAdjust="spacingAndGlyphs">0.75</text><text x="516" y="462" font-size="13.9" textLength="29" lengthAdjust="spacingAndGlyphs">1.00</text><text x="626" y="462" font-size="13.9" textLength="29" lengthAdjust="spacingAndGlyphs">1.25</text><text x="736" y="462" font-size="13.9" textLength="29" lengthAdjust="spacingAndGlyphs">1.50</text><text x="846" y="462" font-size="13.9" textLength="29" lengthAdjust="spacingAndGlyphs">1.75</text><text x="954" y="462" font-size="13.9" textLength="31" lengthAdjust="spacingAndGlyphs">2.00</text></g>
<g><text x="39" y="84" font-size="13.9" textLength="11" lengthAdjust="spacingAndGlyphs">−</text><text x="50" y="84" font-size="13.9" textLength="30" lengthAdjust="spacingAndGlyphs">0.06</text><text x="39" y="131" font-size="13.9" textLength="11" lengthAdjust="spacingAndGlyphs">−</text><text x="50" y="131" font-size="13.9" textLength="30" lengthAdjust="spacingAndGlyphs">0.04</text><text x="39" y="179" font-size="13.9" textLength="11" lengthAdjust="spacingAndGlyphs">−</text><text x="50" y="179" font-size="13.9" textLength="30" lengthAdjust="spacingAndGlyphs">0.02</text><text x="51" y="226" font-size="13.9" textLength="30" lengthAdjust="spacingAndGlyphs">0.00</text><text x="51" y="274" font-size="13.9" textLength="29" lengthAdjust="spacingAndGlyphs">0.02</text><text x="51" y="321" font-size="13.9" textLength="29" lengthAdjust="spacingAndGlyphs">0.04</text><text x="51" y="368" font-size="13.9" textLength="30" lengthAdjust="spacingAndGlyphs">0.06</text><text x="51" y="416" font-size="13.9" textLength="30" lengthAdjust="spacingAndGlyphs">0.08</text></g>
<text x="510" y="482" font-size="13.9" textLength="41" lengthAdjust="spacingAndGlyphs">Phase</text>
<text transform="translate(27 284) rotate(-90)" font-size="13.9" textLength="87" lengthAdjust="spacingAndGlyphs">Δ Magnitude</text>
<text x="408" y="29" font-size="18.2" textLength="243" lengthAdjust="spacingAndGlyphs">Light curve of ASCC 1355215</text>
</g>
</svg>
</body></html>
